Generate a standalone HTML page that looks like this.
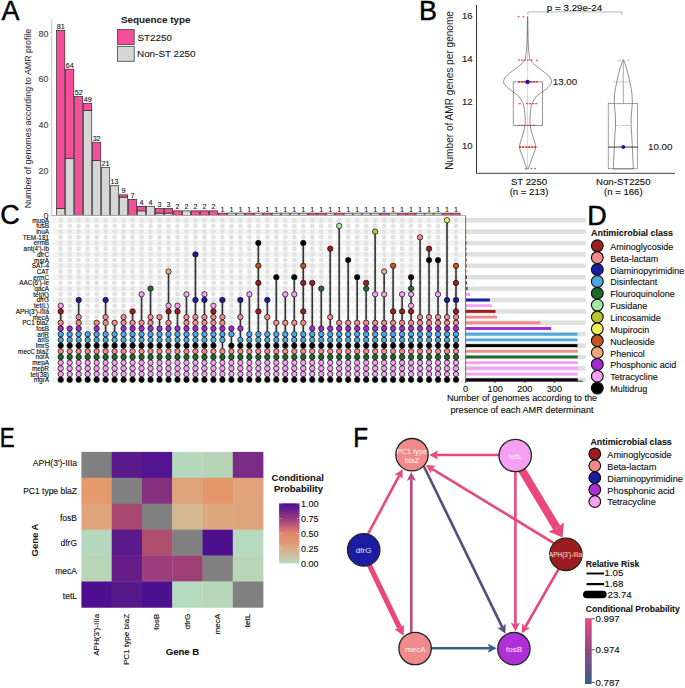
<!DOCTYPE html>
<html><head><meta charset="utf-8"><style>
html,body{margin:0;padding:0;background:#fff;width:685px;height:688px;overflow:hidden}
svg{display:block}
text{font-family:"Liberation Sans", sans-serif}
</style></head><body>
<svg width="685" height="688" viewBox="0 0 685 688">
<rect width="685" height="688" fill="#fff"/>
<line x1="51.8" y1="19" x2="51.8" y2="215.5" stroke="#c8c8c8" stroke-width="1"/>
<text x="48.3" y="219.4" font-size="8.8" text-anchor="end" fill="#444"  stroke="#444" stroke-width="0.13">0</text>
<line x1="50" y1="215.4" x2="51.8" y2="215.4" stroke="#c8c8c8" stroke-width="0.8"/>
<text x="48.3" y="173.72" font-size="8.8" text-anchor="end" fill="#444"  stroke="#444" stroke-width="0.13">20</text>
<line x1="50" y1="169.72" x2="51.8" y2="169.72" stroke="#c8c8c8" stroke-width="0.8"/>
<text x="48.3" y="128.04" font-size="8.8" text-anchor="end" fill="#444"  stroke="#444" stroke-width="0.13">40</text>
<line x1="50" y1="124.04" x2="51.8" y2="124.04" stroke="#c8c8c8" stroke-width="0.8"/>
<text x="48.3" y="82.36" font-size="8.8" text-anchor="end" fill="#444"  stroke="#444" stroke-width="0.13">60</text>
<line x1="50" y1="78.36" x2="51.8" y2="78.36" stroke="#c8c8c8" stroke-width="0.8"/>
<text x="48.3" y="36.68" font-size="8.8" text-anchor="end" fill="#444"  stroke="#444" stroke-width="0.13">80</text>
<line x1="50" y1="32.68" x2="51.8" y2="32.68" stroke="#c8c8c8" stroke-width="0.8"/>
<text transform="translate(30.9,118.5) rotate(-90)" font-size="8.9" text-anchor="middle" fill="#222">Number of genomes according to AMR profile</text>
<rect x="56.6" y="208.55" width="8.2" height="6.85" fill="#d6d6d6" stroke="#2a2a2a" stroke-width="0.7"/>
<rect x="56.6" y="30.4" width="8.2" height="178.15" fill="#f54f9a" stroke="#2a2a2a" stroke-width="0.7"/>
<text x="60.7" y="29" font-size="7.2" text-anchor="middle" fill="#222"  stroke="#222" stroke-width="0.13">81</text>
<rect x="65.58" y="158.3" width="8.2" height="57.1" fill="#d6d6d6" stroke="#2a2a2a" stroke-width="0.7"/>
<rect x="65.58" y="69.22" width="8.2" height="89.08" fill="#f54f9a" stroke="#2a2a2a" stroke-width="0.7"/>
<text x="69.68" y="67.82" font-size="7.2" text-anchor="middle" fill="#222"  stroke="#222" stroke-width="0.13">64</text>
<rect x="74.57" y="96.63" width="8.2" height="118.77" fill="#f54f9a" stroke="#2a2a2a" stroke-width="0.7"/>
<text x="78.67" y="95.23" font-size="7.2" text-anchor="middle" fill="#222"  stroke="#222" stroke-width="0.13">52</text>
<rect x="83.55" y="110.34" width="8.2" height="105.06" fill="#d6d6d6" stroke="#2a2a2a" stroke-width="0.7"/>
<rect x="83.55" y="103.48" width="8.2" height="6.85" fill="#f54f9a" stroke="#2a2a2a" stroke-width="0.7"/>
<text x="87.65" y="102.08" font-size="7.2" text-anchor="middle" fill="#222"  stroke="#222" stroke-width="0.13">49</text>
<rect x="92.54" y="160.58" width="8.2" height="54.82" fill="#d6d6d6" stroke="#2a2a2a" stroke-width="0.7"/>
<rect x="92.54" y="142.31" width="8.2" height="18.27" fill="#f54f9a" stroke="#2a2a2a" stroke-width="0.7"/>
<text x="96.64" y="140.91" font-size="7.2" text-anchor="middle" fill="#222"  stroke="#222" stroke-width="0.13">32</text>
<rect x="101.52" y="167.44" width="8.2" height="47.96" fill="#d6d6d6" stroke="#2a2a2a" stroke-width="0.7"/>
<text x="105.62" y="166.04" font-size="7.2" text-anchor="middle" fill="#222"  stroke="#222" stroke-width="0.13">21</text>
<rect x="110.5" y="185.71" width="8.2" height="29.69" fill="#d6d6d6" stroke="#2a2a2a" stroke-width="0.7"/>
<text x="114.6" y="184.31" font-size="7.2" text-anchor="middle" fill="#222"  stroke="#222" stroke-width="0.13">13</text>
<rect x="119.49" y="197.13" width="8.2" height="18.27" fill="#d6d6d6" stroke="#2a2a2a" stroke-width="0.7"/>
<rect x="119.49" y="194.84" width="8.2" height="2.28" fill="#f54f9a" stroke="#2a2a2a" stroke-width="0.7"/>
<text x="123.59" y="193.44" font-size="7.2" text-anchor="middle" fill="#222"  stroke="#222" stroke-width="0.13">9</text>
<rect x="128.47" y="199.41" width="8.2" height="15.99" fill="#f54f9a" stroke="#2a2a2a" stroke-width="0.7"/>
<text x="132.57" y="198.01" font-size="7.2" text-anchor="middle" fill="#222"  stroke="#222" stroke-width="0.13">7</text>
<rect x="137.46" y="210.83" width="8.2" height="4.57" fill="#d6d6d6" stroke="#2a2a2a" stroke-width="0.7"/>
<rect x="137.46" y="206.26" width="8.2" height="4.57" fill="#f54f9a" stroke="#2a2a2a" stroke-width="0.7"/>
<text x="141.56" y="204.86" font-size="7.2" text-anchor="middle" fill="#222"  stroke="#222" stroke-width="0.13">4</text>
<rect x="146.44" y="206.26" width="8.2" height="9.14" fill="#d6d6d6" stroke="#2a2a2a" stroke-width="0.7"/>
<text x="150.54" y="204.86" font-size="7.2" text-anchor="middle" fill="#222"  stroke="#222" stroke-width="0.13">4</text>
<rect x="155.42" y="213.12" width="8.2" height="2.28" fill="#d6d6d6" stroke="#2a2a2a" stroke-width="0.7"/>
<rect x="155.42" y="208.55" width="8.2" height="4.57" fill="#f54f9a" stroke="#2a2a2a" stroke-width="0.7"/>
<text x="159.52" y="207.15" font-size="7.2" text-anchor="middle" fill="#222"  stroke="#222" stroke-width="0.13">3</text>
<rect x="164.41" y="213.12" width="8.2" height="2.28" fill="#d6d6d6" stroke="#2a2a2a" stroke-width="0.7"/>
<rect x="164.41" y="208.55" width="8.2" height="4.57" fill="#f54f9a" stroke="#2a2a2a" stroke-width="0.7"/>
<text x="168.51" y="207.15" font-size="7.2" text-anchor="middle" fill="#222"  stroke="#222" stroke-width="0.13">3</text>
<rect x="173.39" y="210.83" width="8.2" height="4.57" fill="#f54f9a" stroke="#2a2a2a" stroke-width="0.7"/>
<text x="177.49" y="209.43" font-size="7.2" text-anchor="middle" fill="#222"  stroke="#222" stroke-width="0.13">2</text>
<rect x="182.38" y="210.83" width="8.2" height="4.57" fill="#d6d6d6" stroke="#2a2a2a" stroke-width="0.7"/>
<text x="186.48" y="209.43" font-size="7.2" text-anchor="middle" fill="#222"  stroke="#222" stroke-width="0.13">2</text>
<rect x="191.36" y="210.83" width="8.2" height="4.57" fill="#f54f9a" stroke="#2a2a2a" stroke-width="0.7"/>
<text x="195.46" y="209.43" font-size="7.2" text-anchor="middle" fill="#222"  stroke="#222" stroke-width="0.13">2</text>
<rect x="200.34" y="210.83" width="8.2" height="4.57" fill="#f54f9a" stroke="#2a2a2a" stroke-width="0.7"/>
<text x="204.44" y="209.43" font-size="7.2" text-anchor="middle" fill="#222"  stroke="#222" stroke-width="0.13">2</text>
<rect x="209.33" y="210.83" width="8.2" height="4.57" fill="#f54f9a" stroke="#2a2a2a" stroke-width="0.7"/>
<text x="213.43" y="209.43" font-size="7.2" text-anchor="middle" fill="#222"  stroke="#222" stroke-width="0.13">2</text>
<rect x="218.31" y="213.12" width="8.2" height="2.28" fill="#f54f9a" stroke="#2a2a2a" stroke-width="0.7"/>
<text x="222.41" y="211.72" font-size="7.2" text-anchor="middle" fill="#222"  stroke="#222" stroke-width="0.13">1</text>
<rect x="227.3" y="213.12" width="8.2" height="2.28" fill="#d6d6d6" stroke="#2a2a2a" stroke-width="0.7"/>
<text x="231.4" y="211.72" font-size="7.2" text-anchor="middle" fill="#222"  stroke="#222" stroke-width="0.13">1</text>
<rect x="236.28" y="213.12" width="8.2" height="2.28" fill="#d6d6d6" stroke="#2a2a2a" stroke-width="0.7"/>
<text x="240.38" y="211.72" font-size="7.2" text-anchor="middle" fill="#222"  stroke="#222" stroke-width="0.13">1</text>
<rect x="245.26" y="213.12" width="8.2" height="2.28" fill="#f54f9a" stroke="#2a2a2a" stroke-width="0.7"/>
<text x="249.36" y="211.72" font-size="7.2" text-anchor="middle" fill="#222"  stroke="#222" stroke-width="0.13">1</text>
<rect x="254.25" y="213.12" width="8.2" height="2.28" fill="#d6d6d6" stroke="#2a2a2a" stroke-width="0.7"/>
<text x="258.35" y="211.72" font-size="7.2" text-anchor="middle" fill="#222"  stroke="#222" stroke-width="0.13">1</text>
<rect x="263.23" y="213.12" width="8.2" height="2.28" fill="#f54f9a" stroke="#2a2a2a" stroke-width="0.7"/>
<text x="267.33" y="211.72" font-size="7.2" text-anchor="middle" fill="#222"  stroke="#222" stroke-width="0.13">1</text>
<rect x="272.22" y="213.12" width="8.2" height="2.28" fill="#d6d6d6" stroke="#2a2a2a" stroke-width="0.7"/>
<text x="276.32" y="211.72" font-size="7.2" text-anchor="middle" fill="#222"  stroke="#222" stroke-width="0.13">1</text>
<rect x="281.2" y="213.12" width="8.2" height="2.28" fill="#d6d6d6" stroke="#2a2a2a" stroke-width="0.7"/>
<text x="285.3" y="211.72" font-size="7.2" text-anchor="middle" fill="#222"  stroke="#222" stroke-width="0.13">1</text>
<rect x="290.18" y="213.12" width="8.2" height="2.28" fill="#d6d6d6" stroke="#2a2a2a" stroke-width="0.7"/>
<text x="294.28" y="211.72" font-size="7.2" text-anchor="middle" fill="#222"  stroke="#222" stroke-width="0.13">1</text>
<rect x="299.17" y="213.12" width="8.2" height="2.28" fill="#d6d6d6" stroke="#2a2a2a" stroke-width="0.7"/>
<text x="303.27" y="211.72" font-size="7.2" text-anchor="middle" fill="#222"  stroke="#222" stroke-width="0.13">1</text>
<rect x="308.15" y="213.12" width="8.2" height="2.28" fill="#f54f9a" stroke="#2a2a2a" stroke-width="0.7"/>
<text x="312.25" y="211.72" font-size="7.2" text-anchor="middle" fill="#222"  stroke="#222" stroke-width="0.13">1</text>
<rect x="317.14" y="213.12" width="8.2" height="2.28" fill="#f54f9a" stroke="#2a2a2a" stroke-width="0.7"/>
<text x="321.24" y="211.72" font-size="7.2" text-anchor="middle" fill="#222"  stroke="#222" stroke-width="0.13">1</text>
<rect x="326.12" y="213.12" width="8.2" height="2.28" fill="#d6d6d6" stroke="#2a2a2a" stroke-width="0.7"/>
<text x="330.22" y="211.72" font-size="7.2" text-anchor="middle" fill="#222"  stroke="#222" stroke-width="0.13">1</text>
<rect x="335.1" y="213.12" width="8.2" height="2.28" fill="#f54f9a" stroke="#2a2a2a" stroke-width="0.7"/>
<text x="339.2" y="211.72" font-size="7.2" text-anchor="middle" fill="#222"  stroke="#222" stroke-width="0.13">1</text>
<rect x="344.09" y="213.12" width="8.2" height="2.28" fill="#d6d6d6" stroke="#2a2a2a" stroke-width="0.7"/>
<text x="348.19" y="211.72" font-size="7.2" text-anchor="middle" fill="#222"  stroke="#222" stroke-width="0.13">1</text>
<rect x="353.07" y="213.12" width="8.2" height="2.28" fill="#d6d6d6" stroke="#2a2a2a" stroke-width="0.7"/>
<text x="357.17" y="211.72" font-size="7.2" text-anchor="middle" fill="#222"  stroke="#222" stroke-width="0.13">1</text>
<rect x="362.06" y="213.12" width="8.2" height="2.28" fill="#d6d6d6" stroke="#2a2a2a" stroke-width="0.7"/>
<text x="366.16" y="211.72" font-size="7.2" text-anchor="middle" fill="#222"  stroke="#222" stroke-width="0.13">1</text>
<rect x="371.04" y="213.12" width="8.2" height="2.28" fill="#d6d6d6" stroke="#2a2a2a" stroke-width="0.7"/>
<text x="375.14" y="211.72" font-size="7.2" text-anchor="middle" fill="#222"  stroke="#222" stroke-width="0.13">1</text>
<rect x="380.02" y="213.12" width="8.2" height="2.28" fill="#f54f9a" stroke="#2a2a2a" stroke-width="0.7"/>
<text x="384.12" y="211.72" font-size="7.2" text-anchor="middle" fill="#222"  stroke="#222" stroke-width="0.13">1</text>
<rect x="389.01" y="213.12" width="8.2" height="2.28" fill="#d6d6d6" stroke="#2a2a2a" stroke-width="0.7"/>
<text x="393.11" y="211.72" font-size="7.2" text-anchor="middle" fill="#222"  stroke="#222" stroke-width="0.13">1</text>
<rect x="397.99" y="213.12" width="8.2" height="2.28" fill="#f54f9a" stroke="#2a2a2a" stroke-width="0.7"/>
<text x="402.09" y="211.72" font-size="7.2" text-anchor="middle" fill="#222"  stroke="#222" stroke-width="0.13">1</text>
<rect x="406.98" y="213.12" width="8.2" height="2.28" fill="#f54f9a" stroke="#2a2a2a" stroke-width="0.7"/>
<text x="411.08" y="211.72" font-size="7.2" text-anchor="middle" fill="#222"  stroke="#222" stroke-width="0.13">1</text>
<rect x="415.96" y="213.12" width="8.2" height="2.28" fill="#d6d6d6" stroke="#2a2a2a" stroke-width="0.7"/>
<text x="420.06" y="211.72" font-size="7.2" text-anchor="middle" fill="#222"  stroke="#222" stroke-width="0.13">1</text>
<rect x="424.94" y="213.12" width="8.2" height="2.28" fill="#d6d6d6" stroke="#2a2a2a" stroke-width="0.7"/>
<text x="429.04" y="211.72" font-size="7.2" text-anchor="middle" fill="#222"  stroke="#222" stroke-width="0.13">1</text>
<rect x="433.93" y="213.12" width="8.2" height="2.28" fill="#d6d6d6" stroke="#2a2a2a" stroke-width="0.7"/>
<text x="438.03" y="211.72" font-size="7.2" text-anchor="middle" fill="#222"  stroke="#222" stroke-width="0.13">1</text>
<rect x="442.91" y="213.12" width="8.2" height="2.28" fill="#f54f9a" stroke="#2a2a2a" stroke-width="0.7"/>
<text x="447.01" y="211.72" font-size="7.2" text-anchor="middle" fill="#222"  stroke="#222" stroke-width="0.13">1</text>
<rect x="451.9" y="213.12" width="8.2" height="2.28" fill="#f54f9a" stroke="#2a2a2a" stroke-width="0.7"/>
<text x="456" y="211.72" font-size="7.2" text-anchor="middle" fill="#222"  stroke="#222" stroke-width="0.13">1</text>
<line x1="52" y1="215.5" x2="465.6" y2="215.5" stroke="#aaa" stroke-width="0.9"/>
<text x="120.9" y="22.6" font-size="9.9" text-anchor="start" font-weight="bold" fill="#222"  stroke="#222" stroke-width="0.08">Sequence type</text>
<rect x="117.4" y="29.5" width="16.8" height="15" fill="#f54f9a" stroke="#444" stroke-width="0.8"/>
<rect x="117.4" y="46.3" width="16.8" height="15" fill="#d6d6d6" stroke="#444" stroke-width="0.8"/>
<text x="137.5" y="40.5" font-size="9.9" text-anchor="start" fill="#222"  stroke="#222" stroke-width="0.13">ST2250</text>
<text x="137" y="56.5" font-size="9.9" text-anchor="start" fill="#222"  stroke="#222" stroke-width="0.13">Non-ST 2250</text>
<text x="1.4" y="20" font-size="27" text-anchor="start" fill="#000" stroke="#000" stroke-width="0.45">A</text>
<text x="419" y="19.8" font-size="27" text-anchor="start" fill="#000" stroke="#000" stroke-width="0.45">B</text>
<line x1="476.5" y1="5" x2="476.5" y2="173.3" stroke="#333" stroke-width="1"/>
<line x1="476.5" y1="173.3" x2="675" y2="173.3" stroke="#444" stroke-width="1"/>
<text x="472.6" y="148.89" font-size="9.5" text-anchor="end" fill="#222"  stroke="#222" stroke-width="0.13">10</text>
<text x="472.6" y="105.43" font-size="9.5" text-anchor="end" fill="#222"  stroke="#222" stroke-width="0.13">12</text>
<text x="472.6" y="61.97" font-size="9.5" text-anchor="end" fill="#222"  stroke="#222" stroke-width="0.13">14</text>
<text x="472.6" y="18.51" font-size="9.5" text-anchor="end" fill="#222"  stroke="#222" stroke-width="0.13">16</text>
<text transform="translate(453.2,90.4) rotate(-90)" font-size="10.1" text-anchor="middle" fill="#222">Number of AMR genes per genome</text>
<line x1="527.6" y1="16.71" x2="527.6" y2="168.82" stroke="#bbb" stroke-width="0.6"/>
<rect x="513.2" y="81.9" width="29.5" height="43.46" fill="none" stroke="#555" stroke-width="0.6"/>
<path d="M527.8,16.71 C527.82,18.52 527.85,23.95 527.9,27.58 C527.95,31.2 527.98,34.82 528.1,38.44 C528.22,42.06 528.4,46.59 528.6,49.31 C528.8,52.02 529,52.93 529.3,54.74 C529.6,56.55 529.35,58.36 530.4,60.17 C531.45,61.98 533.52,63.79 535.6,65.6 C537.68,67.41 540.65,69.22 542.9,71.04 C545.15,72.85 547.65,74.66 549.1,76.47 C550.55,78.28 551.6,80.27 551.6,81.9 C551.6,83.53 550.43,84.72 549.1,86.25 C547.77,87.77 545.68,89.4 543.6,91.03 C541.52,92.66 538.52,93.92 536.6,96.02 C534.68,98.13 533.13,100.91 532.1,103.63 C531.07,106.35 530.72,108.7 530.4,112.32 C530.08,115.94 529.78,121.38 530.2,125.36 C530.62,129.34 532,132.6 532.9,136.23 C533.8,139.85 535.73,143.47 535.6,147.09 C535.47,150.71 533.07,155.06 532.1,157.96 C531.13,160.85 530.42,162.66 529.8,164.47 C529.18,166.28 528.63,168.1 528.4,168.82 L526.8,168.82 C526.57,168.1 526.02,166.28 525.4,164.47 C524.78,162.66 524.07,160.85 523.1,157.96 C522.13,155.06 519.73,150.71 519.6,147.09 C519.47,143.47 521.4,139.85 522.3,136.23 C523.2,132.6 524.58,129.34 525,125.36 C525.42,121.38 525.12,115.94 524.8,112.32 C524.48,108.7 524.13,106.35 523.1,103.63 C522.07,100.91 520.52,98.13 518.6,96.02 C516.68,93.92 513.68,92.66 511.6,91.03 C509.52,89.4 507.43,87.77 506.1,86.25 C504.77,84.72 503.6,83.53 503.6,81.9 C503.6,80.27 504.65,78.28 506.1,76.47 C507.55,74.66 510.05,72.85 512.3,71.04 C514.55,69.22 517.52,67.41 519.6,65.6 C521.68,63.79 523.75,61.98 524.8,60.17 C525.85,58.36 525.6,56.55 525.9,54.74 C526.2,52.93 526.4,52.02 526.6,49.31 C526.8,46.59 526.98,42.06 527.1,38.44 C527.22,34.82 527.25,31.2 527.3,27.58 C527.35,23.95 527.38,18.52 527.4,16.71Z" fill="none" stroke="#444" stroke-width="0.6" stroke-linejoin="round"/>
<rect x="517.7" y="15.9" width="1.8" height="1.3" fill="#e03838" opacity="0.85"/>
<rect x="522.5" y="16.09" width="1.8" height="1.3" fill="#e03838" opacity="0.85"/>
<line x1="518.1" y1="60.17" x2="529.1" y2="60.17" stroke="#e03838" stroke-width="1.3" opacity="0.85" stroke-dasharray="2.2,0.8"/>
<rect x="530.7" y="59.44" width="1.8" height="1.3" fill="#e03838" opacity="0.85"/>
<rect x="536.2" y="59.58" width="1.8" height="1.3" fill="#e03838" opacity="0.85"/>
<line x1="518.1" y1="81.9" x2="537.6" y2="81.9" stroke="#d83030" stroke-width="1.6" opacity="0.95" stroke-dasharray="2.2,0.8"/>
<line x1="518.6" y1="103.63" x2="521.1" y2="103.63" stroke="#e03838" stroke-width="1.3" opacity="0.85" stroke-dasharray="2.2,0.8"/>
<line x1="526.1" y1="103.63" x2="537.6" y2="103.63" stroke="#e03838" stroke-width="1.3" opacity="0.85" stroke-dasharray="2.2,0.8"/>
<line x1="518.1" y1="125.36" x2="536.1" y2="125.36" stroke="#e03838" stroke-width="1.3" opacity="0.85" stroke-dasharray="2.2,0.8"/>
<line x1="519.1" y1="147.09" x2="537.6" y2="147.09" stroke="#e03030" stroke-width="1.6" opacity="0.95" stroke-dasharray="2.2,0.8"/>
<rect x="524.7" y="168.25" width="1.8" height="1.3" fill="#e03838" opacity="0.85"/>
<rect x="530.7" y="167.91" width="1.8" height="1.3" fill="#e03838" opacity="0.85"/>
<rect x="534.2" y="167.88" width="1.8" height="1.3" fill="#e03838" opacity="0.85"/>
<circle cx="527.6" cy="81.9" r="2.2" fill="#1a1aa8"/>
<text x="552.7" y="85.4" font-size="9.8" text-anchor="start" fill="#222"  stroke="#222" stroke-width="0.13">13.00</text>
<line x1="623.3" y1="60.17" x2="623.3" y2="103.63" stroke="#555" stroke-width="0.5"/>
<rect x="608.2" y="103.63" width="29.4" height="65.19" fill="none" stroke="#666" stroke-width="0.6"/>
<path d="M623.8,60.17 C624.38,61.98 626.3,67.41 627.3,71.04 C628.3,74.66 629.05,78.28 629.8,81.9 C630.55,85.52 631.38,89.14 631.8,92.77 C632.22,96.39 632.38,100.01 632.3,103.63 C632.22,107.25 631.5,110.87 631.3,114.5 C631.1,118.12 631.02,121.74 631.1,125.36 C631.18,128.98 631.6,132.6 631.8,136.23 C632,139.85 632.13,143.47 632.3,147.09 C632.47,150.71 632.63,154.51 632.8,157.96 C632.97,161.4 633.22,165.92 633.3,167.73 C633.38,169.54 633.3,168.64 633.3,168.82 L613.3,168.82 C613.3,168.64 613.22,169.54 613.3,167.73 C613.38,165.92 613.63,161.4 613.8,157.96 C613.97,154.51 614.13,150.71 614.3,147.09 C614.47,143.47 614.6,139.85 614.8,136.23 C615,132.6 615.42,128.98 615.5,125.36 C615.58,121.74 615.5,118.12 615.3,114.5 C615.1,110.87 614.38,107.25 614.3,103.63 C614.22,100.01 614.38,96.39 614.8,92.77 C615.22,89.14 616.05,85.52 616.8,81.9 C617.55,78.28 618.3,74.66 619.3,71.04 C620.3,67.41 622.22,61.98 622.8,60.17Z" fill="none" stroke="#444" stroke-width="0.6" stroke-linejoin="round"/>
<rect x="618.4" y="59.72" width="1.8" height="1.3" fill="#a8a8a8" opacity="0.85"/>
<rect x="622.4" y="59.38" width="1.8" height="1.3" fill="#a8a8a8" opacity="0.85"/>
<rect x="627.4" y="59.36" width="1.8" height="1.3" fill="#a8a8a8" opacity="0.85"/>
<line x1="613.3" y1="81.9" x2="631.3" y2="81.9" stroke="#a8a8a8" stroke-width="1.0" opacity="0.85" stroke-dasharray="2.2,0.8"/>
<line x1="614.8" y1="103.63" x2="632.3" y2="103.63" stroke="#a8a8a8" stroke-width="1.0" opacity="0.85" stroke-dasharray="2.2,0.8"/>
<line x1="615.3" y1="125.36" x2="619.3" y2="125.36" stroke="#a8a8a8" stroke-width="1.0" opacity="0.85" stroke-dasharray="2.2,0.8"/>
<line x1="622.3" y1="125.36" x2="631.3" y2="125.36" stroke="#a8a8a8" stroke-width="1.0" opacity="0.85" stroke-dasharray="2.2,0.8"/>
<line x1="613.8" y1="168.82" x2="630.8" y2="168.82" stroke="#a8a8a8" stroke-width="1.0" opacity="0.85" stroke-dasharray="2.2,0.8"/>
<line x1="608.2" y1="147.09" x2="637.6" y2="147.09" stroke="#222" stroke-width="0.9"/>
<circle cx="623.3" cy="147.09" r="2.0" fill="#1a1aa8"/>
<text x="648" y="149.59" font-size="9.8" text-anchor="start" fill="#222"  stroke="#222" stroke-width="0.13">10.00</text>
<path d="M527.9,14.9 L527.9,11.9 L621.7,11.9 L621.7,14.9" fill="none" stroke="#999" stroke-width="0.7"/>
<text x="574.5" y="10.6" font-size="9.8" text-anchor="middle" fill="#111"  stroke="#111" stroke-width="0.13">p = 3.29e-24</text>
<text x="529" y="185.2" font-size="9.6" text-anchor="middle" fill="#111"  stroke="#111" stroke-width="0.13">ST 2250</text>
<text x="529" y="195.2" font-size="9.6" text-anchor="middle" fill="#111"  stroke="#111" stroke-width="0.13">(n = 213)</text>
<text x="623.3" y="185.2" font-size="9.6" text-anchor="middle" fill="#111"  stroke="#111" stroke-width="0.13">Non-ST2250</text>
<text x="623.3" y="195.2" font-size="9.6" text-anchor="middle" fill="#111"  stroke="#111" stroke-width="0.13">(n = 166)</text>
<text x="0.3" y="224.4" font-size="27" text-anchor="start" fill="#000" stroke="#000" stroke-width="0.45">C</text>
<rect x="52" y="217.35" width="413.6" height="5.7" fill="#f3f3f3"/>
<rect x="52" y="228.75" width="413.6" height="5.7" fill="#f3f3f3"/>
<rect x="52" y="240.15" width="413.6" height="5.7" fill="#f3f3f3"/>
<rect x="52" y="251.55" width="413.6" height="5.7" fill="#f3f3f3"/>
<rect x="52" y="262.95" width="413.6" height="5.7" fill="#f3f3f3"/>
<rect x="52" y="274.35" width="413.6" height="5.7" fill="#f3f3f3"/>
<rect x="52" y="285.75" width="413.6" height="5.7" fill="#f3f3f3"/>
<rect x="52" y="297.15" width="413.6" height="5.7" fill="#f3f3f3"/>
<rect x="52" y="308.55" width="413.6" height="5.7" fill="#f3f3f3"/>
<rect x="52" y="319.95" width="413.6" height="5.7" fill="#f3f3f3"/>
<rect x="52" y="331.35" width="413.6" height="5.7" fill="#f3f3f3"/>
<rect x="52" y="342.75" width="413.6" height="5.7" fill="#f3f3f3"/>
<rect x="52" y="354.15" width="413.6" height="5.7" fill="#f3f3f3"/>
<rect x="52" y="365.55" width="413.6" height="5.7" fill="#f3f3f3"/>
<rect x="52" y="376.95" width="413.6" height="5.7" fill="#f3f3f3"/>
<text transform="translate(49,222.6) scale(0.97,1)" font-size="6.6" text-anchor="end" fill="#000" stroke="#000" stroke-width="0.1">mupA</text>
<text transform="translate(49,228.3) scale(0.97,1)" font-size="6.6" text-anchor="end" fill="#000" stroke="#000" stroke-width="0.1">fusB</text>
<text transform="translate(49,234) scale(0.97,1)" font-size="6.6" text-anchor="end" fill="#000" stroke="#000" stroke-width="0.1">lnuA</text>
<text transform="translate(49,239.7) scale(0.97,1)" font-size="6.6" text-anchor="end" fill="#000" stroke="#000" stroke-width="0.1">TEM-181</text>
<text transform="translate(49,245.4) scale(0.97,1)" font-size="6.6" text-anchor="end" fill="#000" stroke="#000" stroke-width="0.1">ermB</text>
<text transform="translate(49,251.1) scale(0.97,1)" font-size="6.6" text-anchor="end" fill="#000" stroke="#000" stroke-width="0.1">ant(4')-Ib</text>
<text transform="translate(49,256.8) scale(0.97,1)" font-size="6.6" text-anchor="end" fill="#000" stroke="#000" stroke-width="0.1">dfrC</text>
<text transform="translate(49,262.5) scale(0.97,1)" font-size="6.6" text-anchor="end" fill="#000" stroke="#000" stroke-width="0.1">msrA</text>
<text transform="translate(49,268.2) scale(0.97,1)" font-size="6.6" text-anchor="end" fill="#000" stroke="#000" stroke-width="0.1">SAT-4</text>
<text transform="translate(49,273.9) scale(0.97,1)" font-size="6.6" text-anchor="end" fill="#000" stroke="#000" stroke-width="0.1">CAT</text>
<text transform="translate(49,279.6) scale(0.97,1)" font-size="6.6" text-anchor="end" fill="#000" stroke="#000" stroke-width="0.1">ermC</text>
<text transform="translate(49,285.3) scale(0.97,1)" font-size="6.6" text-anchor="end" fill="#000" stroke="#000" stroke-width="0.1">AAC(6')-Ie</text>
<text transform="translate(49,291) scale(0.97,1)" font-size="6.6" text-anchor="end" fill="#000" stroke="#000" stroke-width="0.1">qacA</text>
<text transform="translate(49,296.7) scale(0.97,1)" font-size="6.6" text-anchor="end" fill="#000" stroke="#000" stroke-width="0.1">tet(K)</text>
<text transform="translate(49,302.4) scale(0.97,1)" font-size="6.6" text-anchor="end" fill="#000" stroke="#000" stroke-width="0.1">dfrG</text>
<text transform="translate(49,308.1) scale(0.97,1)" font-size="6.6" text-anchor="end" fill="#000" stroke="#000" stroke-width="0.1">tet(L)</text>
<text transform="translate(49,313.8) scale(0.97,1)" font-size="6.6" text-anchor="end" fill="#000" stroke="#000" stroke-width="0.1">APH(3')-IIIa</text>
<text transform="translate(49,319.5) scale(0.97,1)" font-size="6.6" text-anchor="end" fill="#000" stroke="#000" stroke-width="0.1">mecA</text>
<text transform="translate(49,325.2) scale(0.97,1)" font-size="6.6" text-anchor="end" fill="#000" stroke="#000" stroke-width="0.1">PC1 blaZ</text>
<text transform="translate(49,330.9) scale(0.97,1)" font-size="6.6" text-anchor="end" fill="#000" stroke="#000" stroke-width="0.1">fosB</text>
<text transform="translate(49,336.6) scale(0.97,1)" font-size="6.6" text-anchor="end" fill="#000" stroke="#000" stroke-width="0.1">arlR</text>
<text transform="translate(49,342.3) scale(0.97,1)" font-size="6.6" text-anchor="end" fill="#000" stroke="#000" stroke-width="0.1">arlS</text>
<text transform="translate(49,348) scale(0.97,1)" font-size="6.6" text-anchor="end" fill="#000" stroke="#000" stroke-width="0.1">lmrS</text>
<text transform="translate(49,353.7) scale(0.97,1)" font-size="6.6" text-anchor="end" fill="#000" stroke="#000" stroke-width="0.1">mecC blaZ</text>
<text transform="translate(49,359.4) scale(0.97,1)" font-size="6.6" text-anchor="end" fill="#000" stroke="#000" stroke-width="0.1">norA</text>
<text transform="translate(49,365.1) scale(0.97,1)" font-size="6.6" text-anchor="end" fill="#000" stroke="#000" stroke-width="0.1">mepA</text>
<text transform="translate(49,370.8) scale(0.97,1)" font-size="6.6" text-anchor="end" fill="#000" stroke="#000" stroke-width="0.1">mepR</text>
<text transform="translate(49,376.5) scale(0.97,1)" font-size="6.6" text-anchor="end" fill="#000" stroke="#000" stroke-width="0.1">tet(38)</text>
<text transform="translate(49,382.2) scale(0.97,1)" font-size="6.6" text-anchor="end" fill="#000" stroke="#000" stroke-width="0.1">mgrA</text>
<path d="M58.25,220.2a2.45,2.45 0 1,0 4.9,0a2.45,2.45 0 1,0 -4.9,0M58.25,225.9a2.45,2.45 0 1,0 4.9,0a2.45,2.45 0 1,0 -4.9,0M58.25,231.6a2.45,2.45 0 1,0 4.9,0a2.45,2.45 0 1,0 -4.9,0M58.25,237.3a2.45,2.45 0 1,0 4.9,0a2.45,2.45 0 1,0 -4.9,0M58.25,243a2.45,2.45 0 1,0 4.9,0a2.45,2.45 0 1,0 -4.9,0M58.25,248.7a2.45,2.45 0 1,0 4.9,0a2.45,2.45 0 1,0 -4.9,0M58.25,254.4a2.45,2.45 0 1,0 4.9,0a2.45,2.45 0 1,0 -4.9,0M58.25,260.1a2.45,2.45 0 1,0 4.9,0a2.45,2.45 0 1,0 -4.9,0M58.25,265.8a2.45,2.45 0 1,0 4.9,0a2.45,2.45 0 1,0 -4.9,0M58.25,271.5a2.45,2.45 0 1,0 4.9,0a2.45,2.45 0 1,0 -4.9,0M58.25,277.2a2.45,2.45 0 1,0 4.9,0a2.45,2.45 0 1,0 -4.9,0M58.25,282.9a2.45,2.45 0 1,0 4.9,0a2.45,2.45 0 1,0 -4.9,0M58.25,288.6a2.45,2.45 0 1,0 4.9,0a2.45,2.45 0 1,0 -4.9,0M58.25,294.3a2.45,2.45 0 1,0 4.9,0a2.45,2.45 0 1,0 -4.9,0M58.25,300a2.45,2.45 0 1,0 4.9,0a2.45,2.45 0 1,0 -4.9,0M58.25,305.7a2.45,2.45 0 1,0 4.9,0a2.45,2.45 0 1,0 -4.9,0M58.25,311.4a2.45,2.45 0 1,0 4.9,0a2.45,2.45 0 1,0 -4.9,0M58.25,317.1a2.45,2.45 0 1,0 4.9,0a2.45,2.45 0 1,0 -4.9,0M58.25,322.8a2.45,2.45 0 1,0 4.9,0a2.45,2.45 0 1,0 -4.9,0M58.25,328.5a2.45,2.45 0 1,0 4.9,0a2.45,2.45 0 1,0 -4.9,0M58.25,334.2a2.45,2.45 0 1,0 4.9,0a2.45,2.45 0 1,0 -4.9,0M58.25,339.9a2.45,2.45 0 1,0 4.9,0a2.45,2.45 0 1,0 -4.9,0M58.25,345.6a2.45,2.45 0 1,0 4.9,0a2.45,2.45 0 1,0 -4.9,0M58.25,351.3a2.45,2.45 0 1,0 4.9,0a2.45,2.45 0 1,0 -4.9,0M58.25,357a2.45,2.45 0 1,0 4.9,0a2.45,2.45 0 1,0 -4.9,0M58.25,362.7a2.45,2.45 0 1,0 4.9,0a2.45,2.45 0 1,0 -4.9,0M58.25,368.4a2.45,2.45 0 1,0 4.9,0a2.45,2.45 0 1,0 -4.9,0M58.25,374.1a2.45,2.45 0 1,0 4.9,0a2.45,2.45 0 1,0 -4.9,0M58.25,379.8a2.45,2.45 0 1,0 4.9,0a2.45,2.45 0 1,0 -4.9,0M67.23,220.2a2.45,2.45 0 1,0 4.9,0a2.45,2.45 0 1,0 -4.9,0M67.23,225.9a2.45,2.45 0 1,0 4.9,0a2.45,2.45 0 1,0 -4.9,0M67.23,231.6a2.45,2.45 0 1,0 4.9,0a2.45,2.45 0 1,0 -4.9,0M67.23,237.3a2.45,2.45 0 1,0 4.9,0a2.45,2.45 0 1,0 -4.9,0M67.23,243a2.45,2.45 0 1,0 4.9,0a2.45,2.45 0 1,0 -4.9,0M67.23,248.7a2.45,2.45 0 1,0 4.9,0a2.45,2.45 0 1,0 -4.9,0M67.23,254.4a2.45,2.45 0 1,0 4.9,0a2.45,2.45 0 1,0 -4.9,0M67.23,260.1a2.45,2.45 0 1,0 4.9,0a2.45,2.45 0 1,0 -4.9,0M67.23,265.8a2.45,2.45 0 1,0 4.9,0a2.45,2.45 0 1,0 -4.9,0M67.23,271.5a2.45,2.45 0 1,0 4.9,0a2.45,2.45 0 1,0 -4.9,0M67.23,277.2a2.45,2.45 0 1,0 4.9,0a2.45,2.45 0 1,0 -4.9,0M67.23,282.9a2.45,2.45 0 1,0 4.9,0a2.45,2.45 0 1,0 -4.9,0M67.23,288.6a2.45,2.45 0 1,0 4.9,0a2.45,2.45 0 1,0 -4.9,0M67.23,294.3a2.45,2.45 0 1,0 4.9,0a2.45,2.45 0 1,0 -4.9,0M67.23,300a2.45,2.45 0 1,0 4.9,0a2.45,2.45 0 1,0 -4.9,0M67.23,305.7a2.45,2.45 0 1,0 4.9,0a2.45,2.45 0 1,0 -4.9,0M67.23,311.4a2.45,2.45 0 1,0 4.9,0a2.45,2.45 0 1,0 -4.9,0M67.23,317.1a2.45,2.45 0 1,0 4.9,0a2.45,2.45 0 1,0 -4.9,0M67.23,322.8a2.45,2.45 0 1,0 4.9,0a2.45,2.45 0 1,0 -4.9,0M67.23,328.5a2.45,2.45 0 1,0 4.9,0a2.45,2.45 0 1,0 -4.9,0M67.23,334.2a2.45,2.45 0 1,0 4.9,0a2.45,2.45 0 1,0 -4.9,0M67.23,339.9a2.45,2.45 0 1,0 4.9,0a2.45,2.45 0 1,0 -4.9,0M67.23,345.6a2.45,2.45 0 1,0 4.9,0a2.45,2.45 0 1,0 -4.9,0M67.23,351.3a2.45,2.45 0 1,0 4.9,0a2.45,2.45 0 1,0 -4.9,0M67.23,357a2.45,2.45 0 1,0 4.9,0a2.45,2.45 0 1,0 -4.9,0M67.23,362.7a2.45,2.45 0 1,0 4.9,0a2.45,2.45 0 1,0 -4.9,0M67.23,368.4a2.45,2.45 0 1,0 4.9,0a2.45,2.45 0 1,0 -4.9,0M67.23,374.1a2.45,2.45 0 1,0 4.9,0a2.45,2.45 0 1,0 -4.9,0M67.23,379.8a2.45,2.45 0 1,0 4.9,0a2.45,2.45 0 1,0 -4.9,0M76.22,220.2a2.45,2.45 0 1,0 4.9,0a2.45,2.45 0 1,0 -4.9,0M76.22,225.9a2.45,2.45 0 1,0 4.9,0a2.45,2.45 0 1,0 -4.9,0M76.22,231.6a2.45,2.45 0 1,0 4.9,0a2.45,2.45 0 1,0 -4.9,0M76.22,237.3a2.45,2.45 0 1,0 4.9,0a2.45,2.45 0 1,0 -4.9,0M76.22,243a2.45,2.45 0 1,0 4.9,0a2.45,2.45 0 1,0 -4.9,0M76.22,248.7a2.45,2.45 0 1,0 4.9,0a2.45,2.45 0 1,0 -4.9,0M76.22,254.4a2.45,2.45 0 1,0 4.9,0a2.45,2.45 0 1,0 -4.9,0M76.22,260.1a2.45,2.45 0 1,0 4.9,0a2.45,2.45 0 1,0 -4.9,0M76.22,265.8a2.45,2.45 0 1,0 4.9,0a2.45,2.45 0 1,0 -4.9,0M76.22,271.5a2.45,2.45 0 1,0 4.9,0a2.45,2.45 0 1,0 -4.9,0M76.22,277.2a2.45,2.45 0 1,0 4.9,0a2.45,2.45 0 1,0 -4.9,0M76.22,282.9a2.45,2.45 0 1,0 4.9,0a2.45,2.45 0 1,0 -4.9,0M76.22,288.6a2.45,2.45 0 1,0 4.9,0a2.45,2.45 0 1,0 -4.9,0M76.22,294.3a2.45,2.45 0 1,0 4.9,0a2.45,2.45 0 1,0 -4.9,0M76.22,300a2.45,2.45 0 1,0 4.9,0a2.45,2.45 0 1,0 -4.9,0M76.22,305.7a2.45,2.45 0 1,0 4.9,0a2.45,2.45 0 1,0 -4.9,0M76.22,311.4a2.45,2.45 0 1,0 4.9,0a2.45,2.45 0 1,0 -4.9,0M76.22,317.1a2.45,2.45 0 1,0 4.9,0a2.45,2.45 0 1,0 -4.9,0M76.22,322.8a2.45,2.45 0 1,0 4.9,0a2.45,2.45 0 1,0 -4.9,0M76.22,328.5a2.45,2.45 0 1,0 4.9,0a2.45,2.45 0 1,0 -4.9,0M76.22,334.2a2.45,2.45 0 1,0 4.9,0a2.45,2.45 0 1,0 -4.9,0M76.22,339.9a2.45,2.45 0 1,0 4.9,0a2.45,2.45 0 1,0 -4.9,0M76.22,345.6a2.45,2.45 0 1,0 4.9,0a2.45,2.45 0 1,0 -4.9,0M76.22,351.3a2.45,2.45 0 1,0 4.9,0a2.45,2.45 0 1,0 -4.9,0M76.22,357a2.45,2.45 0 1,0 4.9,0a2.45,2.45 0 1,0 -4.9,0M76.22,362.7a2.45,2.45 0 1,0 4.9,0a2.45,2.45 0 1,0 -4.9,0M76.22,368.4a2.45,2.45 0 1,0 4.9,0a2.45,2.45 0 1,0 -4.9,0M76.22,374.1a2.45,2.45 0 1,0 4.9,0a2.45,2.45 0 1,0 -4.9,0M76.22,379.8a2.45,2.45 0 1,0 4.9,0a2.45,2.45 0 1,0 -4.9,0M85.2,220.2a2.45,2.45 0 1,0 4.9,0a2.45,2.45 0 1,0 -4.9,0M85.2,225.9a2.45,2.45 0 1,0 4.9,0a2.45,2.45 0 1,0 -4.9,0M85.2,231.6a2.45,2.45 0 1,0 4.9,0a2.45,2.45 0 1,0 -4.9,0M85.2,237.3a2.45,2.45 0 1,0 4.9,0a2.45,2.45 0 1,0 -4.9,0M85.2,243a2.45,2.45 0 1,0 4.9,0a2.45,2.45 0 1,0 -4.9,0M85.2,248.7a2.45,2.45 0 1,0 4.9,0a2.45,2.45 0 1,0 -4.9,0M85.2,254.4a2.45,2.45 0 1,0 4.9,0a2.45,2.45 0 1,0 -4.9,0M85.2,260.1a2.45,2.45 0 1,0 4.9,0a2.45,2.45 0 1,0 -4.9,0M85.2,265.8a2.45,2.45 0 1,0 4.9,0a2.45,2.45 0 1,0 -4.9,0M85.2,271.5a2.45,2.45 0 1,0 4.9,0a2.45,2.45 0 1,0 -4.9,0M85.2,277.2a2.45,2.45 0 1,0 4.9,0a2.45,2.45 0 1,0 -4.9,0M85.2,282.9a2.45,2.45 0 1,0 4.9,0a2.45,2.45 0 1,0 -4.9,0M85.2,288.6a2.45,2.45 0 1,0 4.9,0a2.45,2.45 0 1,0 -4.9,0M85.2,294.3a2.45,2.45 0 1,0 4.9,0a2.45,2.45 0 1,0 -4.9,0M85.2,300a2.45,2.45 0 1,0 4.9,0a2.45,2.45 0 1,0 -4.9,0M85.2,305.7a2.45,2.45 0 1,0 4.9,0a2.45,2.45 0 1,0 -4.9,0M85.2,311.4a2.45,2.45 0 1,0 4.9,0a2.45,2.45 0 1,0 -4.9,0M85.2,317.1a2.45,2.45 0 1,0 4.9,0a2.45,2.45 0 1,0 -4.9,0M85.2,322.8a2.45,2.45 0 1,0 4.9,0a2.45,2.45 0 1,0 -4.9,0M85.2,328.5a2.45,2.45 0 1,0 4.9,0a2.45,2.45 0 1,0 -4.9,0M85.2,334.2a2.45,2.45 0 1,0 4.9,0a2.45,2.45 0 1,0 -4.9,0M85.2,339.9a2.45,2.45 0 1,0 4.9,0a2.45,2.45 0 1,0 -4.9,0M85.2,345.6a2.45,2.45 0 1,0 4.9,0a2.45,2.45 0 1,0 -4.9,0M85.2,351.3a2.45,2.45 0 1,0 4.9,0a2.45,2.45 0 1,0 -4.9,0M85.2,357a2.45,2.45 0 1,0 4.9,0a2.45,2.45 0 1,0 -4.9,0M85.2,362.7a2.45,2.45 0 1,0 4.9,0a2.45,2.45 0 1,0 -4.9,0M85.2,368.4a2.45,2.45 0 1,0 4.9,0a2.45,2.45 0 1,0 -4.9,0M85.2,374.1a2.45,2.45 0 1,0 4.9,0a2.45,2.45 0 1,0 -4.9,0M85.2,379.8a2.45,2.45 0 1,0 4.9,0a2.45,2.45 0 1,0 -4.9,0M94.19,220.2a2.45,2.45 0 1,0 4.9,0a2.45,2.45 0 1,0 -4.9,0M94.19,225.9a2.45,2.45 0 1,0 4.9,0a2.45,2.45 0 1,0 -4.9,0M94.19,231.6a2.45,2.45 0 1,0 4.9,0a2.45,2.45 0 1,0 -4.9,0M94.19,237.3a2.45,2.45 0 1,0 4.9,0a2.45,2.45 0 1,0 -4.9,0M94.19,243a2.45,2.45 0 1,0 4.9,0a2.45,2.45 0 1,0 -4.9,0M94.19,248.7a2.45,2.45 0 1,0 4.9,0a2.45,2.45 0 1,0 -4.9,0M94.19,254.4a2.45,2.45 0 1,0 4.9,0a2.45,2.45 0 1,0 -4.9,0M94.19,260.1a2.45,2.45 0 1,0 4.9,0a2.45,2.45 0 1,0 -4.9,0M94.19,265.8a2.45,2.45 0 1,0 4.9,0a2.45,2.45 0 1,0 -4.9,0M94.19,271.5a2.45,2.45 0 1,0 4.9,0a2.45,2.45 0 1,0 -4.9,0M94.19,277.2a2.45,2.45 0 1,0 4.9,0a2.45,2.45 0 1,0 -4.9,0M94.19,282.9a2.45,2.45 0 1,0 4.9,0a2.45,2.45 0 1,0 -4.9,0M94.19,288.6a2.45,2.45 0 1,0 4.9,0a2.45,2.45 0 1,0 -4.9,0M94.19,294.3a2.45,2.45 0 1,0 4.9,0a2.45,2.45 0 1,0 -4.9,0M94.19,300a2.45,2.45 0 1,0 4.9,0a2.45,2.45 0 1,0 -4.9,0M94.19,305.7a2.45,2.45 0 1,0 4.9,0a2.45,2.45 0 1,0 -4.9,0M94.19,311.4a2.45,2.45 0 1,0 4.9,0a2.45,2.45 0 1,0 -4.9,0M94.19,317.1a2.45,2.45 0 1,0 4.9,0a2.45,2.45 0 1,0 -4.9,0M94.19,322.8a2.45,2.45 0 1,0 4.9,0a2.45,2.45 0 1,0 -4.9,0M94.19,328.5a2.45,2.45 0 1,0 4.9,0a2.45,2.45 0 1,0 -4.9,0M94.19,334.2a2.45,2.45 0 1,0 4.9,0a2.45,2.45 0 1,0 -4.9,0M94.19,339.9a2.45,2.45 0 1,0 4.9,0a2.45,2.45 0 1,0 -4.9,0M94.19,345.6a2.45,2.45 0 1,0 4.9,0a2.45,2.45 0 1,0 -4.9,0M94.19,351.3a2.45,2.45 0 1,0 4.9,0a2.45,2.45 0 1,0 -4.9,0M94.19,357a2.45,2.45 0 1,0 4.9,0a2.45,2.45 0 1,0 -4.9,0M94.19,362.7a2.45,2.45 0 1,0 4.9,0a2.45,2.45 0 1,0 -4.9,0M94.19,368.4a2.45,2.45 0 1,0 4.9,0a2.45,2.45 0 1,0 -4.9,0M94.19,374.1a2.45,2.45 0 1,0 4.9,0a2.45,2.45 0 1,0 -4.9,0M94.19,379.8a2.45,2.45 0 1,0 4.9,0a2.45,2.45 0 1,0 -4.9,0M103.17,220.2a2.45,2.45 0 1,0 4.9,0a2.45,2.45 0 1,0 -4.9,0M103.17,225.9a2.45,2.45 0 1,0 4.9,0a2.45,2.45 0 1,0 -4.9,0M103.17,231.6a2.45,2.45 0 1,0 4.9,0a2.45,2.45 0 1,0 -4.9,0M103.17,237.3a2.45,2.45 0 1,0 4.9,0a2.45,2.45 0 1,0 -4.9,0M103.17,243a2.45,2.45 0 1,0 4.9,0a2.45,2.45 0 1,0 -4.9,0M103.17,248.7a2.45,2.45 0 1,0 4.9,0a2.45,2.45 0 1,0 -4.9,0M103.17,254.4a2.45,2.45 0 1,0 4.9,0a2.45,2.45 0 1,0 -4.9,0M103.17,260.1a2.45,2.45 0 1,0 4.9,0a2.45,2.45 0 1,0 -4.9,0M103.17,265.8a2.45,2.45 0 1,0 4.9,0a2.45,2.45 0 1,0 -4.9,0M103.17,271.5a2.45,2.45 0 1,0 4.9,0a2.45,2.45 0 1,0 -4.9,0M103.17,277.2a2.45,2.45 0 1,0 4.9,0a2.45,2.45 0 1,0 -4.9,0M103.17,282.9a2.45,2.45 0 1,0 4.9,0a2.45,2.45 0 1,0 -4.9,0M103.17,288.6a2.45,2.45 0 1,0 4.9,0a2.45,2.45 0 1,0 -4.9,0M103.17,294.3a2.45,2.45 0 1,0 4.9,0a2.45,2.45 0 1,0 -4.9,0M103.17,300a2.45,2.45 0 1,0 4.9,0a2.45,2.45 0 1,0 -4.9,0M103.17,305.7a2.45,2.45 0 1,0 4.9,0a2.45,2.45 0 1,0 -4.9,0M103.17,311.4a2.45,2.45 0 1,0 4.9,0a2.45,2.45 0 1,0 -4.9,0M103.17,317.1a2.45,2.45 0 1,0 4.9,0a2.45,2.45 0 1,0 -4.9,0M103.17,322.8a2.45,2.45 0 1,0 4.9,0a2.45,2.45 0 1,0 -4.9,0M103.17,328.5a2.45,2.45 0 1,0 4.9,0a2.45,2.45 0 1,0 -4.9,0M103.17,334.2a2.45,2.45 0 1,0 4.9,0a2.45,2.45 0 1,0 -4.9,0M103.17,339.9a2.45,2.45 0 1,0 4.9,0a2.45,2.45 0 1,0 -4.9,0M103.17,345.6a2.45,2.45 0 1,0 4.9,0a2.45,2.45 0 1,0 -4.9,0M103.17,351.3a2.45,2.45 0 1,0 4.9,0a2.45,2.45 0 1,0 -4.9,0M103.17,357a2.45,2.45 0 1,0 4.9,0a2.45,2.45 0 1,0 -4.9,0M103.17,362.7a2.45,2.45 0 1,0 4.9,0a2.45,2.45 0 1,0 -4.9,0M103.17,368.4a2.45,2.45 0 1,0 4.9,0a2.45,2.45 0 1,0 -4.9,0M103.17,374.1a2.45,2.45 0 1,0 4.9,0a2.45,2.45 0 1,0 -4.9,0M103.17,379.8a2.45,2.45 0 1,0 4.9,0a2.45,2.45 0 1,0 -4.9,0M112.15,220.2a2.45,2.45 0 1,0 4.9,0a2.45,2.45 0 1,0 -4.9,0M112.15,225.9a2.45,2.45 0 1,0 4.9,0a2.45,2.45 0 1,0 -4.9,0M112.15,231.6a2.45,2.45 0 1,0 4.9,0a2.45,2.45 0 1,0 -4.9,0M112.15,237.3a2.45,2.45 0 1,0 4.9,0a2.45,2.45 0 1,0 -4.9,0M112.15,243a2.45,2.45 0 1,0 4.9,0a2.45,2.45 0 1,0 -4.9,0M112.15,248.7a2.45,2.45 0 1,0 4.9,0a2.45,2.45 0 1,0 -4.9,0M112.15,254.4a2.45,2.45 0 1,0 4.9,0a2.45,2.45 0 1,0 -4.9,0M112.15,260.1a2.45,2.45 0 1,0 4.9,0a2.45,2.45 0 1,0 -4.9,0M112.15,265.8a2.45,2.45 0 1,0 4.9,0a2.45,2.45 0 1,0 -4.9,0M112.15,271.5a2.45,2.45 0 1,0 4.9,0a2.45,2.45 0 1,0 -4.9,0M112.15,277.2a2.45,2.45 0 1,0 4.9,0a2.45,2.45 0 1,0 -4.9,0M112.15,282.9a2.45,2.45 0 1,0 4.9,0a2.45,2.45 0 1,0 -4.9,0M112.15,288.6a2.45,2.45 0 1,0 4.9,0a2.45,2.45 0 1,0 -4.9,0M112.15,294.3a2.45,2.45 0 1,0 4.9,0a2.45,2.45 0 1,0 -4.9,0M112.15,300a2.45,2.45 0 1,0 4.9,0a2.45,2.45 0 1,0 -4.9,0M112.15,305.7a2.45,2.45 0 1,0 4.9,0a2.45,2.45 0 1,0 -4.9,0M112.15,311.4a2.45,2.45 0 1,0 4.9,0a2.45,2.45 0 1,0 -4.9,0M112.15,317.1a2.45,2.45 0 1,0 4.9,0a2.45,2.45 0 1,0 -4.9,0M112.15,322.8a2.45,2.45 0 1,0 4.9,0a2.45,2.45 0 1,0 -4.9,0M112.15,328.5a2.45,2.45 0 1,0 4.9,0a2.45,2.45 0 1,0 -4.9,0M112.15,334.2a2.45,2.45 0 1,0 4.9,0a2.45,2.45 0 1,0 -4.9,0M112.15,339.9a2.45,2.45 0 1,0 4.9,0a2.45,2.45 0 1,0 -4.9,0M112.15,345.6a2.45,2.45 0 1,0 4.9,0a2.45,2.45 0 1,0 -4.9,0M112.15,351.3a2.45,2.45 0 1,0 4.9,0a2.45,2.45 0 1,0 -4.9,0M112.15,357a2.45,2.45 0 1,0 4.9,0a2.45,2.45 0 1,0 -4.9,0M112.15,362.7a2.45,2.45 0 1,0 4.9,0a2.45,2.45 0 1,0 -4.9,0M112.15,368.4a2.45,2.45 0 1,0 4.9,0a2.45,2.45 0 1,0 -4.9,0M112.15,374.1a2.45,2.45 0 1,0 4.9,0a2.45,2.45 0 1,0 -4.9,0M112.15,379.8a2.45,2.45 0 1,0 4.9,0a2.45,2.45 0 1,0 -4.9,0M121.14,220.2a2.45,2.45 0 1,0 4.9,0a2.45,2.45 0 1,0 -4.9,0M121.14,225.9a2.45,2.45 0 1,0 4.9,0a2.45,2.45 0 1,0 -4.9,0M121.14,231.6a2.45,2.45 0 1,0 4.9,0a2.45,2.45 0 1,0 -4.9,0M121.14,237.3a2.45,2.45 0 1,0 4.9,0a2.45,2.45 0 1,0 -4.9,0M121.14,243a2.45,2.45 0 1,0 4.9,0a2.45,2.45 0 1,0 -4.9,0M121.14,248.7a2.45,2.45 0 1,0 4.9,0a2.45,2.45 0 1,0 -4.9,0M121.14,254.4a2.45,2.45 0 1,0 4.9,0a2.45,2.45 0 1,0 -4.9,0M121.14,260.1a2.45,2.45 0 1,0 4.9,0a2.45,2.45 0 1,0 -4.9,0M121.14,265.8a2.45,2.45 0 1,0 4.9,0a2.45,2.45 0 1,0 -4.9,0M121.14,271.5a2.45,2.45 0 1,0 4.9,0a2.45,2.45 0 1,0 -4.9,0M121.14,277.2a2.45,2.45 0 1,0 4.9,0a2.45,2.45 0 1,0 -4.9,0M121.14,282.9a2.45,2.45 0 1,0 4.9,0a2.45,2.45 0 1,0 -4.9,0M121.14,288.6a2.45,2.45 0 1,0 4.9,0a2.45,2.45 0 1,0 -4.9,0M121.14,294.3a2.45,2.45 0 1,0 4.9,0a2.45,2.45 0 1,0 -4.9,0M121.14,300a2.45,2.45 0 1,0 4.9,0a2.45,2.45 0 1,0 -4.9,0M121.14,305.7a2.45,2.45 0 1,0 4.9,0a2.45,2.45 0 1,0 -4.9,0M121.14,311.4a2.45,2.45 0 1,0 4.9,0a2.45,2.45 0 1,0 -4.9,0M121.14,317.1a2.45,2.45 0 1,0 4.9,0a2.45,2.45 0 1,0 -4.9,0M121.14,322.8a2.45,2.45 0 1,0 4.9,0a2.45,2.45 0 1,0 -4.9,0M121.14,328.5a2.45,2.45 0 1,0 4.9,0a2.45,2.45 0 1,0 -4.9,0M121.14,334.2a2.45,2.45 0 1,0 4.9,0a2.45,2.45 0 1,0 -4.9,0M121.14,339.9a2.45,2.45 0 1,0 4.9,0a2.45,2.45 0 1,0 -4.9,0M121.14,345.6a2.45,2.45 0 1,0 4.9,0a2.45,2.45 0 1,0 -4.9,0M121.14,351.3a2.45,2.45 0 1,0 4.9,0a2.45,2.45 0 1,0 -4.9,0M121.14,357a2.45,2.45 0 1,0 4.9,0a2.45,2.45 0 1,0 -4.9,0M121.14,362.7a2.45,2.45 0 1,0 4.9,0a2.45,2.45 0 1,0 -4.9,0M121.14,368.4a2.45,2.45 0 1,0 4.9,0a2.45,2.45 0 1,0 -4.9,0M121.14,374.1a2.45,2.45 0 1,0 4.9,0a2.45,2.45 0 1,0 -4.9,0M121.14,379.8a2.45,2.45 0 1,0 4.9,0a2.45,2.45 0 1,0 -4.9,0M130.12,220.2a2.45,2.45 0 1,0 4.9,0a2.45,2.45 0 1,0 -4.9,0M130.12,225.9a2.45,2.45 0 1,0 4.9,0a2.45,2.45 0 1,0 -4.9,0M130.12,231.6a2.45,2.45 0 1,0 4.9,0a2.45,2.45 0 1,0 -4.9,0M130.12,237.3a2.45,2.45 0 1,0 4.9,0a2.45,2.45 0 1,0 -4.9,0M130.12,243a2.45,2.45 0 1,0 4.9,0a2.45,2.45 0 1,0 -4.9,0M130.12,248.7a2.45,2.45 0 1,0 4.9,0a2.45,2.45 0 1,0 -4.9,0M130.12,254.4a2.45,2.45 0 1,0 4.9,0a2.45,2.45 0 1,0 -4.9,0M130.12,260.1a2.45,2.45 0 1,0 4.9,0a2.45,2.45 0 1,0 -4.9,0M130.12,265.8a2.45,2.45 0 1,0 4.9,0a2.45,2.45 0 1,0 -4.9,0M130.12,271.5a2.45,2.45 0 1,0 4.9,0a2.45,2.45 0 1,0 -4.9,0M130.12,277.2a2.45,2.45 0 1,0 4.9,0a2.45,2.45 0 1,0 -4.9,0M130.12,282.9a2.45,2.45 0 1,0 4.9,0a2.45,2.45 0 1,0 -4.9,0M130.12,288.6a2.45,2.45 0 1,0 4.9,0a2.45,2.45 0 1,0 -4.9,0M130.12,294.3a2.45,2.45 0 1,0 4.9,0a2.45,2.45 0 1,0 -4.9,0M130.12,300a2.45,2.45 0 1,0 4.9,0a2.45,2.45 0 1,0 -4.9,0M130.12,305.7a2.45,2.45 0 1,0 4.9,0a2.45,2.45 0 1,0 -4.9,0M130.12,311.4a2.45,2.45 0 1,0 4.9,0a2.45,2.45 0 1,0 -4.9,0M130.12,317.1a2.45,2.45 0 1,0 4.9,0a2.45,2.45 0 1,0 -4.9,0M130.12,322.8a2.45,2.45 0 1,0 4.9,0a2.45,2.45 0 1,0 -4.9,0M130.12,328.5a2.45,2.45 0 1,0 4.9,0a2.45,2.45 0 1,0 -4.9,0M130.12,334.2a2.45,2.45 0 1,0 4.9,0a2.45,2.45 0 1,0 -4.9,0M130.12,339.9a2.45,2.45 0 1,0 4.9,0a2.45,2.45 0 1,0 -4.9,0M130.12,345.6a2.45,2.45 0 1,0 4.9,0a2.45,2.45 0 1,0 -4.9,0M130.12,351.3a2.45,2.45 0 1,0 4.9,0a2.45,2.45 0 1,0 -4.9,0M130.12,357a2.45,2.45 0 1,0 4.9,0a2.45,2.45 0 1,0 -4.9,0M130.12,362.7a2.45,2.45 0 1,0 4.9,0a2.45,2.45 0 1,0 -4.9,0M130.12,368.4a2.45,2.45 0 1,0 4.9,0a2.45,2.45 0 1,0 -4.9,0M130.12,374.1a2.45,2.45 0 1,0 4.9,0a2.45,2.45 0 1,0 -4.9,0M130.12,379.8a2.45,2.45 0 1,0 4.9,0a2.45,2.45 0 1,0 -4.9,0M139.11,220.2a2.45,2.45 0 1,0 4.9,0a2.45,2.45 0 1,0 -4.9,0M139.11,225.9a2.45,2.45 0 1,0 4.9,0a2.45,2.45 0 1,0 -4.9,0M139.11,231.6a2.45,2.45 0 1,0 4.9,0a2.45,2.45 0 1,0 -4.9,0M139.11,237.3a2.45,2.45 0 1,0 4.9,0a2.45,2.45 0 1,0 -4.9,0M139.11,243a2.45,2.45 0 1,0 4.9,0a2.45,2.45 0 1,0 -4.9,0M139.11,248.7a2.45,2.45 0 1,0 4.9,0a2.45,2.45 0 1,0 -4.9,0M139.11,254.4a2.45,2.45 0 1,0 4.9,0a2.45,2.45 0 1,0 -4.9,0M139.11,260.1a2.45,2.45 0 1,0 4.9,0a2.45,2.45 0 1,0 -4.9,0M139.11,265.8a2.45,2.45 0 1,0 4.9,0a2.45,2.45 0 1,0 -4.9,0M139.11,271.5a2.45,2.45 0 1,0 4.9,0a2.45,2.45 0 1,0 -4.9,0M139.11,277.2a2.45,2.45 0 1,0 4.9,0a2.45,2.45 0 1,0 -4.9,0M139.11,282.9a2.45,2.45 0 1,0 4.9,0a2.45,2.45 0 1,0 -4.9,0M139.11,288.6a2.45,2.45 0 1,0 4.9,0a2.45,2.45 0 1,0 -4.9,0M139.11,294.3a2.45,2.45 0 1,0 4.9,0a2.45,2.45 0 1,0 -4.9,0M139.11,300a2.45,2.45 0 1,0 4.9,0a2.45,2.45 0 1,0 -4.9,0M139.11,305.7a2.45,2.45 0 1,0 4.9,0a2.45,2.45 0 1,0 -4.9,0M139.11,311.4a2.45,2.45 0 1,0 4.9,0a2.45,2.45 0 1,0 -4.9,0M139.11,317.1a2.45,2.45 0 1,0 4.9,0a2.45,2.45 0 1,0 -4.9,0M139.11,322.8a2.45,2.45 0 1,0 4.9,0a2.45,2.45 0 1,0 -4.9,0M139.11,328.5a2.45,2.45 0 1,0 4.9,0a2.45,2.45 0 1,0 -4.9,0M139.11,334.2a2.45,2.45 0 1,0 4.9,0a2.45,2.45 0 1,0 -4.9,0M139.11,339.9a2.45,2.45 0 1,0 4.9,0a2.45,2.45 0 1,0 -4.9,0M139.11,345.6a2.45,2.45 0 1,0 4.9,0a2.45,2.45 0 1,0 -4.9,0M139.11,351.3a2.45,2.45 0 1,0 4.9,0a2.45,2.45 0 1,0 -4.9,0M139.11,357a2.45,2.45 0 1,0 4.9,0a2.45,2.45 0 1,0 -4.9,0M139.11,362.7a2.45,2.45 0 1,0 4.9,0a2.45,2.45 0 1,0 -4.9,0M139.11,368.4a2.45,2.45 0 1,0 4.9,0a2.45,2.45 0 1,0 -4.9,0M139.11,374.1a2.45,2.45 0 1,0 4.9,0a2.45,2.45 0 1,0 -4.9,0M139.11,379.8a2.45,2.45 0 1,0 4.9,0a2.45,2.45 0 1,0 -4.9,0M148.09,220.2a2.45,2.45 0 1,0 4.9,0a2.45,2.45 0 1,0 -4.9,0M148.09,225.9a2.45,2.45 0 1,0 4.9,0a2.45,2.45 0 1,0 -4.9,0M148.09,231.6a2.45,2.45 0 1,0 4.9,0a2.45,2.45 0 1,0 -4.9,0M148.09,237.3a2.45,2.45 0 1,0 4.9,0a2.45,2.45 0 1,0 -4.9,0M148.09,243a2.45,2.45 0 1,0 4.9,0a2.45,2.45 0 1,0 -4.9,0M148.09,248.7a2.45,2.45 0 1,0 4.9,0a2.45,2.45 0 1,0 -4.9,0M148.09,254.4a2.45,2.45 0 1,0 4.9,0a2.45,2.45 0 1,0 -4.9,0M148.09,260.1a2.45,2.45 0 1,0 4.9,0a2.45,2.45 0 1,0 -4.9,0M148.09,265.8a2.45,2.45 0 1,0 4.9,0a2.45,2.45 0 1,0 -4.9,0M148.09,271.5a2.45,2.45 0 1,0 4.9,0a2.45,2.45 0 1,0 -4.9,0M148.09,277.2a2.45,2.45 0 1,0 4.9,0a2.45,2.45 0 1,0 -4.9,0M148.09,282.9a2.45,2.45 0 1,0 4.9,0a2.45,2.45 0 1,0 -4.9,0M148.09,288.6a2.45,2.45 0 1,0 4.9,0a2.45,2.45 0 1,0 -4.9,0M148.09,294.3a2.45,2.45 0 1,0 4.9,0a2.45,2.45 0 1,0 -4.9,0M148.09,300a2.45,2.45 0 1,0 4.9,0a2.45,2.45 0 1,0 -4.9,0M148.09,305.7a2.45,2.45 0 1,0 4.9,0a2.45,2.45 0 1,0 -4.9,0M148.09,311.4a2.45,2.45 0 1,0 4.9,0a2.45,2.45 0 1,0 -4.9,0M148.09,317.1a2.45,2.45 0 1,0 4.9,0a2.45,2.45 0 1,0 -4.9,0M148.09,322.8a2.45,2.45 0 1,0 4.9,0a2.45,2.45 0 1,0 -4.9,0M148.09,328.5a2.45,2.45 0 1,0 4.9,0a2.45,2.45 0 1,0 -4.9,0M148.09,334.2a2.45,2.45 0 1,0 4.9,0a2.45,2.45 0 1,0 -4.9,0M148.09,339.9a2.45,2.45 0 1,0 4.9,0a2.45,2.45 0 1,0 -4.9,0M148.09,345.6a2.45,2.45 0 1,0 4.9,0a2.45,2.45 0 1,0 -4.9,0M148.09,351.3a2.45,2.45 0 1,0 4.9,0a2.45,2.45 0 1,0 -4.9,0M148.09,357a2.45,2.45 0 1,0 4.9,0a2.45,2.45 0 1,0 -4.9,0M148.09,362.7a2.45,2.45 0 1,0 4.9,0a2.45,2.45 0 1,0 -4.9,0M148.09,368.4a2.45,2.45 0 1,0 4.9,0a2.45,2.45 0 1,0 -4.9,0M148.09,374.1a2.45,2.45 0 1,0 4.9,0a2.45,2.45 0 1,0 -4.9,0M148.09,379.8a2.45,2.45 0 1,0 4.9,0a2.45,2.45 0 1,0 -4.9,0M157.07,220.2a2.45,2.45 0 1,0 4.9,0a2.45,2.45 0 1,0 -4.9,0M157.07,225.9a2.45,2.45 0 1,0 4.9,0a2.45,2.45 0 1,0 -4.9,0M157.07,231.6a2.45,2.45 0 1,0 4.9,0a2.45,2.45 0 1,0 -4.9,0M157.07,237.3a2.45,2.45 0 1,0 4.9,0a2.45,2.45 0 1,0 -4.9,0M157.07,243a2.45,2.45 0 1,0 4.9,0a2.45,2.45 0 1,0 -4.9,0M157.07,248.7a2.45,2.45 0 1,0 4.9,0a2.45,2.45 0 1,0 -4.9,0M157.07,254.4a2.45,2.45 0 1,0 4.9,0a2.45,2.45 0 1,0 -4.9,0M157.07,260.1a2.45,2.45 0 1,0 4.9,0a2.45,2.45 0 1,0 -4.9,0M157.07,265.8a2.45,2.45 0 1,0 4.9,0a2.45,2.45 0 1,0 -4.9,0M157.07,271.5a2.45,2.45 0 1,0 4.9,0a2.45,2.45 0 1,0 -4.9,0M157.07,277.2a2.45,2.45 0 1,0 4.9,0a2.45,2.45 0 1,0 -4.9,0M157.07,282.9a2.45,2.45 0 1,0 4.9,0a2.45,2.45 0 1,0 -4.9,0M157.07,288.6a2.45,2.45 0 1,0 4.9,0a2.45,2.45 0 1,0 -4.9,0M157.07,294.3a2.45,2.45 0 1,0 4.9,0a2.45,2.45 0 1,0 -4.9,0M157.07,300a2.45,2.45 0 1,0 4.9,0a2.45,2.45 0 1,0 -4.9,0M157.07,305.7a2.45,2.45 0 1,0 4.9,0a2.45,2.45 0 1,0 -4.9,0M157.07,311.4a2.45,2.45 0 1,0 4.9,0a2.45,2.45 0 1,0 -4.9,0M157.07,317.1a2.45,2.45 0 1,0 4.9,0a2.45,2.45 0 1,0 -4.9,0M157.07,322.8a2.45,2.45 0 1,0 4.9,0a2.45,2.45 0 1,0 -4.9,0M157.07,328.5a2.45,2.45 0 1,0 4.9,0a2.45,2.45 0 1,0 -4.9,0M157.07,334.2a2.45,2.45 0 1,0 4.9,0a2.45,2.45 0 1,0 -4.9,0M157.07,339.9a2.45,2.45 0 1,0 4.9,0a2.45,2.45 0 1,0 -4.9,0M157.07,345.6a2.45,2.45 0 1,0 4.9,0a2.45,2.45 0 1,0 -4.9,0M157.07,351.3a2.45,2.45 0 1,0 4.9,0a2.45,2.45 0 1,0 -4.9,0M157.07,357a2.45,2.45 0 1,0 4.9,0a2.45,2.45 0 1,0 -4.9,0M157.07,362.7a2.45,2.45 0 1,0 4.9,0a2.45,2.45 0 1,0 -4.9,0M157.07,368.4a2.45,2.45 0 1,0 4.9,0a2.45,2.45 0 1,0 -4.9,0M157.07,374.1a2.45,2.45 0 1,0 4.9,0a2.45,2.45 0 1,0 -4.9,0M157.07,379.8a2.45,2.45 0 1,0 4.9,0a2.45,2.45 0 1,0 -4.9,0M166.06,220.2a2.45,2.45 0 1,0 4.9,0a2.45,2.45 0 1,0 -4.9,0M166.06,225.9a2.45,2.45 0 1,0 4.9,0a2.45,2.45 0 1,0 -4.9,0M166.06,231.6a2.45,2.45 0 1,0 4.9,0a2.45,2.45 0 1,0 -4.9,0M166.06,237.3a2.45,2.45 0 1,0 4.9,0a2.45,2.45 0 1,0 -4.9,0M166.06,243a2.45,2.45 0 1,0 4.9,0a2.45,2.45 0 1,0 -4.9,0M166.06,248.7a2.45,2.45 0 1,0 4.9,0a2.45,2.45 0 1,0 -4.9,0M166.06,254.4a2.45,2.45 0 1,0 4.9,0a2.45,2.45 0 1,0 -4.9,0M166.06,260.1a2.45,2.45 0 1,0 4.9,0a2.45,2.45 0 1,0 -4.9,0M166.06,265.8a2.45,2.45 0 1,0 4.9,0a2.45,2.45 0 1,0 -4.9,0M166.06,271.5a2.45,2.45 0 1,0 4.9,0a2.45,2.45 0 1,0 -4.9,0M166.06,277.2a2.45,2.45 0 1,0 4.9,0a2.45,2.45 0 1,0 -4.9,0M166.06,282.9a2.45,2.45 0 1,0 4.9,0a2.45,2.45 0 1,0 -4.9,0M166.06,288.6a2.45,2.45 0 1,0 4.9,0a2.45,2.45 0 1,0 -4.9,0M166.06,294.3a2.45,2.45 0 1,0 4.9,0a2.45,2.45 0 1,0 -4.9,0M166.06,300a2.45,2.45 0 1,0 4.9,0a2.45,2.45 0 1,0 -4.9,0M166.06,305.7a2.45,2.45 0 1,0 4.9,0a2.45,2.45 0 1,0 -4.9,0M166.06,311.4a2.45,2.45 0 1,0 4.9,0a2.45,2.45 0 1,0 -4.9,0M166.06,317.1a2.45,2.45 0 1,0 4.9,0a2.45,2.45 0 1,0 -4.9,0M166.06,322.8a2.45,2.45 0 1,0 4.9,0a2.45,2.45 0 1,0 -4.9,0M166.06,328.5a2.45,2.45 0 1,0 4.9,0a2.45,2.45 0 1,0 -4.9,0M166.06,334.2a2.45,2.45 0 1,0 4.9,0a2.45,2.45 0 1,0 -4.9,0M166.06,339.9a2.45,2.45 0 1,0 4.9,0a2.45,2.45 0 1,0 -4.9,0M166.06,345.6a2.45,2.45 0 1,0 4.9,0a2.45,2.45 0 1,0 -4.9,0M166.06,351.3a2.45,2.45 0 1,0 4.9,0a2.45,2.45 0 1,0 -4.9,0M166.06,357a2.45,2.45 0 1,0 4.9,0a2.45,2.45 0 1,0 -4.9,0M166.06,362.7a2.45,2.45 0 1,0 4.9,0a2.45,2.45 0 1,0 -4.9,0M166.06,368.4a2.45,2.45 0 1,0 4.9,0a2.45,2.45 0 1,0 -4.9,0M166.06,374.1a2.45,2.45 0 1,0 4.9,0a2.45,2.45 0 1,0 -4.9,0M166.06,379.8a2.45,2.45 0 1,0 4.9,0a2.45,2.45 0 1,0 -4.9,0M175.04,220.2a2.45,2.45 0 1,0 4.9,0a2.45,2.45 0 1,0 -4.9,0M175.04,225.9a2.45,2.45 0 1,0 4.9,0a2.45,2.45 0 1,0 -4.9,0M175.04,231.6a2.45,2.45 0 1,0 4.9,0a2.45,2.45 0 1,0 -4.9,0M175.04,237.3a2.45,2.45 0 1,0 4.9,0a2.45,2.45 0 1,0 -4.9,0M175.04,243a2.45,2.45 0 1,0 4.9,0a2.45,2.45 0 1,0 -4.9,0M175.04,248.7a2.45,2.45 0 1,0 4.9,0a2.45,2.45 0 1,0 -4.9,0M175.04,254.4a2.45,2.45 0 1,0 4.9,0a2.45,2.45 0 1,0 -4.9,0M175.04,260.1a2.45,2.45 0 1,0 4.9,0a2.45,2.45 0 1,0 -4.9,0M175.04,265.8a2.45,2.45 0 1,0 4.9,0a2.45,2.45 0 1,0 -4.9,0M175.04,271.5a2.45,2.45 0 1,0 4.9,0a2.45,2.45 0 1,0 -4.9,0M175.04,277.2a2.45,2.45 0 1,0 4.9,0a2.45,2.45 0 1,0 -4.9,0M175.04,282.9a2.45,2.45 0 1,0 4.9,0a2.45,2.45 0 1,0 -4.9,0M175.04,288.6a2.45,2.45 0 1,0 4.9,0a2.45,2.45 0 1,0 -4.9,0M175.04,294.3a2.45,2.45 0 1,0 4.9,0a2.45,2.45 0 1,0 -4.9,0M175.04,300a2.45,2.45 0 1,0 4.9,0a2.45,2.45 0 1,0 -4.9,0M175.04,305.7a2.45,2.45 0 1,0 4.9,0a2.45,2.45 0 1,0 -4.9,0M175.04,311.4a2.45,2.45 0 1,0 4.9,0a2.45,2.45 0 1,0 -4.9,0M175.04,317.1a2.45,2.45 0 1,0 4.9,0a2.45,2.45 0 1,0 -4.9,0M175.04,322.8a2.45,2.45 0 1,0 4.9,0a2.45,2.45 0 1,0 -4.9,0M175.04,328.5a2.45,2.45 0 1,0 4.9,0a2.45,2.45 0 1,0 -4.9,0M175.04,334.2a2.45,2.45 0 1,0 4.9,0a2.45,2.45 0 1,0 -4.9,0M175.04,339.9a2.45,2.45 0 1,0 4.9,0a2.45,2.45 0 1,0 -4.9,0M175.04,345.6a2.45,2.45 0 1,0 4.9,0a2.45,2.45 0 1,0 -4.9,0M175.04,351.3a2.45,2.45 0 1,0 4.9,0a2.45,2.45 0 1,0 -4.9,0M175.04,357a2.45,2.45 0 1,0 4.9,0a2.45,2.45 0 1,0 -4.9,0M175.04,362.7a2.45,2.45 0 1,0 4.9,0a2.45,2.45 0 1,0 -4.9,0M175.04,368.4a2.45,2.45 0 1,0 4.9,0a2.45,2.45 0 1,0 -4.9,0M175.04,374.1a2.45,2.45 0 1,0 4.9,0a2.45,2.45 0 1,0 -4.9,0M175.04,379.8a2.45,2.45 0 1,0 4.9,0a2.45,2.45 0 1,0 -4.9,0M184.03,220.2a2.45,2.45 0 1,0 4.9,0a2.45,2.45 0 1,0 -4.9,0M184.03,225.9a2.45,2.45 0 1,0 4.9,0a2.45,2.45 0 1,0 -4.9,0M184.03,231.6a2.45,2.45 0 1,0 4.9,0a2.45,2.45 0 1,0 -4.9,0M184.03,237.3a2.45,2.45 0 1,0 4.9,0a2.45,2.45 0 1,0 -4.9,0M184.03,243a2.45,2.45 0 1,0 4.9,0a2.45,2.45 0 1,0 -4.9,0M184.03,248.7a2.45,2.45 0 1,0 4.9,0a2.45,2.45 0 1,0 -4.9,0M184.03,254.4a2.45,2.45 0 1,0 4.9,0a2.45,2.45 0 1,0 -4.9,0M184.03,260.1a2.45,2.45 0 1,0 4.9,0a2.45,2.45 0 1,0 -4.9,0M184.03,265.8a2.45,2.45 0 1,0 4.9,0a2.45,2.45 0 1,0 -4.9,0M184.03,271.5a2.45,2.45 0 1,0 4.9,0a2.45,2.45 0 1,0 -4.9,0M184.03,277.2a2.45,2.45 0 1,0 4.9,0a2.45,2.45 0 1,0 -4.9,0M184.03,282.9a2.45,2.45 0 1,0 4.9,0a2.45,2.45 0 1,0 -4.9,0M184.03,288.6a2.45,2.45 0 1,0 4.9,0a2.45,2.45 0 1,0 -4.9,0M184.03,294.3a2.45,2.45 0 1,0 4.9,0a2.45,2.45 0 1,0 -4.9,0M184.03,300a2.45,2.45 0 1,0 4.9,0a2.45,2.45 0 1,0 -4.9,0M184.03,305.7a2.45,2.45 0 1,0 4.9,0a2.45,2.45 0 1,0 -4.9,0M184.03,311.4a2.45,2.45 0 1,0 4.9,0a2.45,2.45 0 1,0 -4.9,0M184.03,317.1a2.45,2.45 0 1,0 4.9,0a2.45,2.45 0 1,0 -4.9,0M184.03,322.8a2.45,2.45 0 1,0 4.9,0a2.45,2.45 0 1,0 -4.9,0M184.03,328.5a2.45,2.45 0 1,0 4.9,0a2.45,2.45 0 1,0 -4.9,0M184.03,334.2a2.45,2.45 0 1,0 4.9,0a2.45,2.45 0 1,0 -4.9,0M184.03,339.9a2.45,2.45 0 1,0 4.9,0a2.45,2.45 0 1,0 -4.9,0M184.03,345.6a2.45,2.45 0 1,0 4.9,0a2.45,2.45 0 1,0 -4.9,0M184.03,351.3a2.45,2.45 0 1,0 4.9,0a2.45,2.45 0 1,0 -4.9,0M184.03,357a2.45,2.45 0 1,0 4.9,0a2.45,2.45 0 1,0 -4.9,0M184.03,362.7a2.45,2.45 0 1,0 4.9,0a2.45,2.45 0 1,0 -4.9,0M184.03,368.4a2.45,2.45 0 1,0 4.9,0a2.45,2.45 0 1,0 -4.9,0M184.03,374.1a2.45,2.45 0 1,0 4.9,0a2.45,2.45 0 1,0 -4.9,0M184.03,379.8a2.45,2.45 0 1,0 4.9,0a2.45,2.45 0 1,0 -4.9,0M193.01,220.2a2.45,2.45 0 1,0 4.9,0a2.45,2.45 0 1,0 -4.9,0M193.01,225.9a2.45,2.45 0 1,0 4.9,0a2.45,2.45 0 1,0 -4.9,0M193.01,231.6a2.45,2.45 0 1,0 4.9,0a2.45,2.45 0 1,0 -4.9,0M193.01,237.3a2.45,2.45 0 1,0 4.9,0a2.45,2.45 0 1,0 -4.9,0M193.01,243a2.45,2.45 0 1,0 4.9,0a2.45,2.45 0 1,0 -4.9,0M193.01,248.7a2.45,2.45 0 1,0 4.9,0a2.45,2.45 0 1,0 -4.9,0M193.01,254.4a2.45,2.45 0 1,0 4.9,0a2.45,2.45 0 1,0 -4.9,0M193.01,260.1a2.45,2.45 0 1,0 4.9,0a2.45,2.45 0 1,0 -4.9,0M193.01,265.8a2.45,2.45 0 1,0 4.9,0a2.45,2.45 0 1,0 -4.9,0M193.01,271.5a2.45,2.45 0 1,0 4.9,0a2.45,2.45 0 1,0 -4.9,0M193.01,277.2a2.45,2.45 0 1,0 4.9,0a2.45,2.45 0 1,0 -4.9,0M193.01,282.9a2.45,2.45 0 1,0 4.9,0a2.45,2.45 0 1,0 -4.9,0M193.01,288.6a2.45,2.45 0 1,0 4.9,0a2.45,2.45 0 1,0 -4.9,0M193.01,294.3a2.45,2.45 0 1,0 4.9,0a2.45,2.45 0 1,0 -4.9,0M193.01,300a2.45,2.45 0 1,0 4.9,0a2.45,2.45 0 1,0 -4.9,0M193.01,305.7a2.45,2.45 0 1,0 4.9,0a2.45,2.45 0 1,0 -4.9,0M193.01,311.4a2.45,2.45 0 1,0 4.9,0a2.45,2.45 0 1,0 -4.9,0M193.01,317.1a2.45,2.45 0 1,0 4.9,0a2.45,2.45 0 1,0 -4.9,0M193.01,322.8a2.45,2.45 0 1,0 4.9,0a2.45,2.45 0 1,0 -4.9,0M193.01,328.5a2.45,2.45 0 1,0 4.9,0a2.45,2.45 0 1,0 -4.9,0M193.01,334.2a2.45,2.45 0 1,0 4.9,0a2.45,2.45 0 1,0 -4.9,0M193.01,339.9a2.45,2.45 0 1,0 4.9,0a2.45,2.45 0 1,0 -4.9,0M193.01,345.6a2.45,2.45 0 1,0 4.9,0a2.45,2.45 0 1,0 -4.9,0M193.01,351.3a2.45,2.45 0 1,0 4.9,0a2.45,2.45 0 1,0 -4.9,0M193.01,357a2.45,2.45 0 1,0 4.9,0a2.45,2.45 0 1,0 -4.9,0M193.01,362.7a2.45,2.45 0 1,0 4.9,0a2.45,2.45 0 1,0 -4.9,0M193.01,368.4a2.45,2.45 0 1,0 4.9,0a2.45,2.45 0 1,0 -4.9,0M193.01,374.1a2.45,2.45 0 1,0 4.9,0a2.45,2.45 0 1,0 -4.9,0M193.01,379.8a2.45,2.45 0 1,0 4.9,0a2.45,2.45 0 1,0 -4.9,0M201.99,220.2a2.45,2.45 0 1,0 4.9,0a2.45,2.45 0 1,0 -4.9,0M201.99,225.9a2.45,2.45 0 1,0 4.9,0a2.45,2.45 0 1,0 -4.9,0M201.99,231.6a2.45,2.45 0 1,0 4.9,0a2.45,2.45 0 1,0 -4.9,0M201.99,237.3a2.45,2.45 0 1,0 4.9,0a2.45,2.45 0 1,0 -4.9,0M201.99,243a2.45,2.45 0 1,0 4.9,0a2.45,2.45 0 1,0 -4.9,0M201.99,248.7a2.45,2.45 0 1,0 4.9,0a2.45,2.45 0 1,0 -4.9,0M201.99,254.4a2.45,2.45 0 1,0 4.9,0a2.45,2.45 0 1,0 -4.9,0M201.99,260.1a2.45,2.45 0 1,0 4.9,0a2.45,2.45 0 1,0 -4.9,0M201.99,265.8a2.45,2.45 0 1,0 4.9,0a2.45,2.45 0 1,0 -4.9,0M201.99,271.5a2.45,2.45 0 1,0 4.9,0a2.45,2.45 0 1,0 -4.9,0M201.99,277.2a2.45,2.45 0 1,0 4.9,0a2.45,2.45 0 1,0 -4.9,0M201.99,282.9a2.45,2.45 0 1,0 4.9,0a2.45,2.45 0 1,0 -4.9,0M201.99,288.6a2.45,2.45 0 1,0 4.9,0a2.45,2.45 0 1,0 -4.9,0M201.99,294.3a2.45,2.45 0 1,0 4.9,0a2.45,2.45 0 1,0 -4.9,0M201.99,300a2.45,2.45 0 1,0 4.9,0a2.45,2.45 0 1,0 -4.9,0M201.99,305.7a2.45,2.45 0 1,0 4.9,0a2.45,2.45 0 1,0 -4.9,0M201.99,311.4a2.45,2.45 0 1,0 4.9,0a2.45,2.45 0 1,0 -4.9,0M201.99,317.1a2.45,2.45 0 1,0 4.9,0a2.45,2.45 0 1,0 -4.9,0M201.99,322.8a2.45,2.45 0 1,0 4.9,0a2.45,2.45 0 1,0 -4.9,0M201.99,328.5a2.45,2.45 0 1,0 4.9,0a2.45,2.45 0 1,0 -4.9,0M201.99,334.2a2.45,2.45 0 1,0 4.9,0a2.45,2.45 0 1,0 -4.9,0M201.99,339.9a2.45,2.45 0 1,0 4.9,0a2.45,2.45 0 1,0 -4.9,0M201.99,345.6a2.45,2.45 0 1,0 4.9,0a2.45,2.45 0 1,0 -4.9,0M201.99,351.3a2.45,2.45 0 1,0 4.9,0a2.45,2.45 0 1,0 -4.9,0M201.99,357a2.45,2.45 0 1,0 4.9,0a2.45,2.45 0 1,0 -4.9,0M201.99,362.7a2.45,2.45 0 1,0 4.9,0a2.45,2.45 0 1,0 -4.9,0M201.99,368.4a2.45,2.45 0 1,0 4.9,0a2.45,2.45 0 1,0 -4.9,0M201.99,374.1a2.45,2.45 0 1,0 4.9,0a2.45,2.45 0 1,0 -4.9,0M201.99,379.8a2.45,2.45 0 1,0 4.9,0a2.45,2.45 0 1,0 -4.9,0M210.98,220.2a2.45,2.45 0 1,0 4.9,0a2.45,2.45 0 1,0 -4.9,0M210.98,225.9a2.45,2.45 0 1,0 4.9,0a2.45,2.45 0 1,0 -4.9,0M210.98,231.6a2.45,2.45 0 1,0 4.9,0a2.45,2.45 0 1,0 -4.9,0M210.98,237.3a2.45,2.45 0 1,0 4.9,0a2.45,2.45 0 1,0 -4.9,0M210.98,243a2.45,2.45 0 1,0 4.9,0a2.45,2.45 0 1,0 -4.9,0M210.98,248.7a2.45,2.45 0 1,0 4.9,0a2.45,2.45 0 1,0 -4.9,0M210.98,254.4a2.45,2.45 0 1,0 4.9,0a2.45,2.45 0 1,0 -4.9,0M210.98,260.1a2.45,2.45 0 1,0 4.9,0a2.45,2.45 0 1,0 -4.9,0M210.98,265.8a2.45,2.45 0 1,0 4.9,0a2.45,2.45 0 1,0 -4.9,0M210.98,271.5a2.45,2.45 0 1,0 4.9,0a2.45,2.45 0 1,0 -4.9,0M210.98,277.2a2.45,2.45 0 1,0 4.9,0a2.45,2.45 0 1,0 -4.9,0M210.98,282.9a2.45,2.45 0 1,0 4.9,0a2.45,2.45 0 1,0 -4.9,0M210.98,288.6a2.45,2.45 0 1,0 4.9,0a2.45,2.45 0 1,0 -4.9,0M210.98,294.3a2.45,2.45 0 1,0 4.9,0a2.45,2.45 0 1,0 -4.9,0M210.98,300a2.45,2.45 0 1,0 4.9,0a2.45,2.45 0 1,0 -4.9,0M210.98,305.7a2.45,2.45 0 1,0 4.9,0a2.45,2.45 0 1,0 -4.9,0M210.98,311.4a2.45,2.45 0 1,0 4.9,0a2.45,2.45 0 1,0 -4.9,0M210.98,317.1a2.45,2.45 0 1,0 4.9,0a2.45,2.45 0 1,0 -4.9,0M210.98,322.8a2.45,2.45 0 1,0 4.9,0a2.45,2.45 0 1,0 -4.9,0M210.98,328.5a2.45,2.45 0 1,0 4.9,0a2.45,2.45 0 1,0 -4.9,0M210.98,334.2a2.45,2.45 0 1,0 4.9,0a2.45,2.45 0 1,0 -4.9,0M210.98,339.9a2.45,2.45 0 1,0 4.9,0a2.45,2.45 0 1,0 -4.9,0M210.98,345.6a2.45,2.45 0 1,0 4.9,0a2.45,2.45 0 1,0 -4.9,0M210.98,351.3a2.45,2.45 0 1,0 4.9,0a2.45,2.45 0 1,0 -4.9,0M210.98,357a2.45,2.45 0 1,0 4.9,0a2.45,2.45 0 1,0 -4.9,0M210.98,362.7a2.45,2.45 0 1,0 4.9,0a2.45,2.45 0 1,0 -4.9,0M210.98,368.4a2.45,2.45 0 1,0 4.9,0a2.45,2.45 0 1,0 -4.9,0M210.98,374.1a2.45,2.45 0 1,0 4.9,0a2.45,2.45 0 1,0 -4.9,0M210.98,379.8a2.45,2.45 0 1,0 4.9,0a2.45,2.45 0 1,0 -4.9,0M219.96,220.2a2.45,2.45 0 1,0 4.9,0a2.45,2.45 0 1,0 -4.9,0M219.96,225.9a2.45,2.45 0 1,0 4.9,0a2.45,2.45 0 1,0 -4.9,0M219.96,231.6a2.45,2.45 0 1,0 4.9,0a2.45,2.45 0 1,0 -4.9,0M219.96,237.3a2.45,2.45 0 1,0 4.9,0a2.45,2.45 0 1,0 -4.9,0M219.96,243a2.45,2.45 0 1,0 4.9,0a2.45,2.45 0 1,0 -4.9,0M219.96,248.7a2.45,2.45 0 1,0 4.9,0a2.45,2.45 0 1,0 -4.9,0M219.96,254.4a2.45,2.45 0 1,0 4.9,0a2.45,2.45 0 1,0 -4.9,0M219.96,260.1a2.45,2.45 0 1,0 4.9,0a2.45,2.45 0 1,0 -4.9,0M219.96,265.8a2.45,2.45 0 1,0 4.9,0a2.45,2.45 0 1,0 -4.9,0M219.96,271.5a2.45,2.45 0 1,0 4.9,0a2.45,2.45 0 1,0 -4.9,0M219.96,277.2a2.45,2.45 0 1,0 4.9,0a2.45,2.45 0 1,0 -4.9,0M219.96,282.9a2.45,2.45 0 1,0 4.9,0a2.45,2.45 0 1,0 -4.9,0M219.96,288.6a2.45,2.45 0 1,0 4.9,0a2.45,2.45 0 1,0 -4.9,0M219.96,294.3a2.45,2.45 0 1,0 4.9,0a2.45,2.45 0 1,0 -4.9,0M219.96,300a2.45,2.45 0 1,0 4.9,0a2.45,2.45 0 1,0 -4.9,0M219.96,305.7a2.45,2.45 0 1,0 4.9,0a2.45,2.45 0 1,0 -4.9,0M219.96,311.4a2.45,2.45 0 1,0 4.9,0a2.45,2.45 0 1,0 -4.9,0M219.96,317.1a2.45,2.45 0 1,0 4.9,0a2.45,2.45 0 1,0 -4.9,0M219.96,322.8a2.45,2.45 0 1,0 4.9,0a2.45,2.45 0 1,0 -4.9,0M219.96,328.5a2.45,2.45 0 1,0 4.9,0a2.45,2.45 0 1,0 -4.9,0M219.96,334.2a2.45,2.45 0 1,0 4.9,0a2.45,2.45 0 1,0 -4.9,0M219.96,339.9a2.45,2.45 0 1,0 4.9,0a2.45,2.45 0 1,0 -4.9,0M219.96,345.6a2.45,2.45 0 1,0 4.9,0a2.45,2.45 0 1,0 -4.9,0M219.96,351.3a2.45,2.45 0 1,0 4.9,0a2.45,2.45 0 1,0 -4.9,0M219.96,357a2.45,2.45 0 1,0 4.9,0a2.45,2.45 0 1,0 -4.9,0M219.96,362.7a2.45,2.45 0 1,0 4.9,0a2.45,2.45 0 1,0 -4.9,0M219.96,368.4a2.45,2.45 0 1,0 4.9,0a2.45,2.45 0 1,0 -4.9,0M219.96,374.1a2.45,2.45 0 1,0 4.9,0a2.45,2.45 0 1,0 -4.9,0M219.96,379.8a2.45,2.45 0 1,0 4.9,0a2.45,2.45 0 1,0 -4.9,0M228.95,220.2a2.45,2.45 0 1,0 4.9,0a2.45,2.45 0 1,0 -4.9,0M228.95,225.9a2.45,2.45 0 1,0 4.9,0a2.45,2.45 0 1,0 -4.9,0M228.95,231.6a2.45,2.45 0 1,0 4.9,0a2.45,2.45 0 1,0 -4.9,0M228.95,237.3a2.45,2.45 0 1,0 4.9,0a2.45,2.45 0 1,0 -4.9,0M228.95,243a2.45,2.45 0 1,0 4.9,0a2.45,2.45 0 1,0 -4.9,0M228.95,248.7a2.45,2.45 0 1,0 4.9,0a2.45,2.45 0 1,0 -4.9,0M228.95,254.4a2.45,2.45 0 1,0 4.9,0a2.45,2.45 0 1,0 -4.9,0M228.95,260.1a2.45,2.45 0 1,0 4.9,0a2.45,2.45 0 1,0 -4.9,0M228.95,265.8a2.45,2.45 0 1,0 4.9,0a2.45,2.45 0 1,0 -4.9,0M228.95,271.5a2.45,2.45 0 1,0 4.9,0a2.45,2.45 0 1,0 -4.9,0M228.95,277.2a2.45,2.45 0 1,0 4.9,0a2.45,2.45 0 1,0 -4.9,0M228.95,282.9a2.45,2.45 0 1,0 4.9,0a2.45,2.45 0 1,0 -4.9,0M228.95,288.6a2.45,2.45 0 1,0 4.9,0a2.45,2.45 0 1,0 -4.9,0M228.95,294.3a2.45,2.45 0 1,0 4.9,0a2.45,2.45 0 1,0 -4.9,0M228.95,300a2.45,2.45 0 1,0 4.9,0a2.45,2.45 0 1,0 -4.9,0M228.95,305.7a2.45,2.45 0 1,0 4.9,0a2.45,2.45 0 1,0 -4.9,0M228.95,311.4a2.45,2.45 0 1,0 4.9,0a2.45,2.45 0 1,0 -4.9,0M228.95,317.1a2.45,2.45 0 1,0 4.9,0a2.45,2.45 0 1,0 -4.9,0M228.95,322.8a2.45,2.45 0 1,0 4.9,0a2.45,2.45 0 1,0 -4.9,0M228.95,328.5a2.45,2.45 0 1,0 4.9,0a2.45,2.45 0 1,0 -4.9,0M228.95,334.2a2.45,2.45 0 1,0 4.9,0a2.45,2.45 0 1,0 -4.9,0M228.95,339.9a2.45,2.45 0 1,0 4.9,0a2.45,2.45 0 1,0 -4.9,0M228.95,345.6a2.45,2.45 0 1,0 4.9,0a2.45,2.45 0 1,0 -4.9,0M228.95,351.3a2.45,2.45 0 1,0 4.9,0a2.45,2.45 0 1,0 -4.9,0M228.95,357a2.45,2.45 0 1,0 4.9,0a2.45,2.45 0 1,0 -4.9,0M228.95,362.7a2.45,2.45 0 1,0 4.9,0a2.45,2.45 0 1,0 -4.9,0M228.95,368.4a2.45,2.45 0 1,0 4.9,0a2.45,2.45 0 1,0 -4.9,0M228.95,374.1a2.45,2.45 0 1,0 4.9,0a2.45,2.45 0 1,0 -4.9,0M228.95,379.8a2.45,2.45 0 1,0 4.9,0a2.45,2.45 0 1,0 -4.9,0M237.93,220.2a2.45,2.45 0 1,0 4.9,0a2.45,2.45 0 1,0 -4.9,0M237.93,225.9a2.45,2.45 0 1,0 4.9,0a2.45,2.45 0 1,0 -4.9,0M237.93,231.6a2.45,2.45 0 1,0 4.9,0a2.45,2.45 0 1,0 -4.9,0M237.93,237.3a2.45,2.45 0 1,0 4.9,0a2.45,2.45 0 1,0 -4.9,0M237.93,243a2.45,2.45 0 1,0 4.9,0a2.45,2.45 0 1,0 -4.9,0M237.93,248.7a2.45,2.45 0 1,0 4.9,0a2.45,2.45 0 1,0 -4.9,0M237.93,254.4a2.45,2.45 0 1,0 4.9,0a2.45,2.45 0 1,0 -4.9,0M237.93,260.1a2.45,2.45 0 1,0 4.9,0a2.45,2.45 0 1,0 -4.9,0M237.93,265.8a2.45,2.45 0 1,0 4.9,0a2.45,2.45 0 1,0 -4.9,0M237.93,271.5a2.45,2.45 0 1,0 4.9,0a2.45,2.45 0 1,0 -4.9,0M237.93,277.2a2.45,2.45 0 1,0 4.9,0a2.45,2.45 0 1,0 -4.9,0M237.93,282.9a2.45,2.45 0 1,0 4.9,0a2.45,2.45 0 1,0 -4.9,0M237.93,288.6a2.45,2.45 0 1,0 4.9,0a2.45,2.45 0 1,0 -4.9,0M237.93,294.3a2.45,2.45 0 1,0 4.9,0a2.45,2.45 0 1,0 -4.9,0M237.93,300a2.45,2.45 0 1,0 4.9,0a2.45,2.45 0 1,0 -4.9,0M237.93,305.7a2.45,2.45 0 1,0 4.9,0a2.45,2.45 0 1,0 -4.9,0M237.93,311.4a2.45,2.45 0 1,0 4.9,0a2.45,2.45 0 1,0 -4.9,0M237.93,317.1a2.45,2.45 0 1,0 4.9,0a2.45,2.45 0 1,0 -4.9,0M237.93,322.8a2.45,2.45 0 1,0 4.9,0a2.45,2.45 0 1,0 -4.9,0M237.93,328.5a2.45,2.45 0 1,0 4.9,0a2.45,2.45 0 1,0 -4.9,0M237.93,334.2a2.45,2.45 0 1,0 4.9,0a2.45,2.45 0 1,0 -4.9,0M237.93,339.9a2.45,2.45 0 1,0 4.9,0a2.45,2.45 0 1,0 -4.9,0M237.93,345.6a2.45,2.45 0 1,0 4.9,0a2.45,2.45 0 1,0 -4.9,0M237.93,351.3a2.45,2.45 0 1,0 4.9,0a2.45,2.45 0 1,0 -4.9,0M237.93,357a2.45,2.45 0 1,0 4.9,0a2.45,2.45 0 1,0 -4.9,0M237.93,362.7a2.45,2.45 0 1,0 4.9,0a2.45,2.45 0 1,0 -4.9,0M237.93,368.4a2.45,2.45 0 1,0 4.9,0a2.45,2.45 0 1,0 -4.9,0M237.93,374.1a2.45,2.45 0 1,0 4.9,0a2.45,2.45 0 1,0 -4.9,0M237.93,379.8a2.45,2.45 0 1,0 4.9,0a2.45,2.45 0 1,0 -4.9,0M246.91,220.2a2.45,2.45 0 1,0 4.9,0a2.45,2.45 0 1,0 -4.9,0M246.91,225.9a2.45,2.45 0 1,0 4.9,0a2.45,2.45 0 1,0 -4.9,0M246.91,231.6a2.45,2.45 0 1,0 4.9,0a2.45,2.45 0 1,0 -4.9,0M246.91,237.3a2.45,2.45 0 1,0 4.9,0a2.45,2.45 0 1,0 -4.9,0M246.91,243a2.45,2.45 0 1,0 4.9,0a2.45,2.45 0 1,0 -4.9,0M246.91,248.7a2.45,2.45 0 1,0 4.9,0a2.45,2.45 0 1,0 -4.9,0M246.91,254.4a2.45,2.45 0 1,0 4.9,0a2.45,2.45 0 1,0 -4.9,0M246.91,260.1a2.45,2.45 0 1,0 4.9,0a2.45,2.45 0 1,0 -4.9,0M246.91,265.8a2.45,2.45 0 1,0 4.9,0a2.45,2.45 0 1,0 -4.9,0M246.91,271.5a2.45,2.45 0 1,0 4.9,0a2.45,2.45 0 1,0 -4.9,0M246.91,277.2a2.45,2.45 0 1,0 4.9,0a2.45,2.45 0 1,0 -4.9,0M246.91,282.9a2.45,2.45 0 1,0 4.9,0a2.45,2.45 0 1,0 -4.9,0M246.91,288.6a2.45,2.45 0 1,0 4.9,0a2.45,2.45 0 1,0 -4.9,0M246.91,294.3a2.45,2.45 0 1,0 4.9,0a2.45,2.45 0 1,0 -4.9,0M246.91,300a2.45,2.45 0 1,0 4.9,0a2.45,2.45 0 1,0 -4.9,0M246.91,305.7a2.45,2.45 0 1,0 4.9,0a2.45,2.45 0 1,0 -4.9,0M246.91,311.4a2.45,2.45 0 1,0 4.9,0a2.45,2.45 0 1,0 -4.9,0M246.91,317.1a2.45,2.45 0 1,0 4.9,0a2.45,2.45 0 1,0 -4.9,0M246.91,322.8a2.45,2.45 0 1,0 4.9,0a2.45,2.45 0 1,0 -4.9,0M246.91,328.5a2.45,2.45 0 1,0 4.9,0a2.45,2.45 0 1,0 -4.9,0M246.91,334.2a2.45,2.45 0 1,0 4.9,0a2.45,2.45 0 1,0 -4.9,0M246.91,339.9a2.45,2.45 0 1,0 4.9,0a2.45,2.45 0 1,0 -4.9,0M246.91,345.6a2.45,2.45 0 1,0 4.9,0a2.45,2.45 0 1,0 -4.9,0M246.91,351.3a2.45,2.45 0 1,0 4.9,0a2.45,2.45 0 1,0 -4.9,0M246.91,357a2.45,2.45 0 1,0 4.9,0a2.45,2.45 0 1,0 -4.9,0M246.91,362.7a2.45,2.45 0 1,0 4.9,0a2.45,2.45 0 1,0 -4.9,0M246.91,368.4a2.45,2.45 0 1,0 4.9,0a2.45,2.45 0 1,0 -4.9,0M246.91,374.1a2.45,2.45 0 1,0 4.9,0a2.45,2.45 0 1,0 -4.9,0M246.91,379.8a2.45,2.45 0 1,0 4.9,0a2.45,2.45 0 1,0 -4.9,0M255.9,220.2a2.45,2.45 0 1,0 4.9,0a2.45,2.45 0 1,0 -4.9,0M255.9,225.9a2.45,2.45 0 1,0 4.9,0a2.45,2.45 0 1,0 -4.9,0M255.9,231.6a2.45,2.45 0 1,0 4.9,0a2.45,2.45 0 1,0 -4.9,0M255.9,237.3a2.45,2.45 0 1,0 4.9,0a2.45,2.45 0 1,0 -4.9,0M255.9,243a2.45,2.45 0 1,0 4.9,0a2.45,2.45 0 1,0 -4.9,0M255.9,248.7a2.45,2.45 0 1,0 4.9,0a2.45,2.45 0 1,0 -4.9,0M255.9,254.4a2.45,2.45 0 1,0 4.9,0a2.45,2.45 0 1,0 -4.9,0M255.9,260.1a2.45,2.45 0 1,0 4.9,0a2.45,2.45 0 1,0 -4.9,0M255.9,265.8a2.45,2.45 0 1,0 4.9,0a2.45,2.45 0 1,0 -4.9,0M255.9,271.5a2.45,2.45 0 1,0 4.9,0a2.45,2.45 0 1,0 -4.9,0M255.9,277.2a2.45,2.45 0 1,0 4.9,0a2.45,2.45 0 1,0 -4.9,0M255.9,282.9a2.45,2.45 0 1,0 4.9,0a2.45,2.45 0 1,0 -4.9,0M255.9,288.6a2.45,2.45 0 1,0 4.9,0a2.45,2.45 0 1,0 -4.9,0M255.9,294.3a2.45,2.45 0 1,0 4.9,0a2.45,2.45 0 1,0 -4.9,0M255.9,300a2.45,2.45 0 1,0 4.9,0a2.45,2.45 0 1,0 -4.9,0M255.9,305.7a2.45,2.45 0 1,0 4.9,0a2.45,2.45 0 1,0 -4.9,0M255.9,311.4a2.45,2.45 0 1,0 4.9,0a2.45,2.45 0 1,0 -4.9,0M255.9,317.1a2.45,2.45 0 1,0 4.9,0a2.45,2.45 0 1,0 -4.9,0M255.9,322.8a2.45,2.45 0 1,0 4.9,0a2.45,2.45 0 1,0 -4.9,0M255.9,328.5a2.45,2.45 0 1,0 4.9,0a2.45,2.45 0 1,0 -4.9,0M255.9,334.2a2.45,2.45 0 1,0 4.9,0a2.45,2.45 0 1,0 -4.9,0M255.9,339.9a2.45,2.45 0 1,0 4.9,0a2.45,2.45 0 1,0 -4.9,0M255.9,345.6a2.45,2.45 0 1,0 4.9,0a2.45,2.45 0 1,0 -4.9,0M255.9,351.3a2.45,2.45 0 1,0 4.9,0a2.45,2.45 0 1,0 -4.9,0M255.9,357a2.45,2.45 0 1,0 4.9,0a2.45,2.45 0 1,0 -4.9,0M255.9,362.7a2.45,2.45 0 1,0 4.9,0a2.45,2.45 0 1,0 -4.9,0M255.9,368.4a2.45,2.45 0 1,0 4.9,0a2.45,2.45 0 1,0 -4.9,0M255.9,374.1a2.45,2.45 0 1,0 4.9,0a2.45,2.45 0 1,0 -4.9,0M255.9,379.8a2.45,2.45 0 1,0 4.9,0a2.45,2.45 0 1,0 -4.9,0M264.88,220.2a2.45,2.45 0 1,0 4.9,0a2.45,2.45 0 1,0 -4.9,0M264.88,225.9a2.45,2.45 0 1,0 4.9,0a2.45,2.45 0 1,0 -4.9,0M264.88,231.6a2.45,2.45 0 1,0 4.9,0a2.45,2.45 0 1,0 -4.9,0M264.88,237.3a2.45,2.45 0 1,0 4.9,0a2.45,2.45 0 1,0 -4.9,0M264.88,243a2.45,2.45 0 1,0 4.9,0a2.45,2.45 0 1,0 -4.9,0M264.88,248.7a2.45,2.45 0 1,0 4.9,0a2.45,2.45 0 1,0 -4.9,0M264.88,254.4a2.45,2.45 0 1,0 4.9,0a2.45,2.45 0 1,0 -4.9,0M264.88,260.1a2.45,2.45 0 1,0 4.9,0a2.45,2.45 0 1,0 -4.9,0M264.88,265.8a2.45,2.45 0 1,0 4.9,0a2.45,2.45 0 1,0 -4.9,0M264.88,271.5a2.45,2.45 0 1,0 4.9,0a2.45,2.45 0 1,0 -4.9,0M264.88,277.2a2.45,2.45 0 1,0 4.9,0a2.45,2.45 0 1,0 -4.9,0M264.88,282.9a2.45,2.45 0 1,0 4.9,0a2.45,2.45 0 1,0 -4.9,0M264.88,288.6a2.45,2.45 0 1,0 4.9,0a2.45,2.45 0 1,0 -4.9,0M264.88,294.3a2.45,2.45 0 1,0 4.9,0a2.45,2.45 0 1,0 -4.9,0M264.88,300a2.45,2.45 0 1,0 4.9,0a2.45,2.45 0 1,0 -4.9,0M264.88,305.7a2.45,2.45 0 1,0 4.9,0a2.45,2.45 0 1,0 -4.9,0M264.88,311.4a2.45,2.45 0 1,0 4.9,0a2.45,2.45 0 1,0 -4.9,0M264.88,317.1a2.45,2.45 0 1,0 4.9,0a2.45,2.45 0 1,0 -4.9,0M264.88,322.8a2.45,2.45 0 1,0 4.9,0a2.45,2.45 0 1,0 -4.9,0M264.88,328.5a2.45,2.45 0 1,0 4.9,0a2.45,2.45 0 1,0 -4.9,0M264.88,334.2a2.45,2.45 0 1,0 4.9,0a2.45,2.45 0 1,0 -4.9,0M264.88,339.9a2.45,2.45 0 1,0 4.9,0a2.45,2.45 0 1,0 -4.9,0M264.88,345.6a2.45,2.45 0 1,0 4.9,0a2.45,2.45 0 1,0 -4.9,0M264.88,351.3a2.45,2.45 0 1,0 4.9,0a2.45,2.45 0 1,0 -4.9,0M264.88,357a2.45,2.45 0 1,0 4.9,0a2.45,2.45 0 1,0 -4.9,0M264.88,362.7a2.45,2.45 0 1,0 4.9,0a2.45,2.45 0 1,0 -4.9,0M264.88,368.4a2.45,2.45 0 1,0 4.9,0a2.45,2.45 0 1,0 -4.9,0M264.88,374.1a2.45,2.45 0 1,0 4.9,0a2.45,2.45 0 1,0 -4.9,0M264.88,379.8a2.45,2.45 0 1,0 4.9,0a2.45,2.45 0 1,0 -4.9,0M273.87,220.2a2.45,2.45 0 1,0 4.9,0a2.45,2.45 0 1,0 -4.9,0M273.87,225.9a2.45,2.45 0 1,0 4.9,0a2.45,2.45 0 1,0 -4.9,0M273.87,231.6a2.45,2.45 0 1,0 4.9,0a2.45,2.45 0 1,0 -4.9,0M273.87,237.3a2.45,2.45 0 1,0 4.9,0a2.45,2.45 0 1,0 -4.9,0M273.87,243a2.45,2.45 0 1,0 4.9,0a2.45,2.45 0 1,0 -4.9,0M273.87,248.7a2.45,2.45 0 1,0 4.9,0a2.45,2.45 0 1,0 -4.9,0M273.87,254.4a2.45,2.45 0 1,0 4.9,0a2.45,2.45 0 1,0 -4.9,0M273.87,260.1a2.45,2.45 0 1,0 4.9,0a2.45,2.45 0 1,0 -4.9,0M273.87,265.8a2.45,2.45 0 1,0 4.9,0a2.45,2.45 0 1,0 -4.9,0M273.87,271.5a2.45,2.45 0 1,0 4.9,0a2.45,2.45 0 1,0 -4.9,0M273.87,277.2a2.45,2.45 0 1,0 4.9,0a2.45,2.45 0 1,0 -4.9,0M273.87,282.9a2.45,2.45 0 1,0 4.9,0a2.45,2.45 0 1,0 -4.9,0M273.87,288.6a2.45,2.45 0 1,0 4.9,0a2.45,2.45 0 1,0 -4.9,0M273.87,294.3a2.45,2.45 0 1,0 4.9,0a2.45,2.45 0 1,0 -4.9,0M273.87,300a2.45,2.45 0 1,0 4.9,0a2.45,2.45 0 1,0 -4.9,0M273.87,305.7a2.45,2.45 0 1,0 4.9,0a2.45,2.45 0 1,0 -4.9,0M273.87,311.4a2.45,2.45 0 1,0 4.9,0a2.45,2.45 0 1,0 -4.9,0M273.87,317.1a2.45,2.45 0 1,0 4.9,0a2.45,2.45 0 1,0 -4.9,0M273.87,322.8a2.45,2.45 0 1,0 4.9,0a2.45,2.45 0 1,0 -4.9,0M273.87,328.5a2.45,2.45 0 1,0 4.9,0a2.45,2.45 0 1,0 -4.9,0M273.87,334.2a2.45,2.45 0 1,0 4.9,0a2.45,2.45 0 1,0 -4.9,0M273.87,339.9a2.45,2.45 0 1,0 4.9,0a2.45,2.45 0 1,0 -4.9,0M273.87,345.6a2.45,2.45 0 1,0 4.9,0a2.45,2.45 0 1,0 -4.9,0M273.87,351.3a2.45,2.45 0 1,0 4.9,0a2.45,2.45 0 1,0 -4.9,0M273.87,357a2.45,2.45 0 1,0 4.9,0a2.45,2.45 0 1,0 -4.9,0M273.87,362.7a2.45,2.45 0 1,0 4.9,0a2.45,2.45 0 1,0 -4.9,0M273.87,368.4a2.45,2.45 0 1,0 4.9,0a2.45,2.45 0 1,0 -4.9,0M273.87,374.1a2.45,2.45 0 1,0 4.9,0a2.45,2.45 0 1,0 -4.9,0M273.87,379.8a2.45,2.45 0 1,0 4.9,0a2.45,2.45 0 1,0 -4.9,0M282.85,220.2a2.45,2.45 0 1,0 4.9,0a2.45,2.45 0 1,0 -4.9,0M282.85,225.9a2.45,2.45 0 1,0 4.9,0a2.45,2.45 0 1,0 -4.9,0M282.85,231.6a2.45,2.45 0 1,0 4.9,0a2.45,2.45 0 1,0 -4.9,0M282.85,237.3a2.45,2.45 0 1,0 4.9,0a2.45,2.45 0 1,0 -4.9,0M282.85,243a2.45,2.45 0 1,0 4.9,0a2.45,2.45 0 1,0 -4.9,0M282.85,248.7a2.45,2.45 0 1,0 4.9,0a2.45,2.45 0 1,0 -4.9,0M282.85,254.4a2.45,2.45 0 1,0 4.9,0a2.45,2.45 0 1,0 -4.9,0M282.85,260.1a2.45,2.45 0 1,0 4.9,0a2.45,2.45 0 1,0 -4.9,0M282.85,265.8a2.45,2.45 0 1,0 4.9,0a2.45,2.45 0 1,0 -4.9,0M282.85,271.5a2.45,2.45 0 1,0 4.9,0a2.45,2.45 0 1,0 -4.9,0M282.85,277.2a2.45,2.45 0 1,0 4.9,0a2.45,2.45 0 1,0 -4.9,0M282.85,282.9a2.45,2.45 0 1,0 4.9,0a2.45,2.45 0 1,0 -4.9,0M282.85,288.6a2.45,2.45 0 1,0 4.9,0a2.45,2.45 0 1,0 -4.9,0M282.85,294.3a2.45,2.45 0 1,0 4.9,0a2.45,2.45 0 1,0 -4.9,0M282.85,300a2.45,2.45 0 1,0 4.9,0a2.45,2.45 0 1,0 -4.9,0M282.85,305.7a2.45,2.45 0 1,0 4.9,0a2.45,2.45 0 1,0 -4.9,0M282.85,311.4a2.45,2.45 0 1,0 4.9,0a2.45,2.45 0 1,0 -4.9,0M282.85,317.1a2.45,2.45 0 1,0 4.9,0a2.45,2.45 0 1,0 -4.9,0M282.85,322.8a2.45,2.45 0 1,0 4.9,0a2.45,2.45 0 1,0 -4.9,0M282.85,328.5a2.45,2.45 0 1,0 4.9,0a2.45,2.45 0 1,0 -4.9,0M282.85,334.2a2.45,2.45 0 1,0 4.9,0a2.45,2.45 0 1,0 -4.9,0M282.85,339.9a2.45,2.45 0 1,0 4.9,0a2.45,2.45 0 1,0 -4.9,0M282.85,345.6a2.45,2.45 0 1,0 4.9,0a2.45,2.45 0 1,0 -4.9,0M282.85,351.3a2.45,2.45 0 1,0 4.9,0a2.45,2.45 0 1,0 -4.9,0M282.85,357a2.45,2.45 0 1,0 4.9,0a2.45,2.45 0 1,0 -4.9,0M282.85,362.7a2.45,2.45 0 1,0 4.9,0a2.45,2.45 0 1,0 -4.9,0M282.85,368.4a2.45,2.45 0 1,0 4.9,0a2.45,2.45 0 1,0 -4.9,0M282.85,374.1a2.45,2.45 0 1,0 4.9,0a2.45,2.45 0 1,0 -4.9,0M282.85,379.8a2.45,2.45 0 1,0 4.9,0a2.45,2.45 0 1,0 -4.9,0M291.83,220.2a2.45,2.45 0 1,0 4.9,0a2.45,2.45 0 1,0 -4.9,0M291.83,225.9a2.45,2.45 0 1,0 4.9,0a2.45,2.45 0 1,0 -4.9,0M291.83,231.6a2.45,2.45 0 1,0 4.9,0a2.45,2.45 0 1,0 -4.9,0M291.83,237.3a2.45,2.45 0 1,0 4.9,0a2.45,2.45 0 1,0 -4.9,0M291.83,243a2.45,2.45 0 1,0 4.9,0a2.45,2.45 0 1,0 -4.9,0M291.83,248.7a2.45,2.45 0 1,0 4.9,0a2.45,2.45 0 1,0 -4.9,0M291.83,254.4a2.45,2.45 0 1,0 4.9,0a2.45,2.45 0 1,0 -4.9,0M291.83,260.1a2.45,2.45 0 1,0 4.9,0a2.45,2.45 0 1,0 -4.9,0M291.83,265.8a2.45,2.45 0 1,0 4.9,0a2.45,2.45 0 1,0 -4.9,0M291.83,271.5a2.45,2.45 0 1,0 4.9,0a2.45,2.45 0 1,0 -4.9,0M291.83,277.2a2.45,2.45 0 1,0 4.9,0a2.45,2.45 0 1,0 -4.9,0M291.83,282.9a2.45,2.45 0 1,0 4.9,0a2.45,2.45 0 1,0 -4.9,0M291.83,288.6a2.45,2.45 0 1,0 4.9,0a2.45,2.45 0 1,0 -4.9,0M291.83,294.3a2.45,2.45 0 1,0 4.9,0a2.45,2.45 0 1,0 -4.9,0M291.83,300a2.45,2.45 0 1,0 4.9,0a2.45,2.45 0 1,0 -4.9,0M291.83,305.7a2.45,2.45 0 1,0 4.9,0a2.45,2.45 0 1,0 -4.9,0M291.83,311.4a2.45,2.45 0 1,0 4.9,0a2.45,2.45 0 1,0 -4.9,0M291.83,317.1a2.45,2.45 0 1,0 4.9,0a2.45,2.45 0 1,0 -4.9,0M291.83,322.8a2.45,2.45 0 1,0 4.9,0a2.45,2.45 0 1,0 -4.9,0M291.83,328.5a2.45,2.45 0 1,0 4.9,0a2.45,2.45 0 1,0 -4.9,0M291.83,334.2a2.45,2.45 0 1,0 4.9,0a2.45,2.45 0 1,0 -4.9,0M291.83,339.9a2.45,2.45 0 1,0 4.9,0a2.45,2.45 0 1,0 -4.9,0M291.83,345.6a2.45,2.45 0 1,0 4.9,0a2.45,2.45 0 1,0 -4.9,0M291.83,351.3a2.45,2.45 0 1,0 4.9,0a2.45,2.45 0 1,0 -4.9,0M291.83,357a2.45,2.45 0 1,0 4.9,0a2.45,2.45 0 1,0 -4.9,0M291.83,362.7a2.45,2.45 0 1,0 4.9,0a2.45,2.45 0 1,0 -4.9,0M291.83,368.4a2.45,2.45 0 1,0 4.9,0a2.45,2.45 0 1,0 -4.9,0M291.83,374.1a2.45,2.45 0 1,0 4.9,0a2.45,2.45 0 1,0 -4.9,0M291.83,379.8a2.45,2.45 0 1,0 4.9,0a2.45,2.45 0 1,0 -4.9,0M300.82,220.2a2.45,2.45 0 1,0 4.9,0a2.45,2.45 0 1,0 -4.9,0M300.82,225.9a2.45,2.45 0 1,0 4.9,0a2.45,2.45 0 1,0 -4.9,0M300.82,231.6a2.45,2.45 0 1,0 4.9,0a2.45,2.45 0 1,0 -4.9,0M300.82,237.3a2.45,2.45 0 1,0 4.9,0a2.45,2.45 0 1,0 -4.9,0M300.82,243a2.45,2.45 0 1,0 4.9,0a2.45,2.45 0 1,0 -4.9,0M300.82,248.7a2.45,2.45 0 1,0 4.9,0a2.45,2.45 0 1,0 -4.9,0M300.82,254.4a2.45,2.45 0 1,0 4.9,0a2.45,2.45 0 1,0 -4.9,0M300.82,260.1a2.45,2.45 0 1,0 4.9,0a2.45,2.45 0 1,0 -4.9,0M300.82,265.8a2.45,2.45 0 1,0 4.9,0a2.45,2.45 0 1,0 -4.9,0M300.82,271.5a2.45,2.45 0 1,0 4.9,0a2.45,2.45 0 1,0 -4.9,0M300.82,277.2a2.45,2.45 0 1,0 4.9,0a2.45,2.45 0 1,0 -4.9,0M300.82,282.9a2.45,2.45 0 1,0 4.9,0a2.45,2.45 0 1,0 -4.9,0M300.82,288.6a2.45,2.45 0 1,0 4.9,0a2.45,2.45 0 1,0 -4.9,0M300.82,294.3a2.45,2.45 0 1,0 4.9,0a2.45,2.45 0 1,0 -4.9,0M300.82,300a2.45,2.45 0 1,0 4.9,0a2.45,2.45 0 1,0 -4.9,0M300.82,305.7a2.45,2.45 0 1,0 4.9,0a2.45,2.45 0 1,0 -4.9,0M300.82,311.4a2.45,2.45 0 1,0 4.9,0a2.45,2.45 0 1,0 -4.9,0M300.82,317.1a2.45,2.45 0 1,0 4.9,0a2.45,2.45 0 1,0 -4.9,0M300.82,322.8a2.45,2.45 0 1,0 4.9,0a2.45,2.45 0 1,0 -4.9,0M300.82,328.5a2.45,2.45 0 1,0 4.9,0a2.45,2.45 0 1,0 -4.9,0M300.82,334.2a2.45,2.45 0 1,0 4.9,0a2.45,2.45 0 1,0 -4.9,0M300.82,339.9a2.45,2.45 0 1,0 4.9,0a2.45,2.45 0 1,0 -4.9,0M300.82,345.6a2.45,2.45 0 1,0 4.9,0a2.45,2.45 0 1,0 -4.9,0M300.82,351.3a2.45,2.45 0 1,0 4.9,0a2.45,2.45 0 1,0 -4.9,0M300.82,357a2.45,2.45 0 1,0 4.9,0a2.45,2.45 0 1,0 -4.9,0M300.82,362.7a2.45,2.45 0 1,0 4.9,0a2.45,2.45 0 1,0 -4.9,0M300.82,368.4a2.45,2.45 0 1,0 4.9,0a2.45,2.45 0 1,0 -4.9,0M300.82,374.1a2.45,2.45 0 1,0 4.9,0a2.45,2.45 0 1,0 -4.9,0M300.82,379.8a2.45,2.45 0 1,0 4.9,0a2.45,2.45 0 1,0 -4.9,0M309.8,220.2a2.45,2.45 0 1,0 4.9,0a2.45,2.45 0 1,0 -4.9,0M309.8,225.9a2.45,2.45 0 1,0 4.9,0a2.45,2.45 0 1,0 -4.9,0M309.8,231.6a2.45,2.45 0 1,0 4.9,0a2.45,2.45 0 1,0 -4.9,0M309.8,237.3a2.45,2.45 0 1,0 4.9,0a2.45,2.45 0 1,0 -4.9,0M309.8,243a2.45,2.45 0 1,0 4.9,0a2.45,2.45 0 1,0 -4.9,0M309.8,248.7a2.45,2.45 0 1,0 4.9,0a2.45,2.45 0 1,0 -4.9,0M309.8,254.4a2.45,2.45 0 1,0 4.9,0a2.45,2.45 0 1,0 -4.9,0M309.8,260.1a2.45,2.45 0 1,0 4.9,0a2.45,2.45 0 1,0 -4.9,0M309.8,265.8a2.45,2.45 0 1,0 4.9,0a2.45,2.45 0 1,0 -4.9,0M309.8,271.5a2.45,2.45 0 1,0 4.9,0a2.45,2.45 0 1,0 -4.9,0M309.8,277.2a2.45,2.45 0 1,0 4.9,0a2.45,2.45 0 1,0 -4.9,0M309.8,282.9a2.45,2.45 0 1,0 4.9,0a2.45,2.45 0 1,0 -4.9,0M309.8,288.6a2.45,2.45 0 1,0 4.9,0a2.45,2.45 0 1,0 -4.9,0M309.8,294.3a2.45,2.45 0 1,0 4.9,0a2.45,2.45 0 1,0 -4.9,0M309.8,300a2.45,2.45 0 1,0 4.9,0a2.45,2.45 0 1,0 -4.9,0M309.8,305.7a2.45,2.45 0 1,0 4.9,0a2.45,2.45 0 1,0 -4.9,0M309.8,311.4a2.45,2.45 0 1,0 4.9,0a2.45,2.45 0 1,0 -4.9,0M309.8,317.1a2.45,2.45 0 1,0 4.9,0a2.45,2.45 0 1,0 -4.9,0M309.8,322.8a2.45,2.45 0 1,0 4.9,0a2.45,2.45 0 1,0 -4.9,0M309.8,328.5a2.45,2.45 0 1,0 4.9,0a2.45,2.45 0 1,0 -4.9,0M309.8,334.2a2.45,2.45 0 1,0 4.9,0a2.45,2.45 0 1,0 -4.9,0M309.8,339.9a2.45,2.45 0 1,0 4.9,0a2.45,2.45 0 1,0 -4.9,0M309.8,345.6a2.45,2.45 0 1,0 4.9,0a2.45,2.45 0 1,0 -4.9,0M309.8,351.3a2.45,2.45 0 1,0 4.9,0a2.45,2.45 0 1,0 -4.9,0M309.8,357a2.45,2.45 0 1,0 4.9,0a2.45,2.45 0 1,0 -4.9,0M309.8,362.7a2.45,2.45 0 1,0 4.9,0a2.45,2.45 0 1,0 -4.9,0M309.8,368.4a2.45,2.45 0 1,0 4.9,0a2.45,2.45 0 1,0 -4.9,0M309.8,374.1a2.45,2.45 0 1,0 4.9,0a2.45,2.45 0 1,0 -4.9,0M309.8,379.8a2.45,2.45 0 1,0 4.9,0a2.45,2.45 0 1,0 -4.9,0M318.79,220.2a2.45,2.45 0 1,0 4.9,0a2.45,2.45 0 1,0 -4.9,0M318.79,225.9a2.45,2.45 0 1,0 4.9,0a2.45,2.45 0 1,0 -4.9,0M318.79,231.6a2.45,2.45 0 1,0 4.9,0a2.45,2.45 0 1,0 -4.9,0M318.79,237.3a2.45,2.45 0 1,0 4.9,0a2.45,2.45 0 1,0 -4.9,0M318.79,243a2.45,2.45 0 1,0 4.9,0a2.45,2.45 0 1,0 -4.9,0M318.79,248.7a2.45,2.45 0 1,0 4.9,0a2.45,2.45 0 1,0 -4.9,0M318.79,254.4a2.45,2.45 0 1,0 4.9,0a2.45,2.45 0 1,0 -4.9,0M318.79,260.1a2.45,2.45 0 1,0 4.9,0a2.45,2.45 0 1,0 -4.9,0M318.79,265.8a2.45,2.45 0 1,0 4.9,0a2.45,2.45 0 1,0 -4.9,0M318.79,271.5a2.45,2.45 0 1,0 4.9,0a2.45,2.45 0 1,0 -4.9,0M318.79,277.2a2.45,2.45 0 1,0 4.9,0a2.45,2.45 0 1,0 -4.9,0M318.79,282.9a2.45,2.45 0 1,0 4.9,0a2.45,2.45 0 1,0 -4.9,0M318.79,288.6a2.45,2.45 0 1,0 4.9,0a2.45,2.45 0 1,0 -4.9,0M318.79,294.3a2.45,2.45 0 1,0 4.9,0a2.45,2.45 0 1,0 -4.9,0M318.79,300a2.45,2.45 0 1,0 4.9,0a2.45,2.45 0 1,0 -4.9,0M318.79,305.7a2.45,2.45 0 1,0 4.9,0a2.45,2.45 0 1,0 -4.9,0M318.79,311.4a2.45,2.45 0 1,0 4.9,0a2.45,2.45 0 1,0 -4.9,0M318.79,317.1a2.45,2.45 0 1,0 4.9,0a2.45,2.45 0 1,0 -4.9,0M318.79,322.8a2.45,2.45 0 1,0 4.9,0a2.45,2.45 0 1,0 -4.9,0M318.79,328.5a2.45,2.45 0 1,0 4.9,0a2.45,2.45 0 1,0 -4.9,0M318.79,334.2a2.45,2.45 0 1,0 4.9,0a2.45,2.45 0 1,0 -4.9,0M318.79,339.9a2.45,2.45 0 1,0 4.9,0a2.45,2.45 0 1,0 -4.9,0M318.79,345.6a2.45,2.45 0 1,0 4.9,0a2.45,2.45 0 1,0 -4.9,0M318.79,351.3a2.45,2.45 0 1,0 4.9,0a2.45,2.45 0 1,0 -4.9,0M318.79,357a2.45,2.45 0 1,0 4.9,0a2.45,2.45 0 1,0 -4.9,0M318.79,362.7a2.45,2.45 0 1,0 4.9,0a2.45,2.45 0 1,0 -4.9,0M318.79,368.4a2.45,2.45 0 1,0 4.9,0a2.45,2.45 0 1,0 -4.9,0M318.79,374.1a2.45,2.45 0 1,0 4.9,0a2.45,2.45 0 1,0 -4.9,0M318.79,379.8a2.45,2.45 0 1,0 4.9,0a2.45,2.45 0 1,0 -4.9,0M327.77,220.2a2.45,2.45 0 1,0 4.9,0a2.45,2.45 0 1,0 -4.9,0M327.77,225.9a2.45,2.45 0 1,0 4.9,0a2.45,2.45 0 1,0 -4.9,0M327.77,231.6a2.45,2.45 0 1,0 4.9,0a2.45,2.45 0 1,0 -4.9,0M327.77,237.3a2.45,2.45 0 1,0 4.9,0a2.45,2.45 0 1,0 -4.9,0M327.77,243a2.45,2.45 0 1,0 4.9,0a2.45,2.45 0 1,0 -4.9,0M327.77,248.7a2.45,2.45 0 1,0 4.9,0a2.45,2.45 0 1,0 -4.9,0M327.77,254.4a2.45,2.45 0 1,0 4.9,0a2.45,2.45 0 1,0 -4.9,0M327.77,260.1a2.45,2.45 0 1,0 4.9,0a2.45,2.45 0 1,0 -4.9,0M327.77,265.8a2.45,2.45 0 1,0 4.9,0a2.45,2.45 0 1,0 -4.9,0M327.77,271.5a2.45,2.45 0 1,0 4.9,0a2.45,2.45 0 1,0 -4.9,0M327.77,277.2a2.45,2.45 0 1,0 4.9,0a2.45,2.45 0 1,0 -4.9,0M327.77,282.9a2.45,2.45 0 1,0 4.9,0a2.45,2.45 0 1,0 -4.9,0M327.77,288.6a2.45,2.45 0 1,0 4.9,0a2.45,2.45 0 1,0 -4.9,0M327.77,294.3a2.45,2.45 0 1,0 4.9,0a2.45,2.45 0 1,0 -4.9,0M327.77,300a2.45,2.45 0 1,0 4.9,0a2.45,2.45 0 1,0 -4.9,0M327.77,305.7a2.45,2.45 0 1,0 4.9,0a2.45,2.45 0 1,0 -4.9,0M327.77,311.4a2.45,2.45 0 1,0 4.9,0a2.45,2.45 0 1,0 -4.9,0M327.77,317.1a2.45,2.45 0 1,0 4.9,0a2.45,2.45 0 1,0 -4.9,0M327.77,322.8a2.45,2.45 0 1,0 4.9,0a2.45,2.45 0 1,0 -4.9,0M327.77,328.5a2.45,2.45 0 1,0 4.9,0a2.45,2.45 0 1,0 -4.9,0M327.77,334.2a2.45,2.45 0 1,0 4.9,0a2.45,2.45 0 1,0 -4.9,0M327.77,339.9a2.45,2.45 0 1,0 4.9,0a2.45,2.45 0 1,0 -4.9,0M327.77,345.6a2.45,2.45 0 1,0 4.9,0a2.45,2.45 0 1,0 -4.9,0M327.77,351.3a2.45,2.45 0 1,0 4.9,0a2.45,2.45 0 1,0 -4.9,0M327.77,357a2.45,2.45 0 1,0 4.9,0a2.45,2.45 0 1,0 -4.9,0M327.77,362.7a2.45,2.45 0 1,0 4.9,0a2.45,2.45 0 1,0 -4.9,0M327.77,368.4a2.45,2.45 0 1,0 4.9,0a2.45,2.45 0 1,0 -4.9,0M327.77,374.1a2.45,2.45 0 1,0 4.9,0a2.45,2.45 0 1,0 -4.9,0M327.77,379.8a2.45,2.45 0 1,0 4.9,0a2.45,2.45 0 1,0 -4.9,0M336.75,220.2a2.45,2.45 0 1,0 4.9,0a2.45,2.45 0 1,0 -4.9,0M336.75,225.9a2.45,2.45 0 1,0 4.9,0a2.45,2.45 0 1,0 -4.9,0M336.75,231.6a2.45,2.45 0 1,0 4.9,0a2.45,2.45 0 1,0 -4.9,0M336.75,237.3a2.45,2.45 0 1,0 4.9,0a2.45,2.45 0 1,0 -4.9,0M336.75,243a2.45,2.45 0 1,0 4.9,0a2.45,2.45 0 1,0 -4.9,0M336.75,248.7a2.45,2.45 0 1,0 4.9,0a2.45,2.45 0 1,0 -4.9,0M336.75,254.4a2.45,2.45 0 1,0 4.9,0a2.45,2.45 0 1,0 -4.9,0M336.75,260.1a2.45,2.45 0 1,0 4.9,0a2.45,2.45 0 1,0 -4.9,0M336.75,265.8a2.45,2.45 0 1,0 4.9,0a2.45,2.45 0 1,0 -4.9,0M336.75,271.5a2.45,2.45 0 1,0 4.9,0a2.45,2.45 0 1,0 -4.9,0M336.75,277.2a2.45,2.45 0 1,0 4.9,0a2.45,2.45 0 1,0 -4.9,0M336.75,282.9a2.45,2.45 0 1,0 4.9,0a2.45,2.45 0 1,0 -4.9,0M336.75,288.6a2.45,2.45 0 1,0 4.9,0a2.45,2.45 0 1,0 -4.9,0M336.75,294.3a2.45,2.45 0 1,0 4.9,0a2.45,2.45 0 1,0 -4.9,0M336.75,300a2.45,2.45 0 1,0 4.9,0a2.45,2.45 0 1,0 -4.9,0M336.75,305.7a2.45,2.45 0 1,0 4.9,0a2.45,2.45 0 1,0 -4.9,0M336.75,311.4a2.45,2.45 0 1,0 4.9,0a2.45,2.45 0 1,0 -4.9,0M336.75,317.1a2.45,2.45 0 1,0 4.9,0a2.45,2.45 0 1,0 -4.9,0M336.75,322.8a2.45,2.45 0 1,0 4.9,0a2.45,2.45 0 1,0 -4.9,0M336.75,328.5a2.45,2.45 0 1,0 4.9,0a2.45,2.45 0 1,0 -4.9,0M336.75,334.2a2.45,2.45 0 1,0 4.9,0a2.45,2.45 0 1,0 -4.9,0M336.75,339.9a2.45,2.45 0 1,0 4.9,0a2.45,2.45 0 1,0 -4.9,0M336.75,345.6a2.45,2.45 0 1,0 4.9,0a2.45,2.45 0 1,0 -4.9,0M336.75,351.3a2.45,2.45 0 1,0 4.9,0a2.45,2.45 0 1,0 -4.9,0M336.75,357a2.45,2.45 0 1,0 4.9,0a2.45,2.45 0 1,0 -4.9,0M336.75,362.7a2.45,2.45 0 1,0 4.9,0a2.45,2.45 0 1,0 -4.9,0M336.75,368.4a2.45,2.45 0 1,0 4.9,0a2.45,2.45 0 1,0 -4.9,0M336.75,374.1a2.45,2.45 0 1,0 4.9,0a2.45,2.45 0 1,0 -4.9,0M336.75,379.8a2.45,2.45 0 1,0 4.9,0a2.45,2.45 0 1,0 -4.9,0M345.74,220.2a2.45,2.45 0 1,0 4.9,0a2.45,2.45 0 1,0 -4.9,0M345.74,225.9a2.45,2.45 0 1,0 4.9,0a2.45,2.45 0 1,0 -4.9,0M345.74,231.6a2.45,2.45 0 1,0 4.9,0a2.45,2.45 0 1,0 -4.9,0M345.74,237.3a2.45,2.45 0 1,0 4.9,0a2.45,2.45 0 1,0 -4.9,0M345.74,243a2.45,2.45 0 1,0 4.9,0a2.45,2.45 0 1,0 -4.9,0M345.74,248.7a2.45,2.45 0 1,0 4.9,0a2.45,2.45 0 1,0 -4.9,0M345.74,254.4a2.45,2.45 0 1,0 4.9,0a2.45,2.45 0 1,0 -4.9,0M345.74,260.1a2.45,2.45 0 1,0 4.9,0a2.45,2.45 0 1,0 -4.9,0M345.74,265.8a2.45,2.45 0 1,0 4.9,0a2.45,2.45 0 1,0 -4.9,0M345.74,271.5a2.45,2.45 0 1,0 4.9,0a2.45,2.45 0 1,0 -4.9,0M345.74,277.2a2.45,2.45 0 1,0 4.9,0a2.45,2.45 0 1,0 -4.9,0M345.74,282.9a2.45,2.45 0 1,0 4.9,0a2.45,2.45 0 1,0 -4.9,0M345.74,288.6a2.45,2.45 0 1,0 4.9,0a2.45,2.45 0 1,0 -4.9,0M345.74,294.3a2.45,2.45 0 1,0 4.9,0a2.45,2.45 0 1,0 -4.9,0M345.74,300a2.45,2.45 0 1,0 4.9,0a2.45,2.45 0 1,0 -4.9,0M345.74,305.7a2.45,2.45 0 1,0 4.9,0a2.45,2.45 0 1,0 -4.9,0M345.74,311.4a2.45,2.45 0 1,0 4.9,0a2.45,2.45 0 1,0 -4.9,0M345.74,317.1a2.45,2.45 0 1,0 4.9,0a2.45,2.45 0 1,0 -4.9,0M345.74,322.8a2.45,2.45 0 1,0 4.9,0a2.45,2.45 0 1,0 -4.9,0M345.74,328.5a2.45,2.45 0 1,0 4.9,0a2.45,2.45 0 1,0 -4.9,0M345.74,334.2a2.45,2.45 0 1,0 4.9,0a2.45,2.45 0 1,0 -4.9,0M345.74,339.9a2.45,2.45 0 1,0 4.9,0a2.45,2.45 0 1,0 -4.9,0M345.74,345.6a2.45,2.45 0 1,0 4.9,0a2.45,2.45 0 1,0 -4.9,0M345.74,351.3a2.45,2.45 0 1,0 4.9,0a2.45,2.45 0 1,0 -4.9,0M345.74,357a2.45,2.45 0 1,0 4.9,0a2.45,2.45 0 1,0 -4.9,0M345.74,362.7a2.45,2.45 0 1,0 4.9,0a2.45,2.45 0 1,0 -4.9,0M345.74,368.4a2.45,2.45 0 1,0 4.9,0a2.45,2.45 0 1,0 -4.9,0M345.74,374.1a2.45,2.45 0 1,0 4.9,0a2.45,2.45 0 1,0 -4.9,0M345.74,379.8a2.45,2.45 0 1,0 4.9,0a2.45,2.45 0 1,0 -4.9,0M354.72,220.2a2.45,2.45 0 1,0 4.9,0a2.45,2.45 0 1,0 -4.9,0M354.72,225.9a2.45,2.45 0 1,0 4.9,0a2.45,2.45 0 1,0 -4.9,0M354.72,231.6a2.45,2.45 0 1,0 4.9,0a2.45,2.45 0 1,0 -4.9,0M354.72,237.3a2.45,2.45 0 1,0 4.9,0a2.45,2.45 0 1,0 -4.9,0M354.72,243a2.45,2.45 0 1,0 4.9,0a2.45,2.45 0 1,0 -4.9,0M354.72,248.7a2.45,2.45 0 1,0 4.9,0a2.45,2.45 0 1,0 -4.9,0M354.72,254.4a2.45,2.45 0 1,0 4.9,0a2.45,2.45 0 1,0 -4.9,0M354.72,260.1a2.45,2.45 0 1,0 4.9,0a2.45,2.45 0 1,0 -4.9,0M354.72,265.8a2.45,2.45 0 1,0 4.9,0a2.45,2.45 0 1,0 -4.9,0M354.72,271.5a2.45,2.45 0 1,0 4.9,0a2.45,2.45 0 1,0 -4.9,0M354.72,277.2a2.45,2.45 0 1,0 4.9,0a2.45,2.45 0 1,0 -4.9,0M354.72,282.9a2.45,2.45 0 1,0 4.9,0a2.45,2.45 0 1,0 -4.9,0M354.72,288.6a2.45,2.45 0 1,0 4.9,0a2.45,2.45 0 1,0 -4.9,0M354.72,294.3a2.45,2.45 0 1,0 4.9,0a2.45,2.45 0 1,0 -4.9,0M354.72,300a2.45,2.45 0 1,0 4.9,0a2.45,2.45 0 1,0 -4.9,0M354.72,305.7a2.45,2.45 0 1,0 4.9,0a2.45,2.45 0 1,0 -4.9,0M354.72,311.4a2.45,2.45 0 1,0 4.9,0a2.45,2.45 0 1,0 -4.9,0M354.72,317.1a2.45,2.45 0 1,0 4.9,0a2.45,2.45 0 1,0 -4.9,0M354.72,322.8a2.45,2.45 0 1,0 4.9,0a2.45,2.45 0 1,0 -4.9,0M354.72,328.5a2.45,2.45 0 1,0 4.9,0a2.45,2.45 0 1,0 -4.9,0M354.72,334.2a2.45,2.45 0 1,0 4.9,0a2.45,2.45 0 1,0 -4.9,0M354.72,339.9a2.45,2.45 0 1,0 4.9,0a2.45,2.45 0 1,0 -4.9,0M354.72,345.6a2.45,2.45 0 1,0 4.9,0a2.45,2.45 0 1,0 -4.9,0M354.72,351.3a2.45,2.45 0 1,0 4.9,0a2.45,2.45 0 1,0 -4.9,0M354.72,357a2.45,2.45 0 1,0 4.9,0a2.45,2.45 0 1,0 -4.9,0M354.72,362.7a2.45,2.45 0 1,0 4.9,0a2.45,2.45 0 1,0 -4.9,0M354.72,368.4a2.45,2.45 0 1,0 4.9,0a2.45,2.45 0 1,0 -4.9,0M354.72,374.1a2.45,2.45 0 1,0 4.9,0a2.45,2.45 0 1,0 -4.9,0M354.72,379.8a2.45,2.45 0 1,0 4.9,0a2.45,2.45 0 1,0 -4.9,0M363.71,220.2a2.45,2.45 0 1,0 4.9,0a2.45,2.45 0 1,0 -4.9,0M363.71,225.9a2.45,2.45 0 1,0 4.9,0a2.45,2.45 0 1,0 -4.9,0M363.71,231.6a2.45,2.45 0 1,0 4.9,0a2.45,2.45 0 1,0 -4.9,0M363.71,237.3a2.45,2.45 0 1,0 4.9,0a2.45,2.45 0 1,0 -4.9,0M363.71,243a2.45,2.45 0 1,0 4.9,0a2.45,2.45 0 1,0 -4.9,0M363.71,248.7a2.45,2.45 0 1,0 4.9,0a2.45,2.45 0 1,0 -4.9,0M363.71,254.4a2.45,2.45 0 1,0 4.9,0a2.45,2.45 0 1,0 -4.9,0M363.71,260.1a2.45,2.45 0 1,0 4.9,0a2.45,2.45 0 1,0 -4.9,0M363.71,265.8a2.45,2.45 0 1,0 4.9,0a2.45,2.45 0 1,0 -4.9,0M363.71,271.5a2.45,2.45 0 1,0 4.9,0a2.45,2.45 0 1,0 -4.9,0M363.71,277.2a2.45,2.45 0 1,0 4.9,0a2.45,2.45 0 1,0 -4.9,0M363.71,282.9a2.45,2.45 0 1,0 4.9,0a2.45,2.45 0 1,0 -4.9,0M363.71,288.6a2.45,2.45 0 1,0 4.9,0a2.45,2.45 0 1,0 -4.9,0M363.71,294.3a2.45,2.45 0 1,0 4.9,0a2.45,2.45 0 1,0 -4.9,0M363.71,300a2.45,2.45 0 1,0 4.9,0a2.45,2.45 0 1,0 -4.9,0M363.71,305.7a2.45,2.45 0 1,0 4.9,0a2.45,2.45 0 1,0 -4.9,0M363.71,311.4a2.45,2.45 0 1,0 4.9,0a2.45,2.45 0 1,0 -4.9,0M363.71,317.1a2.45,2.45 0 1,0 4.9,0a2.45,2.45 0 1,0 -4.9,0M363.71,322.8a2.45,2.45 0 1,0 4.9,0a2.45,2.45 0 1,0 -4.9,0M363.71,328.5a2.45,2.45 0 1,0 4.9,0a2.45,2.45 0 1,0 -4.9,0M363.71,334.2a2.45,2.45 0 1,0 4.9,0a2.45,2.45 0 1,0 -4.9,0M363.71,339.9a2.45,2.45 0 1,0 4.9,0a2.45,2.45 0 1,0 -4.9,0M363.71,345.6a2.45,2.45 0 1,0 4.9,0a2.45,2.45 0 1,0 -4.9,0M363.71,351.3a2.45,2.45 0 1,0 4.9,0a2.45,2.45 0 1,0 -4.9,0M363.71,357a2.45,2.45 0 1,0 4.9,0a2.45,2.45 0 1,0 -4.9,0M363.71,362.7a2.45,2.45 0 1,0 4.9,0a2.45,2.45 0 1,0 -4.9,0M363.71,368.4a2.45,2.45 0 1,0 4.9,0a2.45,2.45 0 1,0 -4.9,0M363.71,374.1a2.45,2.45 0 1,0 4.9,0a2.45,2.45 0 1,0 -4.9,0M363.71,379.8a2.45,2.45 0 1,0 4.9,0a2.45,2.45 0 1,0 -4.9,0M372.69,220.2a2.45,2.45 0 1,0 4.9,0a2.45,2.45 0 1,0 -4.9,0M372.69,225.9a2.45,2.45 0 1,0 4.9,0a2.45,2.45 0 1,0 -4.9,0M372.69,231.6a2.45,2.45 0 1,0 4.9,0a2.45,2.45 0 1,0 -4.9,0M372.69,237.3a2.45,2.45 0 1,0 4.9,0a2.45,2.45 0 1,0 -4.9,0M372.69,243a2.45,2.45 0 1,0 4.9,0a2.45,2.45 0 1,0 -4.9,0M372.69,248.7a2.45,2.45 0 1,0 4.9,0a2.45,2.45 0 1,0 -4.9,0M372.69,254.4a2.45,2.45 0 1,0 4.9,0a2.45,2.45 0 1,0 -4.9,0M372.69,260.1a2.45,2.45 0 1,0 4.9,0a2.45,2.45 0 1,0 -4.9,0M372.69,265.8a2.45,2.45 0 1,0 4.9,0a2.45,2.45 0 1,0 -4.9,0M372.69,271.5a2.45,2.45 0 1,0 4.9,0a2.45,2.45 0 1,0 -4.9,0M372.69,277.2a2.45,2.45 0 1,0 4.9,0a2.45,2.45 0 1,0 -4.9,0M372.69,282.9a2.45,2.45 0 1,0 4.9,0a2.45,2.45 0 1,0 -4.9,0M372.69,288.6a2.45,2.45 0 1,0 4.9,0a2.45,2.45 0 1,0 -4.9,0M372.69,294.3a2.45,2.45 0 1,0 4.9,0a2.45,2.45 0 1,0 -4.9,0M372.69,300a2.45,2.45 0 1,0 4.9,0a2.45,2.45 0 1,0 -4.9,0M372.69,305.7a2.45,2.45 0 1,0 4.9,0a2.45,2.45 0 1,0 -4.9,0M372.69,311.4a2.45,2.45 0 1,0 4.9,0a2.45,2.45 0 1,0 -4.9,0M372.69,317.1a2.45,2.45 0 1,0 4.9,0a2.45,2.45 0 1,0 -4.9,0M372.69,322.8a2.45,2.45 0 1,0 4.9,0a2.45,2.45 0 1,0 -4.9,0M372.69,328.5a2.45,2.45 0 1,0 4.9,0a2.45,2.45 0 1,0 -4.9,0M372.69,334.2a2.45,2.45 0 1,0 4.9,0a2.45,2.45 0 1,0 -4.9,0M372.69,339.9a2.45,2.45 0 1,0 4.9,0a2.45,2.45 0 1,0 -4.9,0M372.69,345.6a2.45,2.45 0 1,0 4.9,0a2.45,2.45 0 1,0 -4.9,0M372.69,351.3a2.45,2.45 0 1,0 4.9,0a2.45,2.45 0 1,0 -4.9,0M372.69,357a2.45,2.45 0 1,0 4.9,0a2.45,2.45 0 1,0 -4.9,0M372.69,362.7a2.45,2.45 0 1,0 4.9,0a2.45,2.45 0 1,0 -4.9,0M372.69,368.4a2.45,2.45 0 1,0 4.9,0a2.45,2.45 0 1,0 -4.9,0M372.69,374.1a2.45,2.45 0 1,0 4.9,0a2.45,2.45 0 1,0 -4.9,0M372.69,379.8a2.45,2.45 0 1,0 4.9,0a2.45,2.45 0 1,0 -4.9,0M381.67,220.2a2.45,2.45 0 1,0 4.9,0a2.45,2.45 0 1,0 -4.9,0M381.67,225.9a2.45,2.45 0 1,0 4.9,0a2.45,2.45 0 1,0 -4.9,0M381.67,231.6a2.45,2.45 0 1,0 4.9,0a2.45,2.45 0 1,0 -4.9,0M381.67,237.3a2.45,2.45 0 1,0 4.9,0a2.45,2.45 0 1,0 -4.9,0M381.67,243a2.45,2.45 0 1,0 4.9,0a2.45,2.45 0 1,0 -4.9,0M381.67,248.7a2.45,2.45 0 1,0 4.9,0a2.45,2.45 0 1,0 -4.9,0M381.67,254.4a2.45,2.45 0 1,0 4.9,0a2.45,2.45 0 1,0 -4.9,0M381.67,260.1a2.45,2.45 0 1,0 4.9,0a2.45,2.45 0 1,0 -4.9,0M381.67,265.8a2.45,2.45 0 1,0 4.9,0a2.45,2.45 0 1,0 -4.9,0M381.67,271.5a2.45,2.45 0 1,0 4.9,0a2.45,2.45 0 1,0 -4.9,0M381.67,277.2a2.45,2.45 0 1,0 4.9,0a2.45,2.45 0 1,0 -4.9,0M381.67,282.9a2.45,2.45 0 1,0 4.9,0a2.45,2.45 0 1,0 -4.9,0M381.67,288.6a2.45,2.45 0 1,0 4.9,0a2.45,2.45 0 1,0 -4.9,0M381.67,294.3a2.45,2.45 0 1,0 4.9,0a2.45,2.45 0 1,0 -4.9,0M381.67,300a2.45,2.45 0 1,0 4.9,0a2.45,2.45 0 1,0 -4.9,0M381.67,305.7a2.45,2.45 0 1,0 4.9,0a2.45,2.45 0 1,0 -4.9,0M381.67,311.4a2.45,2.45 0 1,0 4.9,0a2.45,2.45 0 1,0 -4.9,0M381.67,317.1a2.45,2.45 0 1,0 4.9,0a2.45,2.45 0 1,0 -4.9,0M381.67,322.8a2.45,2.45 0 1,0 4.9,0a2.45,2.45 0 1,0 -4.9,0M381.67,328.5a2.45,2.45 0 1,0 4.9,0a2.45,2.45 0 1,0 -4.9,0M381.67,334.2a2.45,2.45 0 1,0 4.9,0a2.45,2.45 0 1,0 -4.9,0M381.67,339.9a2.45,2.45 0 1,0 4.9,0a2.45,2.45 0 1,0 -4.9,0M381.67,345.6a2.45,2.45 0 1,0 4.9,0a2.45,2.45 0 1,0 -4.9,0M381.67,351.3a2.45,2.45 0 1,0 4.9,0a2.45,2.45 0 1,0 -4.9,0M381.67,357a2.45,2.45 0 1,0 4.9,0a2.45,2.45 0 1,0 -4.9,0M381.67,362.7a2.45,2.45 0 1,0 4.9,0a2.45,2.45 0 1,0 -4.9,0M381.67,368.4a2.45,2.45 0 1,0 4.9,0a2.45,2.45 0 1,0 -4.9,0M381.67,374.1a2.45,2.45 0 1,0 4.9,0a2.45,2.45 0 1,0 -4.9,0M381.67,379.8a2.45,2.45 0 1,0 4.9,0a2.45,2.45 0 1,0 -4.9,0M390.66,220.2a2.45,2.45 0 1,0 4.9,0a2.45,2.45 0 1,0 -4.9,0M390.66,225.9a2.45,2.45 0 1,0 4.9,0a2.45,2.45 0 1,0 -4.9,0M390.66,231.6a2.45,2.45 0 1,0 4.9,0a2.45,2.45 0 1,0 -4.9,0M390.66,237.3a2.45,2.45 0 1,0 4.9,0a2.45,2.45 0 1,0 -4.9,0M390.66,243a2.45,2.45 0 1,0 4.9,0a2.45,2.45 0 1,0 -4.9,0M390.66,248.7a2.45,2.45 0 1,0 4.9,0a2.45,2.45 0 1,0 -4.9,0M390.66,254.4a2.45,2.45 0 1,0 4.9,0a2.45,2.45 0 1,0 -4.9,0M390.66,260.1a2.45,2.45 0 1,0 4.9,0a2.45,2.45 0 1,0 -4.9,0M390.66,265.8a2.45,2.45 0 1,0 4.9,0a2.45,2.45 0 1,0 -4.9,0M390.66,271.5a2.45,2.45 0 1,0 4.9,0a2.45,2.45 0 1,0 -4.9,0M390.66,277.2a2.45,2.45 0 1,0 4.9,0a2.45,2.45 0 1,0 -4.9,0M390.66,282.9a2.45,2.45 0 1,0 4.9,0a2.45,2.45 0 1,0 -4.9,0M390.66,288.6a2.45,2.45 0 1,0 4.9,0a2.45,2.45 0 1,0 -4.9,0M390.66,294.3a2.45,2.45 0 1,0 4.9,0a2.45,2.45 0 1,0 -4.9,0M390.66,300a2.45,2.45 0 1,0 4.9,0a2.45,2.45 0 1,0 -4.9,0M390.66,305.7a2.45,2.45 0 1,0 4.9,0a2.45,2.45 0 1,0 -4.9,0M390.66,311.4a2.45,2.45 0 1,0 4.9,0a2.45,2.45 0 1,0 -4.9,0M390.66,317.1a2.45,2.45 0 1,0 4.9,0a2.45,2.45 0 1,0 -4.9,0M390.66,322.8a2.45,2.45 0 1,0 4.9,0a2.45,2.45 0 1,0 -4.9,0M390.66,328.5a2.45,2.45 0 1,0 4.9,0a2.45,2.45 0 1,0 -4.9,0M390.66,334.2a2.45,2.45 0 1,0 4.9,0a2.45,2.45 0 1,0 -4.9,0M390.66,339.9a2.45,2.45 0 1,0 4.9,0a2.45,2.45 0 1,0 -4.9,0M390.66,345.6a2.45,2.45 0 1,0 4.9,0a2.45,2.45 0 1,0 -4.9,0M390.66,351.3a2.45,2.45 0 1,0 4.9,0a2.45,2.45 0 1,0 -4.9,0M390.66,357a2.45,2.45 0 1,0 4.9,0a2.45,2.45 0 1,0 -4.9,0M390.66,362.7a2.45,2.45 0 1,0 4.9,0a2.45,2.45 0 1,0 -4.9,0M390.66,368.4a2.45,2.45 0 1,0 4.9,0a2.45,2.45 0 1,0 -4.9,0M390.66,374.1a2.45,2.45 0 1,0 4.9,0a2.45,2.45 0 1,0 -4.9,0M390.66,379.8a2.45,2.45 0 1,0 4.9,0a2.45,2.45 0 1,0 -4.9,0M399.64,220.2a2.45,2.45 0 1,0 4.9,0a2.45,2.45 0 1,0 -4.9,0M399.64,225.9a2.45,2.45 0 1,0 4.9,0a2.45,2.45 0 1,0 -4.9,0M399.64,231.6a2.45,2.45 0 1,0 4.9,0a2.45,2.45 0 1,0 -4.9,0M399.64,237.3a2.45,2.45 0 1,0 4.9,0a2.45,2.45 0 1,0 -4.9,0M399.64,243a2.45,2.45 0 1,0 4.9,0a2.45,2.45 0 1,0 -4.9,0M399.64,248.7a2.45,2.45 0 1,0 4.9,0a2.45,2.45 0 1,0 -4.9,0M399.64,254.4a2.45,2.45 0 1,0 4.9,0a2.45,2.45 0 1,0 -4.9,0M399.64,260.1a2.45,2.45 0 1,0 4.9,0a2.45,2.45 0 1,0 -4.9,0M399.64,265.8a2.45,2.45 0 1,0 4.9,0a2.45,2.45 0 1,0 -4.9,0M399.64,271.5a2.45,2.45 0 1,0 4.9,0a2.45,2.45 0 1,0 -4.9,0M399.64,277.2a2.45,2.45 0 1,0 4.9,0a2.45,2.45 0 1,0 -4.9,0M399.64,282.9a2.45,2.45 0 1,0 4.9,0a2.45,2.45 0 1,0 -4.9,0M399.64,288.6a2.45,2.45 0 1,0 4.9,0a2.45,2.45 0 1,0 -4.9,0M399.64,294.3a2.45,2.45 0 1,0 4.9,0a2.45,2.45 0 1,0 -4.9,0M399.64,300a2.45,2.45 0 1,0 4.9,0a2.45,2.45 0 1,0 -4.9,0M399.64,305.7a2.45,2.45 0 1,0 4.9,0a2.45,2.45 0 1,0 -4.9,0M399.64,311.4a2.45,2.45 0 1,0 4.9,0a2.45,2.45 0 1,0 -4.9,0M399.64,317.1a2.45,2.45 0 1,0 4.9,0a2.45,2.45 0 1,0 -4.9,0M399.64,322.8a2.45,2.45 0 1,0 4.9,0a2.45,2.45 0 1,0 -4.9,0M399.64,328.5a2.45,2.45 0 1,0 4.9,0a2.45,2.45 0 1,0 -4.9,0M399.64,334.2a2.45,2.45 0 1,0 4.9,0a2.45,2.45 0 1,0 -4.9,0M399.64,339.9a2.45,2.45 0 1,0 4.9,0a2.45,2.45 0 1,0 -4.9,0M399.64,345.6a2.45,2.45 0 1,0 4.9,0a2.45,2.45 0 1,0 -4.9,0M399.64,351.3a2.45,2.45 0 1,0 4.9,0a2.45,2.45 0 1,0 -4.9,0M399.64,357a2.45,2.45 0 1,0 4.9,0a2.45,2.45 0 1,0 -4.9,0M399.64,362.7a2.45,2.45 0 1,0 4.9,0a2.45,2.45 0 1,0 -4.9,0M399.64,368.4a2.45,2.45 0 1,0 4.9,0a2.45,2.45 0 1,0 -4.9,0M399.64,374.1a2.45,2.45 0 1,0 4.9,0a2.45,2.45 0 1,0 -4.9,0M399.64,379.8a2.45,2.45 0 1,0 4.9,0a2.45,2.45 0 1,0 -4.9,0M408.63,220.2a2.45,2.45 0 1,0 4.9,0a2.45,2.45 0 1,0 -4.9,0M408.63,225.9a2.45,2.45 0 1,0 4.9,0a2.45,2.45 0 1,0 -4.9,0M408.63,231.6a2.45,2.45 0 1,0 4.9,0a2.45,2.45 0 1,0 -4.9,0M408.63,237.3a2.45,2.45 0 1,0 4.9,0a2.45,2.45 0 1,0 -4.9,0M408.63,243a2.45,2.45 0 1,0 4.9,0a2.45,2.45 0 1,0 -4.9,0M408.63,248.7a2.45,2.45 0 1,0 4.9,0a2.45,2.45 0 1,0 -4.9,0M408.63,254.4a2.45,2.45 0 1,0 4.9,0a2.45,2.45 0 1,0 -4.9,0M408.63,260.1a2.45,2.45 0 1,0 4.9,0a2.45,2.45 0 1,0 -4.9,0M408.63,265.8a2.45,2.45 0 1,0 4.9,0a2.45,2.45 0 1,0 -4.9,0M408.63,271.5a2.45,2.45 0 1,0 4.9,0a2.45,2.45 0 1,0 -4.9,0M408.63,277.2a2.45,2.45 0 1,0 4.9,0a2.45,2.45 0 1,0 -4.9,0M408.63,282.9a2.45,2.45 0 1,0 4.9,0a2.45,2.45 0 1,0 -4.9,0M408.63,288.6a2.45,2.45 0 1,0 4.9,0a2.45,2.45 0 1,0 -4.9,0M408.63,294.3a2.45,2.45 0 1,0 4.9,0a2.45,2.45 0 1,0 -4.9,0M408.63,300a2.45,2.45 0 1,0 4.9,0a2.45,2.45 0 1,0 -4.9,0M408.63,305.7a2.45,2.45 0 1,0 4.9,0a2.45,2.45 0 1,0 -4.9,0M408.63,311.4a2.45,2.45 0 1,0 4.9,0a2.45,2.45 0 1,0 -4.9,0M408.63,317.1a2.45,2.45 0 1,0 4.9,0a2.45,2.45 0 1,0 -4.9,0M408.63,322.8a2.45,2.45 0 1,0 4.9,0a2.45,2.45 0 1,0 -4.9,0M408.63,328.5a2.45,2.45 0 1,0 4.9,0a2.45,2.45 0 1,0 -4.9,0M408.63,334.2a2.45,2.45 0 1,0 4.9,0a2.45,2.45 0 1,0 -4.9,0M408.63,339.9a2.45,2.45 0 1,0 4.9,0a2.45,2.45 0 1,0 -4.9,0M408.63,345.6a2.45,2.45 0 1,0 4.9,0a2.45,2.45 0 1,0 -4.9,0M408.63,351.3a2.45,2.45 0 1,0 4.9,0a2.45,2.45 0 1,0 -4.9,0M408.63,357a2.45,2.45 0 1,0 4.9,0a2.45,2.45 0 1,0 -4.9,0M408.63,362.7a2.45,2.45 0 1,0 4.9,0a2.45,2.45 0 1,0 -4.9,0M408.63,368.4a2.45,2.45 0 1,0 4.9,0a2.45,2.45 0 1,0 -4.9,0M408.63,374.1a2.45,2.45 0 1,0 4.9,0a2.45,2.45 0 1,0 -4.9,0M408.63,379.8a2.45,2.45 0 1,0 4.9,0a2.45,2.45 0 1,0 -4.9,0M417.61,220.2a2.45,2.45 0 1,0 4.9,0a2.45,2.45 0 1,0 -4.9,0M417.61,225.9a2.45,2.45 0 1,0 4.9,0a2.45,2.45 0 1,0 -4.9,0M417.61,231.6a2.45,2.45 0 1,0 4.9,0a2.45,2.45 0 1,0 -4.9,0M417.61,237.3a2.45,2.45 0 1,0 4.9,0a2.45,2.45 0 1,0 -4.9,0M417.61,243a2.45,2.45 0 1,0 4.9,0a2.45,2.45 0 1,0 -4.9,0M417.61,248.7a2.45,2.45 0 1,0 4.9,0a2.45,2.45 0 1,0 -4.9,0M417.61,254.4a2.45,2.45 0 1,0 4.9,0a2.45,2.45 0 1,0 -4.9,0M417.61,260.1a2.45,2.45 0 1,0 4.9,0a2.45,2.45 0 1,0 -4.9,0M417.61,265.8a2.45,2.45 0 1,0 4.9,0a2.45,2.45 0 1,0 -4.9,0M417.61,271.5a2.45,2.45 0 1,0 4.9,0a2.45,2.45 0 1,0 -4.9,0M417.61,277.2a2.45,2.45 0 1,0 4.9,0a2.45,2.45 0 1,0 -4.9,0M417.61,282.9a2.45,2.45 0 1,0 4.9,0a2.45,2.45 0 1,0 -4.9,0M417.61,288.6a2.45,2.45 0 1,0 4.9,0a2.45,2.45 0 1,0 -4.9,0M417.61,294.3a2.45,2.45 0 1,0 4.9,0a2.45,2.45 0 1,0 -4.9,0M417.61,300a2.45,2.45 0 1,0 4.9,0a2.45,2.45 0 1,0 -4.9,0M417.61,305.7a2.45,2.45 0 1,0 4.9,0a2.45,2.45 0 1,0 -4.9,0M417.61,311.4a2.45,2.45 0 1,0 4.9,0a2.45,2.45 0 1,0 -4.9,0M417.61,317.1a2.45,2.45 0 1,0 4.9,0a2.45,2.45 0 1,0 -4.9,0M417.61,322.8a2.45,2.45 0 1,0 4.9,0a2.45,2.45 0 1,0 -4.9,0M417.61,328.5a2.45,2.45 0 1,0 4.9,0a2.45,2.45 0 1,0 -4.9,0M417.61,334.2a2.45,2.45 0 1,0 4.9,0a2.45,2.45 0 1,0 -4.9,0M417.61,339.9a2.45,2.45 0 1,0 4.9,0a2.45,2.45 0 1,0 -4.9,0M417.61,345.6a2.45,2.45 0 1,0 4.9,0a2.45,2.45 0 1,0 -4.9,0M417.61,351.3a2.45,2.45 0 1,0 4.9,0a2.45,2.45 0 1,0 -4.9,0M417.61,357a2.45,2.45 0 1,0 4.9,0a2.45,2.45 0 1,0 -4.9,0M417.61,362.7a2.45,2.45 0 1,0 4.9,0a2.45,2.45 0 1,0 -4.9,0M417.61,368.4a2.45,2.45 0 1,0 4.9,0a2.45,2.45 0 1,0 -4.9,0M417.61,374.1a2.45,2.45 0 1,0 4.9,0a2.45,2.45 0 1,0 -4.9,0M417.61,379.8a2.45,2.45 0 1,0 4.9,0a2.45,2.45 0 1,0 -4.9,0M426.59,220.2a2.45,2.45 0 1,0 4.9,0a2.45,2.45 0 1,0 -4.9,0M426.59,225.9a2.45,2.45 0 1,0 4.9,0a2.45,2.45 0 1,0 -4.9,0M426.59,231.6a2.45,2.45 0 1,0 4.9,0a2.45,2.45 0 1,0 -4.9,0M426.59,237.3a2.45,2.45 0 1,0 4.9,0a2.45,2.45 0 1,0 -4.9,0M426.59,243a2.45,2.45 0 1,0 4.9,0a2.45,2.45 0 1,0 -4.9,0M426.59,248.7a2.45,2.45 0 1,0 4.9,0a2.45,2.45 0 1,0 -4.9,0M426.59,254.4a2.45,2.45 0 1,0 4.9,0a2.45,2.45 0 1,0 -4.9,0M426.59,260.1a2.45,2.45 0 1,0 4.9,0a2.45,2.45 0 1,0 -4.9,0M426.59,265.8a2.45,2.45 0 1,0 4.9,0a2.45,2.45 0 1,0 -4.9,0M426.59,271.5a2.45,2.45 0 1,0 4.9,0a2.45,2.45 0 1,0 -4.9,0M426.59,277.2a2.45,2.45 0 1,0 4.9,0a2.45,2.45 0 1,0 -4.9,0M426.59,282.9a2.45,2.45 0 1,0 4.9,0a2.45,2.45 0 1,0 -4.9,0M426.59,288.6a2.45,2.45 0 1,0 4.9,0a2.45,2.45 0 1,0 -4.9,0M426.59,294.3a2.45,2.45 0 1,0 4.9,0a2.45,2.45 0 1,0 -4.9,0M426.59,300a2.45,2.45 0 1,0 4.9,0a2.45,2.45 0 1,0 -4.9,0M426.59,305.7a2.45,2.45 0 1,0 4.9,0a2.45,2.45 0 1,0 -4.9,0M426.59,311.4a2.45,2.45 0 1,0 4.9,0a2.45,2.45 0 1,0 -4.9,0M426.59,317.1a2.45,2.45 0 1,0 4.9,0a2.45,2.45 0 1,0 -4.9,0M426.59,322.8a2.45,2.45 0 1,0 4.9,0a2.45,2.45 0 1,0 -4.9,0M426.59,328.5a2.45,2.45 0 1,0 4.9,0a2.45,2.45 0 1,0 -4.9,0M426.59,334.2a2.45,2.45 0 1,0 4.9,0a2.45,2.45 0 1,0 -4.9,0M426.59,339.9a2.45,2.45 0 1,0 4.9,0a2.45,2.45 0 1,0 -4.9,0M426.59,345.6a2.45,2.45 0 1,0 4.9,0a2.45,2.45 0 1,0 -4.9,0M426.59,351.3a2.45,2.45 0 1,0 4.9,0a2.45,2.45 0 1,0 -4.9,0M426.59,357a2.45,2.45 0 1,0 4.9,0a2.45,2.45 0 1,0 -4.9,0M426.59,362.7a2.45,2.45 0 1,0 4.9,0a2.45,2.45 0 1,0 -4.9,0M426.59,368.4a2.45,2.45 0 1,0 4.9,0a2.45,2.45 0 1,0 -4.9,0M426.59,374.1a2.45,2.45 0 1,0 4.9,0a2.45,2.45 0 1,0 -4.9,0M426.59,379.8a2.45,2.45 0 1,0 4.9,0a2.45,2.45 0 1,0 -4.9,0M435.58,220.2a2.45,2.45 0 1,0 4.9,0a2.45,2.45 0 1,0 -4.9,0M435.58,225.9a2.45,2.45 0 1,0 4.9,0a2.45,2.45 0 1,0 -4.9,0M435.58,231.6a2.45,2.45 0 1,0 4.9,0a2.45,2.45 0 1,0 -4.9,0M435.58,237.3a2.45,2.45 0 1,0 4.9,0a2.45,2.45 0 1,0 -4.9,0M435.58,243a2.45,2.45 0 1,0 4.9,0a2.45,2.45 0 1,0 -4.9,0M435.58,248.7a2.45,2.45 0 1,0 4.9,0a2.45,2.45 0 1,0 -4.9,0M435.58,254.4a2.45,2.45 0 1,0 4.9,0a2.45,2.45 0 1,0 -4.9,0M435.58,260.1a2.45,2.45 0 1,0 4.9,0a2.45,2.45 0 1,0 -4.9,0M435.58,265.8a2.45,2.45 0 1,0 4.9,0a2.45,2.45 0 1,0 -4.9,0M435.58,271.5a2.45,2.45 0 1,0 4.9,0a2.45,2.45 0 1,0 -4.9,0M435.58,277.2a2.45,2.45 0 1,0 4.9,0a2.45,2.45 0 1,0 -4.9,0M435.58,282.9a2.45,2.45 0 1,0 4.9,0a2.45,2.45 0 1,0 -4.9,0M435.58,288.6a2.45,2.45 0 1,0 4.9,0a2.45,2.45 0 1,0 -4.9,0M435.58,294.3a2.45,2.45 0 1,0 4.9,0a2.45,2.45 0 1,0 -4.9,0M435.58,300a2.45,2.45 0 1,0 4.9,0a2.45,2.45 0 1,0 -4.9,0M435.58,305.7a2.45,2.45 0 1,0 4.9,0a2.45,2.45 0 1,0 -4.9,0M435.58,311.4a2.45,2.45 0 1,0 4.9,0a2.45,2.45 0 1,0 -4.9,0M435.58,317.1a2.45,2.45 0 1,0 4.9,0a2.45,2.45 0 1,0 -4.9,0M435.58,322.8a2.45,2.45 0 1,0 4.9,0a2.45,2.45 0 1,0 -4.9,0M435.58,328.5a2.45,2.45 0 1,0 4.9,0a2.45,2.45 0 1,0 -4.9,0M435.58,334.2a2.45,2.45 0 1,0 4.9,0a2.45,2.45 0 1,0 -4.9,0M435.58,339.9a2.45,2.45 0 1,0 4.9,0a2.45,2.45 0 1,0 -4.9,0M435.58,345.6a2.45,2.45 0 1,0 4.9,0a2.45,2.45 0 1,0 -4.9,0M435.58,351.3a2.45,2.45 0 1,0 4.9,0a2.45,2.45 0 1,0 -4.9,0M435.58,357a2.45,2.45 0 1,0 4.9,0a2.45,2.45 0 1,0 -4.9,0M435.58,362.7a2.45,2.45 0 1,0 4.9,0a2.45,2.45 0 1,0 -4.9,0M435.58,368.4a2.45,2.45 0 1,0 4.9,0a2.45,2.45 0 1,0 -4.9,0M435.58,374.1a2.45,2.45 0 1,0 4.9,0a2.45,2.45 0 1,0 -4.9,0M435.58,379.8a2.45,2.45 0 1,0 4.9,0a2.45,2.45 0 1,0 -4.9,0M444.56,220.2a2.45,2.45 0 1,0 4.9,0a2.45,2.45 0 1,0 -4.9,0M444.56,225.9a2.45,2.45 0 1,0 4.9,0a2.45,2.45 0 1,0 -4.9,0M444.56,231.6a2.45,2.45 0 1,0 4.9,0a2.45,2.45 0 1,0 -4.9,0M444.56,237.3a2.45,2.45 0 1,0 4.9,0a2.45,2.45 0 1,0 -4.9,0M444.56,243a2.45,2.45 0 1,0 4.9,0a2.45,2.45 0 1,0 -4.9,0M444.56,248.7a2.45,2.45 0 1,0 4.9,0a2.45,2.45 0 1,0 -4.9,0M444.56,254.4a2.45,2.45 0 1,0 4.9,0a2.45,2.45 0 1,0 -4.9,0M444.56,260.1a2.45,2.45 0 1,0 4.9,0a2.45,2.45 0 1,0 -4.9,0M444.56,265.8a2.45,2.45 0 1,0 4.9,0a2.45,2.45 0 1,0 -4.9,0M444.56,271.5a2.45,2.45 0 1,0 4.9,0a2.45,2.45 0 1,0 -4.9,0M444.56,277.2a2.45,2.45 0 1,0 4.9,0a2.45,2.45 0 1,0 -4.9,0M444.56,282.9a2.45,2.45 0 1,0 4.9,0a2.45,2.45 0 1,0 -4.9,0M444.56,288.6a2.45,2.45 0 1,0 4.9,0a2.45,2.45 0 1,0 -4.9,0M444.56,294.3a2.45,2.45 0 1,0 4.9,0a2.45,2.45 0 1,0 -4.9,0M444.56,300a2.45,2.45 0 1,0 4.9,0a2.45,2.45 0 1,0 -4.9,0M444.56,305.7a2.45,2.45 0 1,0 4.9,0a2.45,2.45 0 1,0 -4.9,0M444.56,311.4a2.45,2.45 0 1,0 4.9,0a2.45,2.45 0 1,0 -4.9,0M444.56,317.1a2.45,2.45 0 1,0 4.9,0a2.45,2.45 0 1,0 -4.9,0M444.56,322.8a2.45,2.45 0 1,0 4.9,0a2.45,2.45 0 1,0 -4.9,0M444.56,328.5a2.45,2.45 0 1,0 4.9,0a2.45,2.45 0 1,0 -4.9,0M444.56,334.2a2.45,2.45 0 1,0 4.9,0a2.45,2.45 0 1,0 -4.9,0M444.56,339.9a2.45,2.45 0 1,0 4.9,0a2.45,2.45 0 1,0 -4.9,0M444.56,345.6a2.45,2.45 0 1,0 4.9,0a2.45,2.45 0 1,0 -4.9,0M444.56,351.3a2.45,2.45 0 1,0 4.9,0a2.45,2.45 0 1,0 -4.9,0M444.56,357a2.45,2.45 0 1,0 4.9,0a2.45,2.45 0 1,0 -4.9,0M444.56,362.7a2.45,2.45 0 1,0 4.9,0a2.45,2.45 0 1,0 -4.9,0M444.56,368.4a2.45,2.45 0 1,0 4.9,0a2.45,2.45 0 1,0 -4.9,0M444.56,374.1a2.45,2.45 0 1,0 4.9,0a2.45,2.45 0 1,0 -4.9,0M444.56,379.8a2.45,2.45 0 1,0 4.9,0a2.45,2.45 0 1,0 -4.9,0M453.55,220.2a2.45,2.45 0 1,0 4.9,0a2.45,2.45 0 1,0 -4.9,0M453.55,225.9a2.45,2.45 0 1,0 4.9,0a2.45,2.45 0 1,0 -4.9,0M453.55,231.6a2.45,2.45 0 1,0 4.9,0a2.45,2.45 0 1,0 -4.9,0M453.55,237.3a2.45,2.45 0 1,0 4.9,0a2.45,2.45 0 1,0 -4.9,0M453.55,243a2.45,2.45 0 1,0 4.9,0a2.45,2.45 0 1,0 -4.9,0M453.55,248.7a2.45,2.45 0 1,0 4.9,0a2.45,2.45 0 1,0 -4.9,0M453.55,254.4a2.45,2.45 0 1,0 4.9,0a2.45,2.45 0 1,0 -4.9,0M453.55,260.1a2.45,2.45 0 1,0 4.9,0a2.45,2.45 0 1,0 -4.9,0M453.55,265.8a2.45,2.45 0 1,0 4.9,0a2.45,2.45 0 1,0 -4.9,0M453.55,271.5a2.45,2.45 0 1,0 4.9,0a2.45,2.45 0 1,0 -4.9,0M453.55,277.2a2.45,2.45 0 1,0 4.9,0a2.45,2.45 0 1,0 -4.9,0M453.55,282.9a2.45,2.45 0 1,0 4.9,0a2.45,2.45 0 1,0 -4.9,0M453.55,288.6a2.45,2.45 0 1,0 4.9,0a2.45,2.45 0 1,0 -4.9,0M453.55,294.3a2.45,2.45 0 1,0 4.9,0a2.45,2.45 0 1,0 -4.9,0M453.55,300a2.45,2.45 0 1,0 4.9,0a2.45,2.45 0 1,0 -4.9,0M453.55,305.7a2.45,2.45 0 1,0 4.9,0a2.45,2.45 0 1,0 -4.9,0M453.55,311.4a2.45,2.45 0 1,0 4.9,0a2.45,2.45 0 1,0 -4.9,0M453.55,317.1a2.45,2.45 0 1,0 4.9,0a2.45,2.45 0 1,0 -4.9,0M453.55,322.8a2.45,2.45 0 1,0 4.9,0a2.45,2.45 0 1,0 -4.9,0M453.55,328.5a2.45,2.45 0 1,0 4.9,0a2.45,2.45 0 1,0 -4.9,0M453.55,334.2a2.45,2.45 0 1,0 4.9,0a2.45,2.45 0 1,0 -4.9,0M453.55,339.9a2.45,2.45 0 1,0 4.9,0a2.45,2.45 0 1,0 -4.9,0M453.55,345.6a2.45,2.45 0 1,0 4.9,0a2.45,2.45 0 1,0 -4.9,0M453.55,351.3a2.45,2.45 0 1,0 4.9,0a2.45,2.45 0 1,0 -4.9,0M453.55,357a2.45,2.45 0 1,0 4.9,0a2.45,2.45 0 1,0 -4.9,0M453.55,362.7a2.45,2.45 0 1,0 4.9,0a2.45,2.45 0 1,0 -4.9,0M453.55,368.4a2.45,2.45 0 1,0 4.9,0a2.45,2.45 0 1,0 -4.9,0M453.55,374.1a2.45,2.45 0 1,0 4.9,0a2.45,2.45 0 1,0 -4.9,0M453.55,379.8a2.45,2.45 0 1,0 4.9,0a2.45,2.45 0 1,0 -4.9,0" fill="#e2e2e2"/>
<line x1="60.7" y1="305.7" x2="60.7" y2="379.8" stroke="#333" stroke-width="1.6"/>
<circle cx="60.7" cy="305.7" r="2.7" fill="#f6a0f4" stroke="#111" stroke-width="0.75"/>
<circle cx="60.7" cy="311.4" r="2.7" fill="#9c1c1f" stroke="#111" stroke-width="0.75"/>
<circle cx="60.7" cy="322.8" r="2.7" fill="#f08a8c" stroke="#111" stroke-width="0.75"/>
<circle cx="60.7" cy="328.5" r="2.7" fill="#a52ad4" stroke="#111" stroke-width="0.75"/>
<circle cx="60.7" cy="334.2" r="2.7" fill="#4da8e0" stroke="#111" stroke-width="0.75"/>
<circle cx="60.7" cy="339.9" r="2.7" fill="#4da8e0" stroke="#111" stroke-width="0.75"/>
<circle cx="60.7" cy="345.6" r="2.7" fill="#000000" stroke="#111" stroke-width="0.75"/>
<circle cx="60.7" cy="351.3" r="2.7" fill="#f08a8c" stroke="#111" stroke-width="0.75"/>
<circle cx="60.7" cy="357" r="2.7" fill="#1f6a2a" stroke="#111" stroke-width="0.75"/>
<circle cx="60.7" cy="362.7" r="2.7" fill="#f6a0f4" stroke="#111" stroke-width="0.75"/>
<circle cx="60.7" cy="368.4" r="2.7" fill="#f6a0f4" stroke="#111" stroke-width="0.75"/>
<circle cx="60.7" cy="374.1" r="2.7" fill="#f6a0f4" stroke="#111" stroke-width="0.75"/>
<circle cx="60.7" cy="379.8" r="2.7" fill="#000000" stroke="#111" stroke-width="0.75"/>
<line x1="69.68" y1="328.5" x2="69.68" y2="379.8" stroke="#333" stroke-width="1.6"/>
<circle cx="69.68" cy="328.5" r="2.7" fill="#a52ad4" stroke="#111" stroke-width="0.75"/>
<circle cx="69.68" cy="334.2" r="2.7" fill="#4da8e0" stroke="#111" stroke-width="0.75"/>
<circle cx="69.68" cy="339.9" r="2.7" fill="#4da8e0" stroke="#111" stroke-width="0.75"/>
<circle cx="69.68" cy="345.6" r="2.7" fill="#000000" stroke="#111" stroke-width="0.75"/>
<circle cx="69.68" cy="351.3" r="2.7" fill="#f08a8c" stroke="#111" stroke-width="0.75"/>
<circle cx="69.68" cy="357" r="2.7" fill="#1f6a2a" stroke="#111" stroke-width="0.75"/>
<circle cx="69.68" cy="362.7" r="2.7" fill="#f6a0f4" stroke="#111" stroke-width="0.75"/>
<circle cx="69.68" cy="368.4" r="2.7" fill="#f6a0f4" stroke="#111" stroke-width="0.75"/>
<circle cx="69.68" cy="374.1" r="2.7" fill="#f6a0f4" stroke="#111" stroke-width="0.75"/>
<circle cx="69.68" cy="379.8" r="2.7" fill="#000000" stroke="#111" stroke-width="0.75"/>
<line x1="78.67" y1="300" x2="78.67" y2="379.8" stroke="#333" stroke-width="1.6"/>
<circle cx="78.67" cy="300" r="2.7" fill="#1c1ca3" stroke="#111" stroke-width="0.75"/>
<circle cx="78.67" cy="317.1" r="2.7" fill="#f08a8c" stroke="#111" stroke-width="0.75"/>
<circle cx="78.67" cy="322.8" r="2.7" fill="#f08a8c" stroke="#111" stroke-width="0.75"/>
<circle cx="78.67" cy="328.5" r="2.7" fill="#a52ad4" stroke="#111" stroke-width="0.75"/>
<circle cx="78.67" cy="334.2" r="2.7" fill="#4da8e0" stroke="#111" stroke-width="0.75"/>
<circle cx="78.67" cy="339.9" r="2.7" fill="#4da8e0" stroke="#111" stroke-width="0.75"/>
<circle cx="78.67" cy="345.6" r="2.7" fill="#000000" stroke="#111" stroke-width="0.75"/>
<circle cx="78.67" cy="351.3" r="2.7" fill="#f08a8c" stroke="#111" stroke-width="0.75"/>
<circle cx="78.67" cy="357" r="2.7" fill="#1f6a2a" stroke="#111" stroke-width="0.75"/>
<circle cx="78.67" cy="362.7" r="2.7" fill="#f6a0f4" stroke="#111" stroke-width="0.75"/>
<circle cx="78.67" cy="368.4" r="2.7" fill="#f6a0f4" stroke="#111" stroke-width="0.75"/>
<circle cx="78.67" cy="374.1" r="2.7" fill="#f6a0f4" stroke="#111" stroke-width="0.75"/>
<circle cx="78.67" cy="379.8" r="2.7" fill="#000000" stroke="#111" stroke-width="0.75"/>
<line x1="87.65" y1="334.2" x2="87.65" y2="379.8" stroke="#333" stroke-width="1.6"/>
<circle cx="87.65" cy="334.2" r="2.7" fill="#4da8e0" stroke="#111" stroke-width="0.75"/>
<circle cx="87.65" cy="339.9" r="2.7" fill="#4da8e0" stroke="#111" stroke-width="0.75"/>
<circle cx="87.65" cy="345.6" r="2.7" fill="#000000" stroke="#111" stroke-width="0.75"/>
<circle cx="87.65" cy="351.3" r="2.7" fill="#f08a8c" stroke="#111" stroke-width="0.75"/>
<circle cx="87.65" cy="357" r="2.7" fill="#1f6a2a" stroke="#111" stroke-width="0.75"/>
<circle cx="87.65" cy="362.7" r="2.7" fill="#f6a0f4" stroke="#111" stroke-width="0.75"/>
<circle cx="87.65" cy="368.4" r="2.7" fill="#f6a0f4" stroke="#111" stroke-width="0.75"/>
<circle cx="87.65" cy="374.1" r="2.7" fill="#f6a0f4" stroke="#111" stroke-width="0.75"/>
<circle cx="87.65" cy="379.8" r="2.7" fill="#000000" stroke="#111" stroke-width="0.75"/>
<line x1="96.64" y1="322.8" x2="96.64" y2="379.8" stroke="#333" stroke-width="1.6"/>
<circle cx="96.64" cy="322.8" r="2.7" fill="#f08a8c" stroke="#111" stroke-width="0.75"/>
<circle cx="96.64" cy="328.5" r="2.7" fill="#a52ad4" stroke="#111" stroke-width="0.75"/>
<circle cx="96.64" cy="334.2" r="2.7" fill="#4da8e0" stroke="#111" stroke-width="0.75"/>
<circle cx="96.64" cy="339.9" r="2.7" fill="#4da8e0" stroke="#111" stroke-width="0.75"/>
<circle cx="96.64" cy="345.6" r="2.7" fill="#000000" stroke="#111" stroke-width="0.75"/>
<circle cx="96.64" cy="351.3" r="2.7" fill="#f08a8c" stroke="#111" stroke-width="0.75"/>
<circle cx="96.64" cy="357" r="2.7" fill="#1f6a2a" stroke="#111" stroke-width="0.75"/>
<circle cx="96.64" cy="362.7" r="2.7" fill="#f6a0f4" stroke="#111" stroke-width="0.75"/>
<circle cx="96.64" cy="368.4" r="2.7" fill="#f6a0f4" stroke="#111" stroke-width="0.75"/>
<circle cx="96.64" cy="374.1" r="2.7" fill="#f6a0f4" stroke="#111" stroke-width="0.75"/>
<circle cx="96.64" cy="379.8" r="2.7" fill="#000000" stroke="#111" stroke-width="0.75"/>
<line x1="105.62" y1="300" x2="105.62" y2="379.8" stroke="#333" stroke-width="1.6"/>
<circle cx="105.62" cy="300" r="2.7" fill="#1c1ca3" stroke="#111" stroke-width="0.75"/>
<circle cx="105.62" cy="317.1" r="2.7" fill="#f08a8c" stroke="#111" stroke-width="0.75"/>
<circle cx="105.62" cy="322.8" r="2.7" fill="#f08a8c" stroke="#111" stroke-width="0.75"/>
<circle cx="105.62" cy="334.2" r="2.7" fill="#4da8e0" stroke="#111" stroke-width="0.75"/>
<circle cx="105.62" cy="339.9" r="2.7" fill="#4da8e0" stroke="#111" stroke-width="0.75"/>
<circle cx="105.62" cy="345.6" r="2.7" fill="#000000" stroke="#111" stroke-width="0.75"/>
<circle cx="105.62" cy="351.3" r="2.7" fill="#f08a8c" stroke="#111" stroke-width="0.75"/>
<circle cx="105.62" cy="357" r="2.7" fill="#1f6a2a" stroke="#111" stroke-width="0.75"/>
<circle cx="105.62" cy="362.7" r="2.7" fill="#f6a0f4" stroke="#111" stroke-width="0.75"/>
<circle cx="105.62" cy="368.4" r="2.7" fill="#f6a0f4" stroke="#111" stroke-width="0.75"/>
<circle cx="105.62" cy="374.1" r="2.7" fill="#f6a0f4" stroke="#111" stroke-width="0.75"/>
<circle cx="105.62" cy="379.8" r="2.7" fill="#000000" stroke="#111" stroke-width="0.75"/>
<line x1="114.6" y1="322.8" x2="114.6" y2="379.8" stroke="#333" stroke-width="1.6"/>
<circle cx="114.6" cy="322.8" r="2.7" fill="#f08a8c" stroke="#111" stroke-width="0.75"/>
<circle cx="114.6" cy="334.2" r="2.7" fill="#4da8e0" stroke="#111" stroke-width="0.75"/>
<circle cx="114.6" cy="339.9" r="2.7" fill="#4da8e0" stroke="#111" stroke-width="0.75"/>
<circle cx="114.6" cy="345.6" r="2.7" fill="#000000" stroke="#111" stroke-width="0.75"/>
<circle cx="114.6" cy="351.3" r="2.7" fill="#f08a8c" stroke="#111" stroke-width="0.75"/>
<circle cx="114.6" cy="357" r="2.7" fill="#1f6a2a" stroke="#111" stroke-width="0.75"/>
<circle cx="114.6" cy="362.7" r="2.7" fill="#f6a0f4" stroke="#111" stroke-width="0.75"/>
<circle cx="114.6" cy="368.4" r="2.7" fill="#f6a0f4" stroke="#111" stroke-width="0.75"/>
<circle cx="114.6" cy="374.1" r="2.7" fill="#f6a0f4" stroke="#111" stroke-width="0.75"/>
<circle cx="114.6" cy="379.8" r="2.7" fill="#000000" stroke="#111" stroke-width="0.75"/>
<line x1="123.59" y1="317.1" x2="123.59" y2="379.8" stroke="#333" stroke-width="1.6"/>
<circle cx="123.59" cy="317.1" r="2.7" fill="#f08a8c" stroke="#111" stroke-width="0.75"/>
<circle cx="123.59" cy="322.8" r="2.7" fill="#f08a8c" stroke="#111" stroke-width="0.75"/>
<circle cx="123.59" cy="328.5" r="2.7" fill="#a52ad4" stroke="#111" stroke-width="0.75"/>
<circle cx="123.59" cy="334.2" r="2.7" fill="#4da8e0" stroke="#111" stroke-width="0.75"/>
<circle cx="123.59" cy="339.9" r="2.7" fill="#4da8e0" stroke="#111" stroke-width="0.75"/>
<circle cx="123.59" cy="345.6" r="2.7" fill="#000000" stroke="#111" stroke-width="0.75"/>
<circle cx="123.59" cy="351.3" r="2.7" fill="#f08a8c" stroke="#111" stroke-width="0.75"/>
<circle cx="123.59" cy="357" r="2.7" fill="#1f6a2a" stroke="#111" stroke-width="0.75"/>
<circle cx="123.59" cy="362.7" r="2.7" fill="#f6a0f4" stroke="#111" stroke-width="0.75"/>
<circle cx="123.59" cy="368.4" r="2.7" fill="#f6a0f4" stroke="#111" stroke-width="0.75"/>
<circle cx="123.59" cy="374.1" r="2.7" fill="#f6a0f4" stroke="#111" stroke-width="0.75"/>
<circle cx="123.59" cy="379.8" r="2.7" fill="#000000" stroke="#111" stroke-width="0.75"/>
<line x1="132.57" y1="311.4" x2="132.57" y2="379.8" stroke="#333" stroke-width="1.6"/>
<circle cx="132.57" cy="311.4" r="2.7" fill="#9c1c1f" stroke="#111" stroke-width="0.75"/>
<circle cx="132.57" cy="322.8" r="2.7" fill="#f08a8c" stroke="#111" stroke-width="0.75"/>
<circle cx="132.57" cy="328.5" r="2.7" fill="#a52ad4" stroke="#111" stroke-width="0.75"/>
<circle cx="132.57" cy="334.2" r="2.7" fill="#4da8e0" stroke="#111" stroke-width="0.75"/>
<circle cx="132.57" cy="339.9" r="2.7" fill="#4da8e0" stroke="#111" stroke-width="0.75"/>
<circle cx="132.57" cy="345.6" r="2.7" fill="#000000" stroke="#111" stroke-width="0.75"/>
<circle cx="132.57" cy="351.3" r="2.7" fill="#f08a8c" stroke="#111" stroke-width="0.75"/>
<circle cx="132.57" cy="357" r="2.7" fill="#1f6a2a" stroke="#111" stroke-width="0.75"/>
<circle cx="132.57" cy="362.7" r="2.7" fill="#f6a0f4" stroke="#111" stroke-width="0.75"/>
<circle cx="132.57" cy="368.4" r="2.7" fill="#f6a0f4" stroke="#111" stroke-width="0.75"/>
<circle cx="132.57" cy="374.1" r="2.7" fill="#f6a0f4" stroke="#111" stroke-width="0.75"/>
<circle cx="132.57" cy="379.8" r="2.7" fill="#000000" stroke="#111" stroke-width="0.75"/>
<line x1="141.56" y1="294.3" x2="141.56" y2="379.8" stroke="#333" stroke-width="1.6"/>
<circle cx="141.56" cy="294.3" r="2.7" fill="#f6a0f4" stroke="#111" stroke-width="0.75"/>
<circle cx="141.56" cy="322.8" r="2.7" fill="#f08a8c" stroke="#111" stroke-width="0.75"/>
<circle cx="141.56" cy="328.5" r="2.7" fill="#a52ad4" stroke="#111" stroke-width="0.75"/>
<circle cx="141.56" cy="334.2" r="2.7" fill="#4da8e0" stroke="#111" stroke-width="0.75"/>
<circle cx="141.56" cy="339.9" r="2.7" fill="#4da8e0" stroke="#111" stroke-width="0.75"/>
<circle cx="141.56" cy="345.6" r="2.7" fill="#000000" stroke="#111" stroke-width="0.75"/>
<circle cx="141.56" cy="351.3" r="2.7" fill="#f08a8c" stroke="#111" stroke-width="0.75"/>
<circle cx="141.56" cy="357" r="2.7" fill="#1f6a2a" stroke="#111" stroke-width="0.75"/>
<circle cx="141.56" cy="362.7" r="2.7" fill="#f6a0f4" stroke="#111" stroke-width="0.75"/>
<circle cx="141.56" cy="368.4" r="2.7" fill="#f6a0f4" stroke="#111" stroke-width="0.75"/>
<circle cx="141.56" cy="374.1" r="2.7" fill="#f6a0f4" stroke="#111" stroke-width="0.75"/>
<circle cx="141.56" cy="379.8" r="2.7" fill="#000000" stroke="#111" stroke-width="0.75"/>
<line x1="150.54" y1="288.6" x2="150.54" y2="379.8" stroke="#333" stroke-width="1.6"/>
<circle cx="150.54" cy="288.6" r="2.7" fill="#1f6a2a" stroke="#111" stroke-width="0.75"/>
<circle cx="150.54" cy="317.1" r="2.7" fill="#f08a8c" stroke="#111" stroke-width="0.75"/>
<circle cx="150.54" cy="322.8" r="2.7" fill="#f08a8c" stroke="#111" stroke-width="0.75"/>
<circle cx="150.54" cy="328.5" r="2.7" fill="#a52ad4" stroke="#111" stroke-width="0.75"/>
<circle cx="150.54" cy="334.2" r="2.7" fill="#4da8e0" stroke="#111" stroke-width="0.75"/>
<circle cx="150.54" cy="339.9" r="2.7" fill="#4da8e0" stroke="#111" stroke-width="0.75"/>
<circle cx="150.54" cy="345.6" r="2.7" fill="#000000" stroke="#111" stroke-width="0.75"/>
<circle cx="150.54" cy="351.3" r="2.7" fill="#f08a8c" stroke="#111" stroke-width="0.75"/>
<circle cx="150.54" cy="357" r="2.7" fill="#1f6a2a" stroke="#111" stroke-width="0.75"/>
<circle cx="150.54" cy="362.7" r="2.7" fill="#f6a0f4" stroke="#111" stroke-width="0.75"/>
<circle cx="150.54" cy="368.4" r="2.7" fill="#f6a0f4" stroke="#111" stroke-width="0.75"/>
<circle cx="150.54" cy="374.1" r="2.7" fill="#f6a0f4" stroke="#111" stroke-width="0.75"/>
<circle cx="150.54" cy="379.8" r="2.7" fill="#000000" stroke="#111" stroke-width="0.75"/>
<line x1="159.52" y1="317.1" x2="159.52" y2="379.8" stroke="#333" stroke-width="1.6"/>
<circle cx="159.52" cy="317.1" r="2.7" fill="#f08a8c" stroke="#111" stroke-width="0.75"/>
<circle cx="159.52" cy="328.5" r="2.7" fill="#a52ad4" stroke="#111" stroke-width="0.75"/>
<circle cx="159.52" cy="334.2" r="2.7" fill="#4da8e0" stroke="#111" stroke-width="0.75"/>
<circle cx="159.52" cy="339.9" r="2.7" fill="#4da8e0" stroke="#111" stroke-width="0.75"/>
<circle cx="159.52" cy="345.6" r="2.7" fill="#000000" stroke="#111" stroke-width="0.75"/>
<circle cx="159.52" cy="351.3" r="2.7" fill="#f08a8c" stroke="#111" stroke-width="0.75"/>
<circle cx="159.52" cy="357" r="2.7" fill="#1f6a2a" stroke="#111" stroke-width="0.75"/>
<circle cx="159.52" cy="362.7" r="2.7" fill="#f6a0f4" stroke="#111" stroke-width="0.75"/>
<circle cx="159.52" cy="368.4" r="2.7" fill="#f6a0f4" stroke="#111" stroke-width="0.75"/>
<circle cx="159.52" cy="374.1" r="2.7" fill="#f6a0f4" stroke="#111" stroke-width="0.75"/>
<circle cx="159.52" cy="379.8" r="2.7" fill="#000000" stroke="#111" stroke-width="0.75"/>
<line x1="168.51" y1="271.5" x2="168.51" y2="379.8" stroke="#333" stroke-width="1.6"/>
<circle cx="168.51" cy="271.5" r="2.7" fill="#eca878" stroke="#111" stroke-width="0.75"/>
<circle cx="168.51" cy="305.7" r="2.7" fill="#f6a0f4" stroke="#111" stroke-width="0.75"/>
<circle cx="168.51" cy="311.4" r="2.7" fill="#9c1c1f" stroke="#111" stroke-width="0.75"/>
<circle cx="168.51" cy="322.8" r="2.7" fill="#f08a8c" stroke="#111" stroke-width="0.75"/>
<circle cx="168.51" cy="328.5" r="2.7" fill="#a52ad4" stroke="#111" stroke-width="0.75"/>
<circle cx="168.51" cy="334.2" r="2.7" fill="#4da8e0" stroke="#111" stroke-width="0.75"/>
<circle cx="168.51" cy="339.9" r="2.7" fill="#4da8e0" stroke="#111" stroke-width="0.75"/>
<circle cx="168.51" cy="345.6" r="2.7" fill="#000000" stroke="#111" stroke-width="0.75"/>
<circle cx="168.51" cy="351.3" r="2.7" fill="#f08a8c" stroke="#111" stroke-width="0.75"/>
<circle cx="168.51" cy="357" r="2.7" fill="#1f6a2a" stroke="#111" stroke-width="0.75"/>
<circle cx="168.51" cy="362.7" r="2.7" fill="#f6a0f4" stroke="#111" stroke-width="0.75"/>
<circle cx="168.51" cy="368.4" r="2.7" fill="#f6a0f4" stroke="#111" stroke-width="0.75"/>
<circle cx="168.51" cy="374.1" r="2.7" fill="#f6a0f4" stroke="#111" stroke-width="0.75"/>
<circle cx="168.51" cy="379.8" r="2.7" fill="#000000" stroke="#111" stroke-width="0.75"/>
<line x1="177.49" y1="305.7" x2="177.49" y2="379.8" stroke="#333" stroke-width="1.6"/>
<circle cx="177.49" cy="305.7" r="2.7" fill="#f6a0f4" stroke="#111" stroke-width="0.75"/>
<circle cx="177.49" cy="311.4" r="2.7" fill="#9c1c1f" stroke="#111" stroke-width="0.75"/>
<circle cx="177.49" cy="328.5" r="2.7" fill="#a52ad4" stroke="#111" stroke-width="0.75"/>
<circle cx="177.49" cy="334.2" r="2.7" fill="#4da8e0" stroke="#111" stroke-width="0.75"/>
<circle cx="177.49" cy="339.9" r="2.7" fill="#4da8e0" stroke="#111" stroke-width="0.75"/>
<circle cx="177.49" cy="345.6" r="2.7" fill="#000000" stroke="#111" stroke-width="0.75"/>
<circle cx="177.49" cy="351.3" r="2.7" fill="#f08a8c" stroke="#111" stroke-width="0.75"/>
<circle cx="177.49" cy="357" r="2.7" fill="#1f6a2a" stroke="#111" stroke-width="0.75"/>
<circle cx="177.49" cy="362.7" r="2.7" fill="#f6a0f4" stroke="#111" stroke-width="0.75"/>
<circle cx="177.49" cy="368.4" r="2.7" fill="#f6a0f4" stroke="#111" stroke-width="0.75"/>
<circle cx="177.49" cy="374.1" r="2.7" fill="#f6a0f4" stroke="#111" stroke-width="0.75"/>
<circle cx="177.49" cy="379.8" r="2.7" fill="#000000" stroke="#111" stroke-width="0.75"/>
<line x1="186.48" y1="294.3" x2="186.48" y2="379.8" stroke="#333" stroke-width="1.6"/>
<circle cx="186.48" cy="294.3" r="2.7" fill="#f6a0f4" stroke="#111" stroke-width="0.75"/>
<circle cx="186.48" cy="317.1" r="2.7" fill="#f08a8c" stroke="#111" stroke-width="0.75"/>
<circle cx="186.48" cy="322.8" r="2.7" fill="#f08a8c" stroke="#111" stroke-width="0.75"/>
<circle cx="186.48" cy="328.5" r="2.7" fill="#a52ad4" stroke="#111" stroke-width="0.75"/>
<circle cx="186.48" cy="334.2" r="2.7" fill="#4da8e0" stroke="#111" stroke-width="0.75"/>
<circle cx="186.48" cy="339.9" r="2.7" fill="#4da8e0" stroke="#111" stroke-width="0.75"/>
<circle cx="186.48" cy="345.6" r="2.7" fill="#000000" stroke="#111" stroke-width="0.75"/>
<circle cx="186.48" cy="351.3" r="2.7" fill="#f08a8c" stroke="#111" stroke-width="0.75"/>
<circle cx="186.48" cy="357" r="2.7" fill="#1f6a2a" stroke="#111" stroke-width="0.75"/>
<circle cx="186.48" cy="362.7" r="2.7" fill="#f6a0f4" stroke="#111" stroke-width="0.75"/>
<circle cx="186.48" cy="368.4" r="2.7" fill="#f6a0f4" stroke="#111" stroke-width="0.75"/>
<circle cx="186.48" cy="374.1" r="2.7" fill="#f6a0f4" stroke="#111" stroke-width="0.75"/>
<circle cx="186.48" cy="379.8" r="2.7" fill="#000000" stroke="#111" stroke-width="0.75"/>
<line x1="195.46" y1="254.4" x2="195.46" y2="379.8" stroke="#333" stroke-width="1.6"/>
<circle cx="195.46" cy="254.4" r="2.7" fill="#1c1ca3" stroke="#111" stroke-width="0.75"/>
<circle cx="195.46" cy="300" r="2.7" fill="#1c1ca3" stroke="#111" stroke-width="0.75"/>
<circle cx="195.46" cy="317.1" r="2.7" fill="#f08a8c" stroke="#111" stroke-width="0.75"/>
<circle cx="195.46" cy="322.8" r="2.7" fill="#f08a8c" stroke="#111" stroke-width="0.75"/>
<circle cx="195.46" cy="328.5" r="2.7" fill="#a52ad4" stroke="#111" stroke-width="0.75"/>
<circle cx="195.46" cy="334.2" r="2.7" fill="#4da8e0" stroke="#111" stroke-width="0.75"/>
<circle cx="195.46" cy="339.9" r="2.7" fill="#4da8e0" stroke="#111" stroke-width="0.75"/>
<circle cx="195.46" cy="345.6" r="2.7" fill="#000000" stroke="#111" stroke-width="0.75"/>
<circle cx="195.46" cy="351.3" r="2.7" fill="#f08a8c" stroke="#111" stroke-width="0.75"/>
<circle cx="195.46" cy="357" r="2.7" fill="#1f6a2a" stroke="#111" stroke-width="0.75"/>
<circle cx="195.46" cy="362.7" r="2.7" fill="#f6a0f4" stroke="#111" stroke-width="0.75"/>
<circle cx="195.46" cy="368.4" r="2.7" fill="#f6a0f4" stroke="#111" stroke-width="0.75"/>
<circle cx="195.46" cy="374.1" r="2.7" fill="#f6a0f4" stroke="#111" stroke-width="0.75"/>
<circle cx="195.46" cy="379.8" r="2.7" fill="#000000" stroke="#111" stroke-width="0.75"/>
<line x1="204.44" y1="294.3" x2="204.44" y2="379.8" stroke="#333" stroke-width="1.6"/>
<circle cx="204.44" cy="294.3" r="2.7" fill="#f6a0f4" stroke="#111" stroke-width="0.75"/>
<circle cx="204.44" cy="300" r="2.7" fill="#1c1ca3" stroke="#111" stroke-width="0.75"/>
<circle cx="204.44" cy="317.1" r="2.7" fill="#f08a8c" stroke="#111" stroke-width="0.75"/>
<circle cx="204.44" cy="322.8" r="2.7" fill="#f08a8c" stroke="#111" stroke-width="0.75"/>
<circle cx="204.44" cy="328.5" r="2.7" fill="#a52ad4" stroke="#111" stroke-width="0.75"/>
<circle cx="204.44" cy="334.2" r="2.7" fill="#4da8e0" stroke="#111" stroke-width="0.75"/>
<circle cx="204.44" cy="339.9" r="2.7" fill="#4da8e0" stroke="#111" stroke-width="0.75"/>
<circle cx="204.44" cy="345.6" r="2.7" fill="#000000" stroke="#111" stroke-width="0.75"/>
<circle cx="204.44" cy="351.3" r="2.7" fill="#f08a8c" stroke="#111" stroke-width="0.75"/>
<circle cx="204.44" cy="357" r="2.7" fill="#1f6a2a" stroke="#111" stroke-width="0.75"/>
<circle cx="204.44" cy="362.7" r="2.7" fill="#f6a0f4" stroke="#111" stroke-width="0.75"/>
<circle cx="204.44" cy="368.4" r="2.7" fill="#f6a0f4" stroke="#111" stroke-width="0.75"/>
<circle cx="204.44" cy="374.1" r="2.7" fill="#f6a0f4" stroke="#111" stroke-width="0.75"/>
<circle cx="204.44" cy="379.8" r="2.7" fill="#000000" stroke="#111" stroke-width="0.75"/>
<line x1="213.43" y1="305.7" x2="213.43" y2="379.8" stroke="#333" stroke-width="1.6"/>
<circle cx="213.43" cy="305.7" r="2.7" fill="#f6a0f4" stroke="#111" stroke-width="0.75"/>
<circle cx="213.43" cy="311.4" r="2.7" fill="#9c1c1f" stroke="#111" stroke-width="0.75"/>
<circle cx="213.43" cy="317.1" r="2.7" fill="#f08a8c" stroke="#111" stroke-width="0.75"/>
<circle cx="213.43" cy="322.8" r="2.7" fill="#f08a8c" stroke="#111" stroke-width="0.75"/>
<circle cx="213.43" cy="328.5" r="2.7" fill="#a52ad4" stroke="#111" stroke-width="0.75"/>
<circle cx="213.43" cy="334.2" r="2.7" fill="#4da8e0" stroke="#111" stroke-width="0.75"/>
<circle cx="213.43" cy="339.9" r="2.7" fill="#4da8e0" stroke="#111" stroke-width="0.75"/>
<circle cx="213.43" cy="345.6" r="2.7" fill="#000000" stroke="#111" stroke-width="0.75"/>
<circle cx="213.43" cy="351.3" r="2.7" fill="#f08a8c" stroke="#111" stroke-width="0.75"/>
<circle cx="213.43" cy="357" r="2.7" fill="#1f6a2a" stroke="#111" stroke-width="0.75"/>
<circle cx="213.43" cy="362.7" r="2.7" fill="#f6a0f4" stroke="#111" stroke-width="0.75"/>
<circle cx="213.43" cy="368.4" r="2.7" fill="#f6a0f4" stroke="#111" stroke-width="0.75"/>
<circle cx="213.43" cy="374.1" r="2.7" fill="#f6a0f4" stroke="#111" stroke-width="0.75"/>
<circle cx="213.43" cy="379.8" r="2.7" fill="#000000" stroke="#111" stroke-width="0.75"/>
<line x1="222.41" y1="300" x2="222.41" y2="379.8" stroke="#333" stroke-width="1.6"/>
<circle cx="222.41" cy="300" r="2.7" fill="#1c1ca3" stroke="#111" stroke-width="0.75"/>
<circle cx="222.41" cy="317.1" r="2.7" fill="#f08a8c" stroke="#111" stroke-width="0.75"/>
<circle cx="222.41" cy="322.8" r="2.7" fill="#f08a8c" stroke="#111" stroke-width="0.75"/>
<circle cx="222.41" cy="328.5" r="2.7" fill="#a52ad4" stroke="#111" stroke-width="0.75"/>
<circle cx="222.41" cy="334.2" r="2.7" fill="#4da8e0" stroke="#111" stroke-width="0.75"/>
<circle cx="222.41" cy="339.9" r="2.7" fill="#4da8e0" stroke="#111" stroke-width="0.75"/>
<circle cx="222.41" cy="351.3" r="2.7" fill="#f08a8c" stroke="#111" stroke-width="0.75"/>
<circle cx="222.41" cy="357" r="2.7" fill="#1f6a2a" stroke="#111" stroke-width="0.75"/>
<circle cx="222.41" cy="362.7" r="2.7" fill="#f6a0f4" stroke="#111" stroke-width="0.75"/>
<circle cx="222.41" cy="368.4" r="2.7" fill="#f6a0f4" stroke="#111" stroke-width="0.75"/>
<circle cx="222.41" cy="374.1" r="2.7" fill="#f6a0f4" stroke="#111" stroke-width="0.75"/>
<circle cx="222.41" cy="379.8" r="2.7" fill="#000000" stroke="#111" stroke-width="0.75"/>
<line x1="231.4" y1="328.5" x2="231.4" y2="379.8" stroke="#333" stroke-width="1.6"/>
<circle cx="231.4" cy="328.5" r="2.7" fill="#a52ad4" stroke="#111" stroke-width="0.75"/>
<circle cx="231.4" cy="334.2" r="2.7" fill="#4da8e0" stroke="#111" stroke-width="0.75"/>
<circle cx="231.4" cy="345.6" r="2.7" fill="#000000" stroke="#111" stroke-width="0.75"/>
<circle cx="231.4" cy="351.3" r="2.7" fill="#f08a8c" stroke="#111" stroke-width="0.75"/>
<circle cx="231.4" cy="357" r="2.7" fill="#1f6a2a" stroke="#111" stroke-width="0.75"/>
<circle cx="231.4" cy="362.7" r="2.7" fill="#f6a0f4" stroke="#111" stroke-width="0.75"/>
<circle cx="231.4" cy="368.4" r="2.7" fill="#f6a0f4" stroke="#111" stroke-width="0.75"/>
<circle cx="231.4" cy="374.1" r="2.7" fill="#f6a0f4" stroke="#111" stroke-width="0.75"/>
<circle cx="231.4" cy="379.8" r="2.7" fill="#000000" stroke="#111" stroke-width="0.75"/>
<line x1="240.38" y1="300" x2="240.38" y2="379.8" stroke="#333" stroke-width="1.6"/>
<circle cx="240.38" cy="300" r="2.7" fill="#1c1ca3" stroke="#111" stroke-width="0.75"/>
<circle cx="240.38" cy="317.1" r="2.7" fill="#f08a8c" stroke="#111" stroke-width="0.75"/>
<circle cx="240.38" cy="328.5" r="2.7" fill="#a52ad4" stroke="#111" stroke-width="0.75"/>
<circle cx="240.38" cy="339.9" r="2.7" fill="#4da8e0" stroke="#111" stroke-width="0.75"/>
<circle cx="240.38" cy="345.6" r="2.7" fill="#000000" stroke="#111" stroke-width="0.75"/>
<circle cx="240.38" cy="351.3" r="2.7" fill="#f08a8c" stroke="#111" stroke-width="0.75"/>
<circle cx="240.38" cy="357" r="2.7" fill="#1f6a2a" stroke="#111" stroke-width="0.75"/>
<circle cx="240.38" cy="362.7" r="2.7" fill="#f6a0f4" stroke="#111" stroke-width="0.75"/>
<circle cx="240.38" cy="368.4" r="2.7" fill="#f6a0f4" stroke="#111" stroke-width="0.75"/>
<circle cx="240.38" cy="374.1" r="2.7" fill="#f6a0f4" stroke="#111" stroke-width="0.75"/>
<circle cx="240.38" cy="379.8" r="2.7" fill="#000000" stroke="#111" stroke-width="0.75"/>
<line x1="249.36" y1="294.3" x2="249.36" y2="379.8" stroke="#333" stroke-width="1.6"/>
<circle cx="249.36" cy="294.3" r="2.7" fill="#f6a0f4" stroke="#111" stroke-width="0.75"/>
<circle cx="249.36" cy="334.2" r="2.7" fill="#4da8e0" stroke="#111" stroke-width="0.75"/>
<circle cx="249.36" cy="339.9" r="2.7" fill="#4da8e0" stroke="#111" stroke-width="0.75"/>
<circle cx="249.36" cy="345.6" r="2.7" fill="#000000" stroke="#111" stroke-width="0.75"/>
<circle cx="249.36" cy="351.3" r="2.7" fill="#f08a8c" stroke="#111" stroke-width="0.75"/>
<circle cx="249.36" cy="357" r="2.7" fill="#1f6a2a" stroke="#111" stroke-width="0.75"/>
<circle cx="249.36" cy="362.7" r="2.7" fill="#f6a0f4" stroke="#111" stroke-width="0.75"/>
<circle cx="249.36" cy="368.4" r="2.7" fill="#f6a0f4" stroke="#111" stroke-width="0.75"/>
<circle cx="249.36" cy="374.1" r="2.7" fill="#f6a0f4" stroke="#111" stroke-width="0.75"/>
<circle cx="249.36" cy="379.8" r="2.7" fill="#000000" stroke="#111" stroke-width="0.75"/>
<line x1="258.35" y1="243" x2="258.35" y2="379.8" stroke="#333" stroke-width="1.6"/>
<circle cx="258.35" cy="243" r="2.7" fill="#000000" stroke="#111" stroke-width="0.75"/>
<circle cx="258.35" cy="265.8" r="2.7" fill="#c0561e" stroke="#111" stroke-width="0.75"/>
<circle cx="258.35" cy="282.9" r="2.7" fill="#9c1c1f" stroke="#111" stroke-width="0.75"/>
<circle cx="258.35" cy="311.4" r="2.7" fill="#9c1c1f" stroke="#111" stroke-width="0.75"/>
<circle cx="258.35" cy="334.2" r="2.7" fill="#4da8e0" stroke="#111" stroke-width="0.75"/>
<circle cx="258.35" cy="339.9" r="2.7" fill="#4da8e0" stroke="#111" stroke-width="0.75"/>
<circle cx="258.35" cy="345.6" r="2.7" fill="#000000" stroke="#111" stroke-width="0.75"/>
<circle cx="258.35" cy="351.3" r="2.7" fill="#f08a8c" stroke="#111" stroke-width="0.75"/>
<circle cx="258.35" cy="357" r="2.7" fill="#1f6a2a" stroke="#111" stroke-width="0.75"/>
<circle cx="258.35" cy="362.7" r="2.7" fill="#f6a0f4" stroke="#111" stroke-width="0.75"/>
<circle cx="258.35" cy="368.4" r="2.7" fill="#f6a0f4" stroke="#111" stroke-width="0.75"/>
<circle cx="258.35" cy="374.1" r="2.7" fill="#f6a0f4" stroke="#111" stroke-width="0.75"/>
<circle cx="258.35" cy="379.8" r="2.7" fill="#000000" stroke="#111" stroke-width="0.75"/>
<line x1="267.33" y1="300" x2="267.33" y2="379.8" stroke="#333" stroke-width="1.6"/>
<circle cx="267.33" cy="300" r="2.7" fill="#1c1ca3" stroke="#111" stroke-width="0.75"/>
<circle cx="267.33" cy="317.1" r="2.7" fill="#f08a8c" stroke="#111" stroke-width="0.75"/>
<circle cx="267.33" cy="334.2" r="2.7" fill="#4da8e0" stroke="#111" stroke-width="0.75"/>
<circle cx="267.33" cy="339.9" r="2.7" fill="#4da8e0" stroke="#111" stroke-width="0.75"/>
<circle cx="267.33" cy="345.6" r="2.7" fill="#000000" stroke="#111" stroke-width="0.75"/>
<circle cx="267.33" cy="351.3" r="2.7" fill="#f08a8c" stroke="#111" stroke-width="0.75"/>
<circle cx="267.33" cy="357" r="2.7" fill="#1f6a2a" stroke="#111" stroke-width="0.75"/>
<circle cx="267.33" cy="362.7" r="2.7" fill="#f6a0f4" stroke="#111" stroke-width="0.75"/>
<circle cx="267.33" cy="368.4" r="2.7" fill="#f6a0f4" stroke="#111" stroke-width="0.75"/>
<circle cx="267.33" cy="374.1" r="2.7" fill="#f6a0f4" stroke="#111" stroke-width="0.75"/>
<circle cx="267.33" cy="379.8" r="2.7" fill="#000000" stroke="#111" stroke-width="0.75"/>
<line x1="276.32" y1="277.2" x2="276.32" y2="379.8" stroke="#333" stroke-width="1.6"/>
<circle cx="276.32" cy="277.2" r="2.7" fill="#000000" stroke="#111" stroke-width="0.75"/>
<circle cx="276.32" cy="322.8" r="2.7" fill="#f08a8c" stroke="#111" stroke-width="0.75"/>
<circle cx="276.32" cy="334.2" r="2.7" fill="#4da8e0" stroke="#111" stroke-width="0.75"/>
<circle cx="276.32" cy="339.9" r="2.7" fill="#4da8e0" stroke="#111" stroke-width="0.75"/>
<circle cx="276.32" cy="345.6" r="2.7" fill="#000000" stroke="#111" stroke-width="0.75"/>
<circle cx="276.32" cy="351.3" r="2.7" fill="#f08a8c" stroke="#111" stroke-width="0.75"/>
<circle cx="276.32" cy="357" r="2.7" fill="#1f6a2a" stroke="#111" stroke-width="0.75"/>
<circle cx="276.32" cy="362.7" r="2.7" fill="#f6a0f4" stroke="#111" stroke-width="0.75"/>
<circle cx="276.32" cy="368.4" r="2.7" fill="#f6a0f4" stroke="#111" stroke-width="0.75"/>
<circle cx="276.32" cy="374.1" r="2.7" fill="#f6a0f4" stroke="#111" stroke-width="0.75"/>
<circle cx="276.32" cy="379.8" r="2.7" fill="#000000" stroke="#111" stroke-width="0.75"/>
<line x1="285.3" y1="294.3" x2="285.3" y2="379.8" stroke="#333" stroke-width="1.6"/>
<circle cx="285.3" cy="294.3" r="2.7" fill="#f6a0f4" stroke="#111" stroke-width="0.75"/>
<circle cx="285.3" cy="322.8" r="2.7" fill="#f08a8c" stroke="#111" stroke-width="0.75"/>
<circle cx="285.3" cy="334.2" r="2.7" fill="#4da8e0" stroke="#111" stroke-width="0.75"/>
<circle cx="285.3" cy="339.9" r="2.7" fill="#4da8e0" stroke="#111" stroke-width="0.75"/>
<circle cx="285.3" cy="345.6" r="2.7" fill="#000000" stroke="#111" stroke-width="0.75"/>
<circle cx="285.3" cy="351.3" r="2.7" fill="#f08a8c" stroke="#111" stroke-width="0.75"/>
<circle cx="285.3" cy="357" r="2.7" fill="#1f6a2a" stroke="#111" stroke-width="0.75"/>
<circle cx="285.3" cy="362.7" r="2.7" fill="#f6a0f4" stroke="#111" stroke-width="0.75"/>
<circle cx="285.3" cy="368.4" r="2.7" fill="#f6a0f4" stroke="#111" stroke-width="0.75"/>
<circle cx="285.3" cy="374.1" r="2.7" fill="#f6a0f4" stroke="#111" stroke-width="0.75"/>
<circle cx="285.3" cy="379.8" r="2.7" fill="#000000" stroke="#111" stroke-width="0.75"/>
<line x1="294.28" y1="277.2" x2="294.28" y2="379.8" stroke="#333" stroke-width="1.6"/>
<circle cx="294.28" cy="277.2" r="2.7" fill="#000000" stroke="#111" stroke-width="0.75"/>
<circle cx="294.28" cy="294.3" r="2.7" fill="#f6a0f4" stroke="#111" stroke-width="0.75"/>
<circle cx="294.28" cy="322.8" r="2.7" fill="#f08a8c" stroke="#111" stroke-width="0.75"/>
<circle cx="294.28" cy="334.2" r="2.7" fill="#4da8e0" stroke="#111" stroke-width="0.75"/>
<circle cx="294.28" cy="339.9" r="2.7" fill="#4da8e0" stroke="#111" stroke-width="0.75"/>
<circle cx="294.28" cy="345.6" r="2.7" fill="#000000" stroke="#111" stroke-width="0.75"/>
<circle cx="294.28" cy="351.3" r="2.7" fill="#f08a8c" stroke="#111" stroke-width="0.75"/>
<circle cx="294.28" cy="357" r="2.7" fill="#1f6a2a" stroke="#111" stroke-width="0.75"/>
<circle cx="294.28" cy="362.7" r="2.7" fill="#f6a0f4" stroke="#111" stroke-width="0.75"/>
<circle cx="294.28" cy="368.4" r="2.7" fill="#f6a0f4" stroke="#111" stroke-width="0.75"/>
<circle cx="294.28" cy="374.1" r="2.7" fill="#f6a0f4" stroke="#111" stroke-width="0.75"/>
<circle cx="294.28" cy="379.8" r="2.7" fill="#000000" stroke="#111" stroke-width="0.75"/>
<line x1="303.27" y1="243" x2="303.27" y2="379.8" stroke="#333" stroke-width="1.6"/>
<circle cx="303.27" cy="243" r="2.7" fill="#000000" stroke="#111" stroke-width="0.75"/>
<circle cx="303.27" cy="265.8" r="2.7" fill="#c0561e" stroke="#111" stroke-width="0.75"/>
<circle cx="303.27" cy="282.9" r="2.7" fill="#9c1c1f" stroke="#111" stroke-width="0.75"/>
<circle cx="303.27" cy="311.4" r="2.7" fill="#9c1c1f" stroke="#111" stroke-width="0.75"/>
<circle cx="303.27" cy="322.8" r="2.7" fill="#f08a8c" stroke="#111" stroke-width="0.75"/>
<circle cx="303.27" cy="334.2" r="2.7" fill="#4da8e0" stroke="#111" stroke-width="0.75"/>
<circle cx="303.27" cy="339.9" r="2.7" fill="#4da8e0" stroke="#111" stroke-width="0.75"/>
<circle cx="303.27" cy="345.6" r="2.7" fill="#000000" stroke="#111" stroke-width="0.75"/>
<circle cx="303.27" cy="351.3" r="2.7" fill="#f08a8c" stroke="#111" stroke-width="0.75"/>
<circle cx="303.27" cy="357" r="2.7" fill="#1f6a2a" stroke="#111" stroke-width="0.75"/>
<circle cx="303.27" cy="362.7" r="2.7" fill="#f6a0f4" stroke="#111" stroke-width="0.75"/>
<circle cx="303.27" cy="368.4" r="2.7" fill="#f6a0f4" stroke="#111" stroke-width="0.75"/>
<circle cx="303.27" cy="374.1" r="2.7" fill="#f6a0f4" stroke="#111" stroke-width="0.75"/>
<circle cx="303.27" cy="379.8" r="2.7" fill="#000000" stroke="#111" stroke-width="0.75"/>
<line x1="312.25" y1="282.9" x2="312.25" y2="379.8" stroke="#333" stroke-width="1.6"/>
<circle cx="312.25" cy="282.9" r="2.7" fill="#9c1c1f" stroke="#111" stroke-width="0.75"/>
<circle cx="312.25" cy="328.5" r="2.7" fill="#a52ad4" stroke="#111" stroke-width="0.75"/>
<circle cx="312.25" cy="334.2" r="2.7" fill="#4da8e0" stroke="#111" stroke-width="0.75"/>
<circle cx="312.25" cy="339.9" r="2.7" fill="#4da8e0" stroke="#111" stroke-width="0.75"/>
<circle cx="312.25" cy="345.6" r="2.7" fill="#000000" stroke="#111" stroke-width="0.75"/>
<circle cx="312.25" cy="351.3" r="2.7" fill="#f08a8c" stroke="#111" stroke-width="0.75"/>
<circle cx="312.25" cy="357" r="2.7" fill="#1f6a2a" stroke="#111" stroke-width="0.75"/>
<circle cx="312.25" cy="362.7" r="2.7" fill="#f6a0f4" stroke="#111" stroke-width="0.75"/>
<circle cx="312.25" cy="368.4" r="2.7" fill="#f6a0f4" stroke="#111" stroke-width="0.75"/>
<circle cx="312.25" cy="374.1" r="2.7" fill="#f6a0f4" stroke="#111" stroke-width="0.75"/>
<circle cx="312.25" cy="379.8" r="2.7" fill="#000000" stroke="#111" stroke-width="0.75"/>
<line x1="321.24" y1="288.6" x2="321.24" y2="379.8" stroke="#333" stroke-width="1.6"/>
<circle cx="321.24" cy="288.6" r="2.7" fill="#1f6a2a" stroke="#111" stroke-width="0.75"/>
<circle cx="321.24" cy="328.5" r="2.7" fill="#a52ad4" stroke="#111" stroke-width="0.75"/>
<circle cx="321.24" cy="334.2" r="2.7" fill="#4da8e0" stroke="#111" stroke-width="0.75"/>
<circle cx="321.24" cy="339.9" r="2.7" fill="#4da8e0" stroke="#111" stroke-width="0.75"/>
<circle cx="321.24" cy="345.6" r="2.7" fill="#000000" stroke="#111" stroke-width="0.75"/>
<circle cx="321.24" cy="351.3" r="2.7" fill="#f08a8c" stroke="#111" stroke-width="0.75"/>
<circle cx="321.24" cy="357" r="2.7" fill="#1f6a2a" stroke="#111" stroke-width="0.75"/>
<circle cx="321.24" cy="362.7" r="2.7" fill="#f6a0f4" stroke="#111" stroke-width="0.75"/>
<circle cx="321.24" cy="368.4" r="2.7" fill="#f6a0f4" stroke="#111" stroke-width="0.75"/>
<circle cx="321.24" cy="374.1" r="2.7" fill="#f6a0f4" stroke="#111" stroke-width="0.75"/>
<circle cx="321.24" cy="379.8" r="2.7" fill="#000000" stroke="#111" stroke-width="0.75"/>
<line x1="330.22" y1="248.7" x2="330.22" y2="379.8" stroke="#333" stroke-width="1.6"/>
<circle cx="330.22" cy="248.7" r="2.7" fill="#9c1c1f" stroke="#111" stroke-width="0.75"/>
<circle cx="330.22" cy="317.1" r="2.7" fill="#f08a8c" stroke="#111" stroke-width="0.75"/>
<circle cx="330.22" cy="328.5" r="2.7" fill="#a52ad4" stroke="#111" stroke-width="0.75"/>
<circle cx="330.22" cy="334.2" r="2.7" fill="#4da8e0" stroke="#111" stroke-width="0.75"/>
<circle cx="330.22" cy="339.9" r="2.7" fill="#4da8e0" stroke="#111" stroke-width="0.75"/>
<circle cx="330.22" cy="345.6" r="2.7" fill="#000000" stroke="#111" stroke-width="0.75"/>
<circle cx="330.22" cy="351.3" r="2.7" fill="#f08a8c" stroke="#111" stroke-width="0.75"/>
<circle cx="330.22" cy="357" r="2.7" fill="#1f6a2a" stroke="#111" stroke-width="0.75"/>
<circle cx="330.22" cy="362.7" r="2.7" fill="#f6a0f4" stroke="#111" stroke-width="0.75"/>
<circle cx="330.22" cy="368.4" r="2.7" fill="#f6a0f4" stroke="#111" stroke-width="0.75"/>
<circle cx="330.22" cy="374.1" r="2.7" fill="#f6a0f4" stroke="#111" stroke-width="0.75"/>
<circle cx="330.22" cy="379.8" r="2.7" fill="#000000" stroke="#111" stroke-width="0.75"/>
<line x1="339.2" y1="225.9" x2="339.2" y2="379.8" stroke="#333" stroke-width="1.6"/>
<circle cx="339.2" cy="225.9" r="2.7" fill="#a2eaa0" stroke="#111" stroke-width="0.75"/>
<circle cx="339.2" cy="322.8" r="2.7" fill="#f08a8c" stroke="#111" stroke-width="0.75"/>
<circle cx="339.2" cy="328.5" r="2.7" fill="#a52ad4" stroke="#111" stroke-width="0.75"/>
<circle cx="339.2" cy="334.2" r="2.7" fill="#4da8e0" stroke="#111" stroke-width="0.75"/>
<circle cx="339.2" cy="339.9" r="2.7" fill="#4da8e0" stroke="#111" stroke-width="0.75"/>
<circle cx="339.2" cy="345.6" r="2.7" fill="#000000" stroke="#111" stroke-width="0.75"/>
<circle cx="339.2" cy="351.3" r="2.7" fill="#f08a8c" stroke="#111" stroke-width="0.75"/>
<circle cx="339.2" cy="357" r="2.7" fill="#1f6a2a" stroke="#111" stroke-width="0.75"/>
<circle cx="339.2" cy="362.7" r="2.7" fill="#f6a0f4" stroke="#111" stroke-width="0.75"/>
<circle cx="339.2" cy="368.4" r="2.7" fill="#f6a0f4" stroke="#111" stroke-width="0.75"/>
<circle cx="339.2" cy="374.1" r="2.7" fill="#f6a0f4" stroke="#111" stroke-width="0.75"/>
<circle cx="339.2" cy="379.8" r="2.7" fill="#000000" stroke="#111" stroke-width="0.75"/>
<line x1="348.19" y1="260.1" x2="348.19" y2="379.8" stroke="#333" stroke-width="1.6"/>
<circle cx="348.19" cy="260.1" r="2.7" fill="#000000" stroke="#111" stroke-width="0.75"/>
<circle cx="348.19" cy="322.8" r="2.7" fill="#f08a8c" stroke="#111" stroke-width="0.75"/>
<circle cx="348.19" cy="328.5" r="2.7" fill="#a52ad4" stroke="#111" stroke-width="0.75"/>
<circle cx="348.19" cy="334.2" r="2.7" fill="#4da8e0" stroke="#111" stroke-width="0.75"/>
<circle cx="348.19" cy="339.9" r="2.7" fill="#4da8e0" stroke="#111" stroke-width="0.75"/>
<circle cx="348.19" cy="345.6" r="2.7" fill="#000000" stroke="#111" stroke-width="0.75"/>
<circle cx="348.19" cy="351.3" r="2.7" fill="#f08a8c" stroke="#111" stroke-width="0.75"/>
<circle cx="348.19" cy="357" r="2.7" fill="#1f6a2a" stroke="#111" stroke-width="0.75"/>
<circle cx="348.19" cy="362.7" r="2.7" fill="#f6a0f4" stroke="#111" stroke-width="0.75"/>
<circle cx="348.19" cy="368.4" r="2.7" fill="#f6a0f4" stroke="#111" stroke-width="0.75"/>
<circle cx="348.19" cy="374.1" r="2.7" fill="#f6a0f4" stroke="#111" stroke-width="0.75"/>
<circle cx="348.19" cy="379.8" r="2.7" fill="#000000" stroke="#111" stroke-width="0.75"/>
<line x1="357.17" y1="277.2" x2="357.17" y2="379.8" stroke="#333" stroke-width="1.6"/>
<circle cx="357.17" cy="277.2" r="2.7" fill="#000000" stroke="#111" stroke-width="0.75"/>
<circle cx="357.17" cy="322.8" r="2.7" fill="#f08a8c" stroke="#111" stroke-width="0.75"/>
<circle cx="357.17" cy="328.5" r="2.7" fill="#a52ad4" stroke="#111" stroke-width="0.75"/>
<circle cx="357.17" cy="334.2" r="2.7" fill="#4da8e0" stroke="#111" stroke-width="0.75"/>
<circle cx="357.17" cy="339.9" r="2.7" fill="#4da8e0" stroke="#111" stroke-width="0.75"/>
<circle cx="357.17" cy="345.6" r="2.7" fill="#000000" stroke="#111" stroke-width="0.75"/>
<circle cx="357.17" cy="351.3" r="2.7" fill="#f08a8c" stroke="#111" stroke-width="0.75"/>
<circle cx="357.17" cy="357" r="2.7" fill="#1f6a2a" stroke="#111" stroke-width="0.75"/>
<circle cx="357.17" cy="362.7" r="2.7" fill="#f6a0f4" stroke="#111" stroke-width="0.75"/>
<circle cx="357.17" cy="368.4" r="2.7" fill="#f6a0f4" stroke="#111" stroke-width="0.75"/>
<circle cx="357.17" cy="374.1" r="2.7" fill="#f6a0f4" stroke="#111" stroke-width="0.75"/>
<circle cx="357.17" cy="379.8" r="2.7" fill="#000000" stroke="#111" stroke-width="0.75"/>
<line x1="366.16" y1="282.9" x2="366.16" y2="379.8" stroke="#333" stroke-width="1.6"/>
<circle cx="366.16" cy="282.9" r="2.7" fill="#9c1c1f" stroke="#111" stroke-width="0.75"/>
<circle cx="366.16" cy="288.6" r="2.7" fill="#1f6a2a" stroke="#111" stroke-width="0.75"/>
<circle cx="366.16" cy="322.8" r="2.7" fill="#f08a8c" stroke="#111" stroke-width="0.75"/>
<circle cx="366.16" cy="328.5" r="2.7" fill="#a52ad4" stroke="#111" stroke-width="0.75"/>
<circle cx="366.16" cy="334.2" r="2.7" fill="#4da8e0" stroke="#111" stroke-width="0.75"/>
<circle cx="366.16" cy="339.9" r="2.7" fill="#4da8e0" stroke="#111" stroke-width="0.75"/>
<circle cx="366.16" cy="345.6" r="2.7" fill="#000000" stroke="#111" stroke-width="0.75"/>
<circle cx="366.16" cy="351.3" r="2.7" fill="#f08a8c" stroke="#111" stroke-width="0.75"/>
<circle cx="366.16" cy="357" r="2.7" fill="#1f6a2a" stroke="#111" stroke-width="0.75"/>
<circle cx="366.16" cy="362.7" r="2.7" fill="#f6a0f4" stroke="#111" stroke-width="0.75"/>
<circle cx="366.16" cy="368.4" r="2.7" fill="#f6a0f4" stroke="#111" stroke-width="0.75"/>
<circle cx="366.16" cy="374.1" r="2.7" fill="#f6a0f4" stroke="#111" stroke-width="0.75"/>
<circle cx="366.16" cy="379.8" r="2.7" fill="#000000" stroke="#111" stroke-width="0.75"/>
<line x1="375.14" y1="231.6" x2="375.14" y2="379.8" stroke="#333" stroke-width="1.6"/>
<circle cx="375.14" cy="231.6" r="2.7" fill="#b6c62c" stroke="#111" stroke-width="0.75"/>
<circle cx="375.14" cy="294.3" r="2.7" fill="#f6a0f4" stroke="#111" stroke-width="0.75"/>
<circle cx="375.14" cy="322.8" r="2.7" fill="#f08a8c" stroke="#111" stroke-width="0.75"/>
<circle cx="375.14" cy="328.5" r="2.7" fill="#a52ad4" stroke="#111" stroke-width="0.75"/>
<circle cx="375.14" cy="334.2" r="2.7" fill="#4da8e0" stroke="#111" stroke-width="0.75"/>
<circle cx="375.14" cy="339.9" r="2.7" fill="#4da8e0" stroke="#111" stroke-width="0.75"/>
<circle cx="375.14" cy="345.6" r="2.7" fill="#000000" stroke="#111" stroke-width="0.75"/>
<circle cx="375.14" cy="351.3" r="2.7" fill="#f08a8c" stroke="#111" stroke-width="0.75"/>
<circle cx="375.14" cy="357" r="2.7" fill="#1f6a2a" stroke="#111" stroke-width="0.75"/>
<circle cx="375.14" cy="362.7" r="2.7" fill="#f6a0f4" stroke="#111" stroke-width="0.75"/>
<circle cx="375.14" cy="368.4" r="2.7" fill="#f6a0f4" stroke="#111" stroke-width="0.75"/>
<circle cx="375.14" cy="374.1" r="2.7" fill="#f6a0f4" stroke="#111" stroke-width="0.75"/>
<circle cx="375.14" cy="379.8" r="2.7" fill="#000000" stroke="#111" stroke-width="0.75"/>
<line x1="384.12" y1="271.5" x2="384.12" y2="379.8" stroke="#333" stroke-width="1.6"/>
<circle cx="384.12" cy="271.5" r="2.7" fill="#eca878" stroke="#111" stroke-width="0.75"/>
<circle cx="384.12" cy="294.3" r="2.7" fill="#f6a0f4" stroke="#111" stroke-width="0.75"/>
<circle cx="384.12" cy="322.8" r="2.7" fill="#f08a8c" stroke="#111" stroke-width="0.75"/>
<circle cx="384.12" cy="328.5" r="2.7" fill="#a52ad4" stroke="#111" stroke-width="0.75"/>
<circle cx="384.12" cy="334.2" r="2.7" fill="#4da8e0" stroke="#111" stroke-width="0.75"/>
<circle cx="384.12" cy="339.9" r="2.7" fill="#4da8e0" stroke="#111" stroke-width="0.75"/>
<circle cx="384.12" cy="345.6" r="2.7" fill="#000000" stroke="#111" stroke-width="0.75"/>
<circle cx="384.12" cy="351.3" r="2.7" fill="#f08a8c" stroke="#111" stroke-width="0.75"/>
<circle cx="384.12" cy="357" r="2.7" fill="#1f6a2a" stroke="#111" stroke-width="0.75"/>
<circle cx="384.12" cy="362.7" r="2.7" fill="#f6a0f4" stroke="#111" stroke-width="0.75"/>
<circle cx="384.12" cy="368.4" r="2.7" fill="#f6a0f4" stroke="#111" stroke-width="0.75"/>
<circle cx="384.12" cy="374.1" r="2.7" fill="#f6a0f4" stroke="#111" stroke-width="0.75"/>
<circle cx="384.12" cy="379.8" r="2.7" fill="#000000" stroke="#111" stroke-width="0.75"/>
<line x1="393.11" y1="265.8" x2="393.11" y2="379.8" stroke="#333" stroke-width="1.6"/>
<circle cx="393.11" cy="265.8" r="2.7" fill="#c0561e" stroke="#111" stroke-width="0.75"/>
<circle cx="393.11" cy="311.4" r="2.7" fill="#9c1c1f" stroke="#111" stroke-width="0.75"/>
<circle cx="393.11" cy="322.8" r="2.7" fill="#f08a8c" stroke="#111" stroke-width="0.75"/>
<circle cx="393.11" cy="328.5" r="2.7" fill="#a52ad4" stroke="#111" stroke-width="0.75"/>
<circle cx="393.11" cy="334.2" r="2.7" fill="#4da8e0" stroke="#111" stroke-width="0.75"/>
<circle cx="393.11" cy="339.9" r="2.7" fill="#4da8e0" stroke="#111" stroke-width="0.75"/>
<circle cx="393.11" cy="345.6" r="2.7" fill="#000000" stroke="#111" stroke-width="0.75"/>
<circle cx="393.11" cy="351.3" r="2.7" fill="#f08a8c" stroke="#111" stroke-width="0.75"/>
<circle cx="393.11" cy="357" r="2.7" fill="#1f6a2a" stroke="#111" stroke-width="0.75"/>
<circle cx="393.11" cy="362.7" r="2.7" fill="#f6a0f4" stroke="#111" stroke-width="0.75"/>
<circle cx="393.11" cy="368.4" r="2.7" fill="#f6a0f4" stroke="#111" stroke-width="0.75"/>
<circle cx="393.11" cy="374.1" r="2.7" fill="#f6a0f4" stroke="#111" stroke-width="0.75"/>
<circle cx="393.11" cy="379.8" r="2.7" fill="#000000" stroke="#111" stroke-width="0.75"/>
<line x1="402.09" y1="294.3" x2="402.09" y2="379.8" stroke="#333" stroke-width="1.6"/>
<circle cx="402.09" cy="294.3" r="2.7" fill="#f6a0f4" stroke="#111" stroke-width="0.75"/>
<circle cx="402.09" cy="311.4" r="2.7" fill="#9c1c1f" stroke="#111" stroke-width="0.75"/>
<circle cx="402.09" cy="322.8" r="2.7" fill="#f08a8c" stroke="#111" stroke-width="0.75"/>
<circle cx="402.09" cy="328.5" r="2.7" fill="#a52ad4" stroke="#111" stroke-width="0.75"/>
<circle cx="402.09" cy="334.2" r="2.7" fill="#4da8e0" stroke="#111" stroke-width="0.75"/>
<circle cx="402.09" cy="339.9" r="2.7" fill="#4da8e0" stroke="#111" stroke-width="0.75"/>
<circle cx="402.09" cy="345.6" r="2.7" fill="#000000" stroke="#111" stroke-width="0.75"/>
<circle cx="402.09" cy="351.3" r="2.7" fill="#f08a8c" stroke="#111" stroke-width="0.75"/>
<circle cx="402.09" cy="357" r="2.7" fill="#1f6a2a" stroke="#111" stroke-width="0.75"/>
<circle cx="402.09" cy="362.7" r="2.7" fill="#f6a0f4" stroke="#111" stroke-width="0.75"/>
<circle cx="402.09" cy="368.4" r="2.7" fill="#f6a0f4" stroke="#111" stroke-width="0.75"/>
<circle cx="402.09" cy="374.1" r="2.7" fill="#f6a0f4" stroke="#111" stroke-width="0.75"/>
<circle cx="402.09" cy="379.8" r="2.7" fill="#000000" stroke="#111" stroke-width="0.75"/>
<line x1="411.08" y1="277.2" x2="411.08" y2="379.8" stroke="#333" stroke-width="1.6"/>
<circle cx="411.08" cy="277.2" r="2.7" fill="#000000" stroke="#111" stroke-width="0.75"/>
<circle cx="411.08" cy="288.6" r="2.7" fill="#1f6a2a" stroke="#111" stroke-width="0.75"/>
<circle cx="411.08" cy="294.3" r="2.7" fill="#f6a0f4" stroke="#111" stroke-width="0.75"/>
<circle cx="411.08" cy="305.7" r="2.7" fill="#f6a0f4" stroke="#111" stroke-width="0.75"/>
<circle cx="411.08" cy="311.4" r="2.7" fill="#9c1c1f" stroke="#111" stroke-width="0.75"/>
<circle cx="411.08" cy="322.8" r="2.7" fill="#f08a8c" stroke="#111" stroke-width="0.75"/>
<circle cx="411.08" cy="328.5" r="2.7" fill="#a52ad4" stroke="#111" stroke-width="0.75"/>
<circle cx="411.08" cy="334.2" r="2.7" fill="#4da8e0" stroke="#111" stroke-width="0.75"/>
<circle cx="411.08" cy="339.9" r="2.7" fill="#4da8e0" stroke="#111" stroke-width="0.75"/>
<circle cx="411.08" cy="345.6" r="2.7" fill="#000000" stroke="#111" stroke-width="0.75"/>
<circle cx="411.08" cy="351.3" r="2.7" fill="#f08a8c" stroke="#111" stroke-width="0.75"/>
<circle cx="411.08" cy="357" r="2.7" fill="#1f6a2a" stroke="#111" stroke-width="0.75"/>
<circle cx="411.08" cy="362.7" r="2.7" fill="#f6a0f4" stroke="#111" stroke-width="0.75"/>
<circle cx="411.08" cy="368.4" r="2.7" fill="#f6a0f4" stroke="#111" stroke-width="0.75"/>
<circle cx="411.08" cy="374.1" r="2.7" fill="#f6a0f4" stroke="#111" stroke-width="0.75"/>
<circle cx="411.08" cy="379.8" r="2.7" fill="#000000" stroke="#111" stroke-width="0.75"/>
<line x1="420.06" y1="237.3" x2="420.06" y2="379.8" stroke="#333" stroke-width="1.6"/>
<circle cx="420.06" cy="237.3" r="2.7" fill="#f08a8c" stroke="#111" stroke-width="0.75"/>
<circle cx="420.06" cy="317.1" r="2.7" fill="#f08a8c" stroke="#111" stroke-width="0.75"/>
<circle cx="420.06" cy="322.8" r="2.7" fill="#f08a8c" stroke="#111" stroke-width="0.75"/>
<circle cx="420.06" cy="328.5" r="2.7" fill="#a52ad4" stroke="#111" stroke-width="0.75"/>
<circle cx="420.06" cy="334.2" r="2.7" fill="#4da8e0" stroke="#111" stroke-width="0.75"/>
<circle cx="420.06" cy="339.9" r="2.7" fill="#4da8e0" stroke="#111" stroke-width="0.75"/>
<circle cx="420.06" cy="345.6" r="2.7" fill="#000000" stroke="#111" stroke-width="0.75"/>
<circle cx="420.06" cy="351.3" r="2.7" fill="#f08a8c" stroke="#111" stroke-width="0.75"/>
<circle cx="420.06" cy="357" r="2.7" fill="#1f6a2a" stroke="#111" stroke-width="0.75"/>
<circle cx="420.06" cy="362.7" r="2.7" fill="#f6a0f4" stroke="#111" stroke-width="0.75"/>
<circle cx="420.06" cy="368.4" r="2.7" fill="#f6a0f4" stroke="#111" stroke-width="0.75"/>
<circle cx="420.06" cy="374.1" r="2.7" fill="#f6a0f4" stroke="#111" stroke-width="0.75"/>
<circle cx="420.06" cy="379.8" r="2.7" fill="#000000" stroke="#111" stroke-width="0.75"/>
<line x1="429.04" y1="248.7" x2="429.04" y2="379.8" stroke="#333" stroke-width="1.6"/>
<circle cx="429.04" cy="248.7" r="2.7" fill="#9c1c1f" stroke="#111" stroke-width="0.75"/>
<circle cx="429.04" cy="260.1" r="2.7" fill="#000000" stroke="#111" stroke-width="0.75"/>
<circle cx="429.04" cy="317.1" r="2.7" fill="#f08a8c" stroke="#111" stroke-width="0.75"/>
<circle cx="429.04" cy="322.8" r="2.7" fill="#f08a8c" stroke="#111" stroke-width="0.75"/>
<circle cx="429.04" cy="328.5" r="2.7" fill="#a52ad4" stroke="#111" stroke-width="0.75"/>
<circle cx="429.04" cy="334.2" r="2.7" fill="#4da8e0" stroke="#111" stroke-width="0.75"/>
<circle cx="429.04" cy="339.9" r="2.7" fill="#4da8e0" stroke="#111" stroke-width="0.75"/>
<circle cx="429.04" cy="345.6" r="2.7" fill="#000000" stroke="#111" stroke-width="0.75"/>
<circle cx="429.04" cy="351.3" r="2.7" fill="#f08a8c" stroke="#111" stroke-width="0.75"/>
<circle cx="429.04" cy="357" r="2.7" fill="#1f6a2a" stroke="#111" stroke-width="0.75"/>
<circle cx="429.04" cy="362.7" r="2.7" fill="#f6a0f4" stroke="#111" stroke-width="0.75"/>
<circle cx="429.04" cy="368.4" r="2.7" fill="#f6a0f4" stroke="#111" stroke-width="0.75"/>
<circle cx="429.04" cy="374.1" r="2.7" fill="#f6a0f4" stroke="#111" stroke-width="0.75"/>
<circle cx="429.04" cy="379.8" r="2.7" fill="#000000" stroke="#111" stroke-width="0.75"/>
<line x1="438.03" y1="260.1" x2="438.03" y2="379.8" stroke="#333" stroke-width="1.6"/>
<circle cx="438.03" cy="260.1" r="2.7" fill="#000000" stroke="#111" stroke-width="0.75"/>
<circle cx="438.03" cy="294.3" r="2.7" fill="#f6a0f4" stroke="#111" stroke-width="0.75"/>
<circle cx="438.03" cy="317.1" r="2.7" fill="#f08a8c" stroke="#111" stroke-width="0.75"/>
<circle cx="438.03" cy="322.8" r="2.7" fill="#f08a8c" stroke="#111" stroke-width="0.75"/>
<circle cx="438.03" cy="328.5" r="2.7" fill="#a52ad4" stroke="#111" stroke-width="0.75"/>
<circle cx="438.03" cy="334.2" r="2.7" fill="#4da8e0" stroke="#111" stroke-width="0.75"/>
<circle cx="438.03" cy="339.9" r="2.7" fill="#4da8e0" stroke="#111" stroke-width="0.75"/>
<circle cx="438.03" cy="345.6" r="2.7" fill="#000000" stroke="#111" stroke-width="0.75"/>
<circle cx="438.03" cy="351.3" r="2.7" fill="#f08a8c" stroke="#111" stroke-width="0.75"/>
<circle cx="438.03" cy="357" r="2.7" fill="#1f6a2a" stroke="#111" stroke-width="0.75"/>
<circle cx="438.03" cy="362.7" r="2.7" fill="#f6a0f4" stroke="#111" stroke-width="0.75"/>
<circle cx="438.03" cy="368.4" r="2.7" fill="#f6a0f4" stroke="#111" stroke-width="0.75"/>
<circle cx="438.03" cy="374.1" r="2.7" fill="#f6a0f4" stroke="#111" stroke-width="0.75"/>
<circle cx="438.03" cy="379.8" r="2.7" fill="#000000" stroke="#111" stroke-width="0.75"/>
<line x1="447.01" y1="220.2" x2="447.01" y2="379.8" stroke="#333" stroke-width="1.6"/>
<circle cx="447.01" cy="220.2" r="2.7" fill="#eef05a" stroke="#111" stroke-width="0.75"/>
<circle cx="447.01" cy="300" r="2.7" fill="#1c1ca3" stroke="#111" stroke-width="0.75"/>
<circle cx="447.01" cy="317.1" r="2.7" fill="#f08a8c" stroke="#111" stroke-width="0.75"/>
<circle cx="447.01" cy="322.8" r="2.7" fill="#f08a8c" stroke="#111" stroke-width="0.75"/>
<circle cx="447.01" cy="328.5" r="2.7" fill="#a52ad4" stroke="#111" stroke-width="0.75"/>
<circle cx="447.01" cy="334.2" r="2.7" fill="#4da8e0" stroke="#111" stroke-width="0.75"/>
<circle cx="447.01" cy="339.9" r="2.7" fill="#4da8e0" stroke="#111" stroke-width="0.75"/>
<circle cx="447.01" cy="345.6" r="2.7" fill="#000000" stroke="#111" stroke-width="0.75"/>
<circle cx="447.01" cy="351.3" r="2.7" fill="#f08a8c" stroke="#111" stroke-width="0.75"/>
<circle cx="447.01" cy="357" r="2.7" fill="#1f6a2a" stroke="#111" stroke-width="0.75"/>
<circle cx="447.01" cy="362.7" r="2.7" fill="#f6a0f4" stroke="#111" stroke-width="0.75"/>
<circle cx="447.01" cy="368.4" r="2.7" fill="#f6a0f4" stroke="#111" stroke-width="0.75"/>
<circle cx="447.01" cy="374.1" r="2.7" fill="#f6a0f4" stroke="#111" stroke-width="0.75"/>
<circle cx="447.01" cy="379.8" r="2.7" fill="#000000" stroke="#111" stroke-width="0.75"/>
<line x1="456" y1="265.8" x2="456" y2="379.8" stroke="#333" stroke-width="1.6"/>
<circle cx="456" cy="265.8" r="2.7" fill="#c0561e" stroke="#111" stroke-width="0.75"/>
<circle cx="456" cy="282.9" r="2.7" fill="#9c1c1f" stroke="#111" stroke-width="0.75"/>
<circle cx="456" cy="300" r="2.7" fill="#1c1ca3" stroke="#111" stroke-width="0.75"/>
<circle cx="456" cy="311.4" r="2.7" fill="#9c1c1f" stroke="#111" stroke-width="0.75"/>
<circle cx="456" cy="317.1" r="2.7" fill="#f08a8c" stroke="#111" stroke-width="0.75"/>
<circle cx="456" cy="322.8" r="2.7" fill="#f08a8c" stroke="#111" stroke-width="0.75"/>
<circle cx="456" cy="328.5" r="2.7" fill="#a52ad4" stroke="#111" stroke-width="0.75"/>
<circle cx="456" cy="334.2" r="2.7" fill="#4da8e0" stroke="#111" stroke-width="0.75"/>
<circle cx="456" cy="339.9" r="2.7" fill="#4da8e0" stroke="#111" stroke-width="0.75"/>
<circle cx="456" cy="345.6" r="2.7" fill="#000000" stroke="#111" stroke-width="0.75"/>
<circle cx="456" cy="351.3" r="2.7" fill="#f08a8c" stroke="#111" stroke-width="0.75"/>
<circle cx="456" cy="357" r="2.7" fill="#1f6a2a" stroke="#111" stroke-width="0.75"/>
<circle cx="456" cy="362.7" r="2.7" fill="#f6a0f4" stroke="#111" stroke-width="0.75"/>
<circle cx="456" cy="368.4" r="2.7" fill="#f6a0f4" stroke="#111" stroke-width="0.75"/>
<circle cx="456" cy="374.1" r="2.7" fill="#f6a0f4" stroke="#111" stroke-width="0.75"/>
<circle cx="456" cy="379.8" r="2.7" fill="#000000" stroke="#111" stroke-width="0.75"/>
<rect x="465.6" y="217.9" width="120.2" height="4.6" fill="#e0e0e0"/>
<rect x="465.6" y="229.3" width="120.2" height="4.6" fill="#e0e0e0"/>
<rect x="465.6" y="240.7" width="120.2" height="4.6" fill="#e0e0e0"/>
<rect x="465.6" y="252.1" width="120.2" height="4.6" fill="#e0e0e0"/>
<rect x="465.6" y="263.5" width="120.2" height="4.6" fill="#e0e0e0"/>
<rect x="465.6" y="274.9" width="120.2" height="4.6" fill="#e0e0e0"/>
<rect x="465.6" y="286.3" width="120.2" height="4.6" fill="#e0e0e0"/>
<rect x="465.6" y="297.7" width="120.2" height="4.6" fill="#e0e0e0"/>
<rect x="465.6" y="309.1" width="120.2" height="4.6" fill="#e0e0e0"/>
<rect x="465.6" y="320.5" width="120.2" height="4.6" fill="#e0e0e0"/>
<rect x="465.6" y="331.9" width="120.2" height="4.6" fill="#e0e0e0"/>
<rect x="465.6" y="343.3" width="120.2" height="4.6" fill="#e0e0e0"/>
<rect x="465.6" y="354.7" width="120.2" height="4.6" fill="#e0e0e0"/>
<rect x="465.6" y="366.1" width="120.2" height="4.6" fill="#e0e0e0"/>
<rect x="465.6" y="377.5" width="120.2" height="4.6" fill="#e0e0e0"/>
<rect x="465.6" y="218.75" width="0.8" height="2.9" fill="#eef05a"/>
<rect x="465.6" y="224.45" width="0.8" height="2.9" fill="#a2eaa0"/>
<rect x="465.6" y="230.15" width="0.8" height="2.9" fill="#b6c62c"/>
<rect x="465.6" y="235.85" width="0.8" height="2.9" fill="#f08a8c"/>
<rect x="465.6" y="241.55" width="0.8" height="2.9" fill="#000000"/>
<rect x="465.6" y="247.25" width="0.8" height="2.9" fill="#9c1c1f"/>
<rect x="465.6" y="252.95" width="0.8" height="2.9" fill="#1c1ca3"/>
<rect x="465.6" y="258.65" width="0.89" height="2.9" fill="#000000"/>
<rect x="465.6" y="264.35" width="1.18" height="2.9" fill="#c0561e"/>
<rect x="465.6" y="270.05" width="1.18" height="2.9" fill="#eca878"/>
<rect x="465.6" y="275.75" width="1.18" height="2.9" fill="#000000"/>
<rect x="465.6" y="281.45" width="1.48" height="2.9" fill="#9c1c1f"/>
<rect x="465.6" y="287.15" width="2.07" height="2.9" fill="#1f6a2a"/>
<rect x="465.6" y="292.85" width="4.74" height="2.9" fill="#f6a0f4"/>
<rect x="465.6" y="298.55" width="24.27" height="2.9" fill="#1c1ca3"/>
<rect x="465.6" y="304.25" width="26.34" height="2.9" fill="#f6a0f4"/>
<rect x="465.6" y="309.95" width="29.9" height="2.9" fill="#9c1c1f"/>
<rect x="465.6" y="315.65" width="31.38" height="2.9" fill="#f08a8c"/>
<rect x="465.6" y="321.35" width="74.89" height="2.9" fill="#f08a8c"/>
<rect x="465.6" y="327.05" width="85.54" height="2.9" fill="#a52ad4"/>
<rect x="465.6" y="332.75" width="111.89" height="2.9" fill="#4da8e0"/>
<rect x="465.6" y="338.45" width="111.89" height="2.9" fill="#4da8e0"/>
<rect x="465.6" y="344.15" width="111.89" height="2.9" fill="#000000"/>
<rect x="465.6" y="349.85" width="112.18" height="2.9" fill="#f08a8c"/>
<rect x="465.6" y="355.55" width="112.18" height="2.9" fill="#1f6a2a"/>
<rect x="465.6" y="361.25" width="112.18" height="2.9" fill="#f6a0f4"/>
<rect x="465.6" y="366.95" width="112.18" height="2.9" fill="#f6a0f4"/>
<rect x="465.6" y="372.65" width="112.18" height="2.9" fill="#f6a0f4"/>
<rect x="465.6" y="378.35" width="112.18" height="2.9" fill="#000000"/>
<line x1="465.6" y1="215.5" x2="465.6" y2="381.5" stroke="#666" stroke-width="0.9"/>
<line x1="465.6" y1="381.2" x2="582.7" y2="381.2" stroke="#222" stroke-width="0.9"/>
<line x1="465.6" y1="381.2" x2="465.6" y2="383" stroke="#222" stroke-width="0.8"/>
<text x="465.6" y="391.7" font-size="9.2" text-anchor="middle" fill="#111"  stroke="#111" stroke-width="0.13">0</text>
<line x1="495.2" y1="381.2" x2="495.2" y2="383" stroke="#222" stroke-width="0.8"/>
<text x="495.2" y="391.7" font-size="9.2" text-anchor="middle" fill="#111"  stroke="#111" stroke-width="0.13">100</text>
<line x1="524.8" y1="381.2" x2="524.8" y2="383" stroke="#222" stroke-width="0.8"/>
<text x="524.8" y="391.7" font-size="9.2" text-anchor="middle" fill="#111"  stroke="#111" stroke-width="0.13">200</text>
<line x1="554.4" y1="381.2" x2="554.4" y2="383" stroke="#222" stroke-width="0.8"/>
<text x="554.4" y="391.7" font-size="9.2" text-anchor="middle" fill="#111"  stroke="#111" stroke-width="0.13">300</text>
<text x="522" y="401" font-size="9.15" text-anchor="middle" fill="#111"  stroke="#111" stroke-width="0.13">Number of genomes according to the</text>
<text x="522" y="412.7" font-size="9.15" text-anchor="middle" fill="#111"  stroke="#111" stroke-width="0.13">presence of each AMR determinant</text>
<text x="587.2" y="225.2" font-size="27" text-anchor="start" fill="#000" stroke="#000" stroke-width="0.45">D</text>
<text x="591" y="236.2" font-size="8.95" text-anchor="start" font-weight="bold" fill="#111"  stroke="#111" stroke-width="0.08">Antimicrobial class</text>
<circle cx="597.3" cy="245.8" r="5.9" fill="#9c1c1f" stroke="#111" stroke-width="1.15"/>
<text x="610.2" y="249.8" font-size="9" text-anchor="start" fill="#111"  stroke="#111" stroke-width="0.13">Aminoglycoside</text>
<circle cx="597.3" cy="257.66" r="5.9" fill="#f08a8c" stroke="#111" stroke-width="1.15"/>
<text x="610.2" y="261.66" font-size="9" text-anchor="start" fill="#111"  stroke="#111" stroke-width="0.13">Beta-lactam</text>
<circle cx="597.3" cy="269.52" r="5.9" fill="#1c1ca3" stroke="#111" stroke-width="1.15"/>
<text x="610.2" y="273.52" font-size="9" text-anchor="start" fill="#111"  stroke="#111" stroke-width="0.13">Diaminopyrimidine</text>
<circle cx="597.3" cy="281.38" r="5.9" fill="#4da8e0" stroke="#111" stroke-width="1.15"/>
<text x="610.2" y="285.38" font-size="9" text-anchor="start" fill="#111"  stroke="#111" stroke-width="0.13">Disinfectant</text>
<circle cx="597.3" cy="293.24" r="5.9" fill="#1f6a2a" stroke="#111" stroke-width="1.15"/>
<text x="610.2" y="297.24" font-size="9" text-anchor="start" fill="#111"  stroke="#111" stroke-width="0.13">Flouroquinolone</text>
<circle cx="597.3" cy="305.1" r="5.9" fill="#a2eaa0" stroke="#111" stroke-width="1.15"/>
<text x="610.2" y="309.1" font-size="9" text-anchor="start" fill="#111"  stroke="#111" stroke-width="0.13">Fusidane</text>
<circle cx="597.3" cy="316.96" r="5.9" fill="#b6c62c" stroke="#111" stroke-width="1.15"/>
<text x="610.2" y="320.96" font-size="9" text-anchor="start" fill="#111"  stroke="#111" stroke-width="0.13">Lincosamide</text>
<circle cx="597.3" cy="328.82" r="5.9" fill="#eef05a" stroke="#111" stroke-width="1.15"/>
<text x="610.2" y="332.82" font-size="9" text-anchor="start" fill="#111"  stroke="#111" stroke-width="0.13">Mupirocin</text>
<circle cx="597.3" cy="340.68" r="5.9" fill="#c0561e" stroke="#111" stroke-width="1.15"/>
<text x="610.2" y="344.68" font-size="9" text-anchor="start" fill="#111"  stroke="#111" stroke-width="0.13">Nucleoside</text>
<circle cx="597.3" cy="352.54" r="5.9" fill="#eca878" stroke="#111" stroke-width="1.15"/>
<text x="610.2" y="356.54" font-size="9" text-anchor="start" fill="#111"  stroke="#111" stroke-width="0.13">Phenicol</text>
<circle cx="597.3" cy="364.4" r="5.9" fill="#a52ad4" stroke="#111" stroke-width="1.15"/>
<text x="610.2" y="368.4" font-size="9" text-anchor="start" fill="#111"  stroke="#111" stroke-width="0.13">Phosphonic acid</text>
<circle cx="597.3" cy="376.26" r="5.9" fill="#f6a0f4" stroke="#111" stroke-width="1.15"/>
<text x="610.2" y="380.26" font-size="9" text-anchor="start" fill="#111"  stroke="#111" stroke-width="0.13">Tetracycline</text>
<circle cx="597.3" cy="388.12" r="5.9" fill="#000000" stroke="#111" stroke-width="1.15"/>
<text x="610.2" y="392.12" font-size="9" text-anchor="start" fill="#111"  stroke="#111" stroke-width="0.13">Multidrug</text>
<text transform="translate(-0.3,446.8) scale(0.83,1)" font-size="27" stroke="#000" stroke-width="0.45">E</text>
<rect x="81.4" y="451.9" width="30.58" height="26.22" fill="#808080"/>
<rect x="111.68" y="451.9" width="30.58" height="26.22" fill="#5b1a8b"/>
<rect x="141.96" y="451.9" width="30.58" height="26.22" fill="#521490"/>
<rect x="172.24" y="451.9" width="30.58" height="26.22" fill="#b6d8be"/>
<rect x="202.52" y="451.9" width="30.58" height="26.22" fill="#b8d4b6"/>
<rect x="232.8" y="451.9" width="30.58" height="26.22" fill="#7a2a87"/>
<rect x="81.4" y="477.82" width="30.58" height="26.22" fill="#e49a6c"/>
<rect x="111.68" y="477.82" width="30.58" height="26.22" fill="#808080"/>
<rect x="141.96" y="477.82" width="30.58" height="26.22" fill="#84307f"/>
<rect x="172.24" y="477.82" width="30.58" height="26.22" fill="#e0a47c"/>
<rect x="202.52" y="477.82" width="30.58" height="26.22" fill="#e4976a"/>
<rect x="232.8" y="477.82" width="30.58" height="26.22" fill="#e0a37c"/>
<rect x="81.4" y="503.74" width="30.58" height="26.22" fill="#e0a47c"/>
<rect x="111.68" y="503.74" width="30.58" height="26.22" fill="#a8476f"/>
<rect x="141.96" y="503.74" width="30.58" height="26.22" fill="#808080"/>
<rect x="172.24" y="503.74" width="30.58" height="26.22" fill="#d4b892"/>
<rect x="202.52" y="503.74" width="30.58" height="26.22" fill="#dda880"/>
<rect x="232.8" y="503.74" width="30.58" height="26.22" fill="#dea47e"/>
<rect x="81.4" y="529.66" width="30.58" height="26.22" fill="#b6d8be"/>
<rect x="111.68" y="529.66" width="30.58" height="26.22" fill="#5a1a8c"/>
<rect x="141.96" y="529.66" width="30.58" height="26.22" fill="#b04e70"/>
<rect x="172.24" y="529.66" width="30.58" height="26.22" fill="#808080"/>
<rect x="202.52" y="529.66" width="30.58" height="26.22" fill="#4d108f"/>
<rect x="232.8" y="529.66" width="30.58" height="26.22" fill="#b6dabe"/>
<rect x="81.4" y="555.58" width="30.58" height="26.22" fill="#b8d6b6"/>
<rect x="111.68" y="555.58" width="30.58" height="26.22" fill="#661d88"/>
<rect x="141.96" y="555.58" width="30.58" height="26.22" fill="#9c3d7c"/>
<rect x="172.24" y="555.58" width="30.58" height="26.22" fill="#9e3f76"/>
<rect x="202.52" y="555.58" width="30.58" height="26.22" fill="#808080"/>
<rect x="232.8" y="555.58" width="30.58" height="26.22" fill="#b8d6b6"/>
<rect x="81.4" y="581.5" width="30.58" height="26.22" fill="#4e1090"/>
<rect x="111.68" y="581.5" width="30.58" height="26.22" fill="#581a8b"/>
<rect x="141.96" y="581.5" width="30.58" height="26.22" fill="#4c1190"/>
<rect x="172.24" y="581.5" width="30.58" height="26.22" fill="#b6dabf"/>
<rect x="202.52" y="581.5" width="30.58" height="26.22" fill="#b8d6b8"/>
<rect x="232.8" y="581.5" width="30.58" height="26.22" fill="#808080"/>
<text x="77" y="465.66" font-size="8.5" text-anchor="end" fill="#111"  stroke="#111" stroke-width="0.13">APH(3')-IIIa</text>
<text x="77" y="494.38" font-size="8.5" text-anchor="end" fill="#111"  stroke="#111" stroke-width="0.13">PC1 type blaZ</text>
<text x="77" y="520.8" font-size="8.5" text-anchor="end" fill="#111"  stroke="#111" stroke-width="0.13">fosB</text>
<text x="77" y="546.32" font-size="8.5" text-anchor="end" fill="#111"  stroke="#111" stroke-width="0.13">dfrG</text>
<text x="77" y="573.64" font-size="8.5" text-anchor="end" fill="#111"  stroke="#111" stroke-width="0.13">mecA</text>
<text x="77" y="599.36" font-size="8.5" text-anchor="end" fill="#111"  stroke="#111" stroke-width="0.13">tetL</text>
<text transform="translate(98.74,613.8) rotate(-90)" font-size="8.1" text-anchor="end" fill="#111" stroke="#111" stroke-width="0.13">APH(3')-IIIa</text>
<text transform="translate(129.02,613.8) rotate(-90)" font-size="8.1" text-anchor="end" fill="#111" stroke="#111" stroke-width="0.13">PC1 type blaZ</text>
<text transform="translate(159.3,613.8) rotate(-90)" font-size="8.1" text-anchor="end" fill="#111" stroke="#111" stroke-width="0.13">fosB</text>
<text transform="translate(189.58,613.8) rotate(-90)" font-size="8.1" text-anchor="end" fill="#111" stroke="#111" stroke-width="0.13">dfrG</text>
<text transform="translate(219.86,613.8) rotate(-90)" font-size="8.1" text-anchor="end" fill="#111" stroke="#111" stroke-width="0.13">mecA</text>
<text transform="translate(250.14,613.8) rotate(-90)" font-size="8.1" text-anchor="end" fill="#111" stroke="#111" stroke-width="0.13">tetL</text>
<text transform="translate(38.2,540) rotate(-90)" font-size="9.5" text-anchor="middle" font-weight="bold" fill="#111">Gene A</text>
<text x="182.5" y="655.2" font-size="9.6" text-anchor="middle" font-weight="bold" fill="#111"  stroke="#111" stroke-width="0.08">Gene B</text>
<text x="297.7" y="481.1" font-size="9.5" text-anchor="middle" font-weight="bold" fill="#111"  stroke="#111" stroke-width="0.08">Conditional</text>
<text x="298.5" y="492.3" font-size="9.5" text-anchor="middle" font-weight="bold" fill="#111"  stroke="#111" stroke-width="0.08">Probability</text>
<defs><linearGradient id="gE" x1="0" y1="0" x2="0" y2="1"><stop offset="0" stop-color="#4a0f92"/><stop offset="0.25" stop-color="#96387e"/><stop offset="0.5" stop-color="#e3856a"/><stop offset="0.75" stop-color="#dcaa84"/><stop offset="1" stop-color="#b6dcc2"/></linearGradient><linearGradient id="gF" x1="0" y1="0" x2="0" y2="1"><stop offset="0" stop-color="#ee4a80"/><stop offset="0.5" stop-color="#8a4a84"/><stop offset="1" stop-color="#3a5f8c"/></linearGradient></defs>
<rect x="279.1" y="503.3" width="20.4" height="60.1" fill="url(#gE)"/>
<text x="301" y="507" font-size="9" text-anchor="start" fill="#111"  stroke="#111" stroke-width="0.13">1.00</text>
<line x1="279.1" y1="503.8" x2="282" y2="503.8" stroke="#fff" stroke-width="0.6" opacity="0.6"/>
<line x1="296.6" y1="503.8" x2="299.5" y2="503.8" stroke="#fff" stroke-width="0.6" opacity="0.6"/>
<text x="301" y="521.9" font-size="9" text-anchor="start" fill="#111"  stroke="#111" stroke-width="0.13">0.75</text>
<line x1="279.1" y1="518.7" x2="282" y2="518.7" stroke="#fff" stroke-width="0.6" opacity="0.6"/>
<line x1="296.6" y1="518.7" x2="299.5" y2="518.7" stroke="#fff" stroke-width="0.6" opacity="0.6"/>
<text x="301" y="536.8" font-size="9" text-anchor="start" fill="#111"  stroke="#111" stroke-width="0.13">0.50</text>
<line x1="279.1" y1="533.6" x2="282" y2="533.6" stroke="#fff" stroke-width="0.6" opacity="0.6"/>
<line x1="296.6" y1="533.6" x2="299.5" y2="533.6" stroke="#fff" stroke-width="0.6" opacity="0.6"/>
<text x="301" y="551.7" font-size="9" text-anchor="start" fill="#111"  stroke="#111" stroke-width="0.13">0.25</text>
<line x1="279.1" y1="548.5" x2="282" y2="548.5" stroke="#fff" stroke-width="0.6" opacity="0.6"/>
<line x1="296.6" y1="548.5" x2="299.5" y2="548.5" stroke="#fff" stroke-width="0.6" opacity="0.6"/>
<text x="301" y="566.6" font-size="9" text-anchor="start" fill="#111"  stroke="#111" stroke-width="0.13">0.00</text>
<line x1="279.1" y1="563.4" x2="282" y2="563.4" stroke="#fff" stroke-width="0.6" opacity="0.6"/>
<line x1="296.6" y1="563.4" x2="299.5" y2="563.4" stroke="#fff" stroke-width="0.6" opacity="0.6"/>
<text transform="translate(353.2,446.7) scale(0.9,1)" font-size="27" stroke="#000" stroke-width="0.45">F</text>
<line x1="499.21" y1="455" x2="436.5" y2="455" stroke="#e8487c" stroke-width="2.6"/>
<path d="M429.2,455 L438,450.5 L436.4,455 L438,459.5Z" fill="#e8487c"/>
<line x1="554.27" y1="543.31" x2="431.99" y2="468.83" stroke="#e8487c" stroke-width="2.6"/>
<path d="M425.75,465.03 L435.61,465.76 L431.9,468.77 L430.93,473.45Z" fill="#e8487c"/>
<line x1="367.83" y1="534.44" x2="399.21" y2="475.58" stroke="#e8487c" stroke-width="2.6"/>
<path d="M402.64,469.13 L402.48,479.02 L399.26,475.49 L394.53,474.78Z" fill="#e8487c"/>
<line x1="411.3" y1="632.96" x2="411.3" y2="479.19" stroke="#b44c86" stroke-width="2.6"/>
<path d="M411.3,471.89 L415.8,480.69 L411.3,479.09 L406.8,480.69Z" fill="#b44c86"/>
<line x1="423.61" y1="465.71" x2="502.21" y2="627.18" stroke="#5c4a7c" stroke-width="2.6"/>
<path d="M505.41,633.74 L497.51,627.8 L502.26,627.27 L505.6,623.86Z" fill="#5c4a7c"/>
<line x1="515.4" y1="471.5" x2="515.4" y2="624.27" stroke="#e8487c" stroke-width="2.6"/>
<path d="M515.4,631.57 L510.9,622.77 L515.4,624.37 L519.9,622.77Z" fill="#e8487c"/>
<line x1="558.86" y1="568.67" x2="525.29" y2="627.02" stroke="#e8487c" stroke-width="2.6"/>
<path d="M521.65,633.35 L522.14,623.48 L525.24,627.11 L529.94,627.96Z" fill="#e8487c"/>
<line x1="431.1" y1="648.2" x2="489.41" y2="648.2" stroke="#3c5e88" stroke-width="2.6"/>
<path d="M496.71,648.2 L487.91,652.7 L489.51,648.2 L487.91,643.7Z" fill="#3c5e88"/>
<line x1="369.27" y1="564.9" x2="399.92" y2="628.29" stroke="#e8487c" stroke-width="5.2"/>
<path d="M403.54,635.77 L394.5,629.25 L399.97,628.38 L404.04,624.64Z" fill="#e8487c"/>
<line x1="521.87" y1="470.04" x2="556.97" y2="528.18" stroke="#e8487c" stroke-width="8.0"/>
<path d="M562.55,537.43 L548.49,531.55 L557.02,528.27 L563.9,522.25Z" fill="#e8487c"/>
<circle cx="412" cy="454.7" r="16.2" fill="#f08a8c" stroke="#1e2620" stroke-width="1.3"/>
<circle cx="515.2" cy="455.5" r="16.2" fill="#f6a0f4" stroke="#1e2620" stroke-width="1.3"/>
<circle cx="363.7" cy="549.9" r="16.2" fill="#1c1ca3" stroke="#1e2620" stroke-width="1.3"/>
<circle cx="565.9" cy="554.3" r="16.2" fill="#9c1c1f" stroke="#1e2620" stroke-width="1.3"/>
<circle cx="415.1" cy="648.5" r="16.2" fill="#f08a8c" stroke="#1e2620" stroke-width="1.3"/>
<circle cx="513.9" cy="648.7" r="16.2" fill="#b030d8" stroke="#1e2620" stroke-width="1.3"/>
<text x="412" y="454" font-size="7.4" text-anchor="middle" fill="#fff" stroke="none" opacity="0.92">PC1 type</text>
<text x="412" y="462.8" font-size="7.4" text-anchor="middle" fill="#fff" stroke="none" opacity="0.92">blaZ</text>
<text x="515.2" y="458.6" font-size="8" text-anchor="middle" fill="#fff" stroke="none" opacity="0.92">tetL</text>
<text x="363.6" y="553.4" font-size="8" text-anchor="middle" fill="#fff" stroke="none" opacity="0.92">dfrG</text>
<text x="565.6" y="557.4" font-size="6.4" text-anchor="middle" fill="#fff" stroke="none" opacity="0.92">APH(3')-IIIa</text>
<text x="415.3" y="651.7" font-size="8" text-anchor="middle" fill="#fff" stroke="none" opacity="0.92">mecA</text>
<text x="514.1" y="651.7" font-size="8" text-anchor="middle" fill="#fff" stroke="none" opacity="0.92">fosB</text>
<text x="590.4" y="444.9" font-size="8.9" text-anchor="start" font-weight="bold" fill="#111"  stroke="#111" stroke-width="0.08">Antimicrobial class</text>
<circle cx="594.8" cy="453.9" r="5.85" fill="#9c1c1f" stroke="#111" stroke-width="1.2"/>
<text x="607.3" y="457.8" font-size="9.2" text-anchor="start" fill="#111"  stroke="#111" stroke-width="0.13">Aminoglycoside</text>
<circle cx="594.8" cy="465.8" r="5.85" fill="#f08a8c" stroke="#111" stroke-width="1.2"/>
<text x="607.3" y="469.7" font-size="9.2" text-anchor="start" fill="#111"  stroke="#111" stroke-width="0.13">Beta-lactam</text>
<circle cx="594.8" cy="477.7" r="5.85" fill="#1c1ca3" stroke="#111" stroke-width="1.2"/>
<text x="607.3" y="481.6" font-size="9.2" text-anchor="start" fill="#111"  stroke="#111" stroke-width="0.13">Diaminopyrimidine</text>
<circle cx="594.8" cy="489.6" r="5.85" fill="#b030d8" stroke="#111" stroke-width="1.2"/>
<text x="607.3" y="493.5" font-size="9.2" text-anchor="start" fill="#111"  stroke="#111" stroke-width="0.13">Phosphonic acid</text>
<circle cx="594.8" cy="501.5" r="5.85" fill="#f6a0f4" stroke="#111" stroke-width="1.2"/>
<text x="607.3" y="505.4" font-size="9.2" text-anchor="start" fill="#111"  stroke="#111" stroke-width="0.13">Tetracycline</text>
<text x="585.7" y="567.1" font-size="8.6" text-anchor="start" font-weight="bold" fill="#111"  stroke="#111" stroke-width="0.08">Relative Risk</text>
<line x1="586.5" y1="573.5" x2="604.1" y2="573.5" stroke="#000" stroke-width="1.9"/>
<line x1="586.5" y1="584.1" x2="604.1" y2="584.1" stroke="#000" stroke-width="2.2"/>
<line x1="586.8" y1="594.5" x2="602.9" y2="594.5" stroke="#000" stroke-width="7.6" stroke-linecap="round"/>
<text x="604.5" y="576.3" font-size="9.7" text-anchor="start" fill="#111"  stroke="#111" stroke-width="0.13">1.05</text>
<text x="604.5" y="586.9" font-size="9.7" text-anchor="start" fill="#111"  stroke="#111" stroke-width="0.13">1.68</text>
<text x="607.5" y="598" font-size="9.7" text-anchor="start" fill="#111"  stroke="#111" stroke-width="0.13">23.74</text>
<text x="585.7" y="612.3" font-size="8.6" text-anchor="start" font-weight="bold" fill="#111"  stroke="#111" stroke-width="0.08">Conditional Probability</text>
<rect x="585" y="618.2" width="6.7" height="65.8" fill="url(#gF)"/>
<line x1="591.7" y1="618.8" x2="594.5" y2="618.8" stroke="#222" stroke-width="0.8"/>
<text x="595.5" y="622.3" font-size="9.7" text-anchor="start" fill="#111"  stroke="#111" stroke-width="0.13">0.997</text>
<line x1="591.7" y1="649.7" x2="594.5" y2="649.7" stroke="#222" stroke-width="0.8"/>
<text x="595.5" y="653.2" font-size="9.7" text-anchor="start" fill="#111"  stroke="#111" stroke-width="0.13">0.974</text>
<line x1="591.7" y1="682.5" x2="594.5" y2="682.5" stroke="#222" stroke-width="0.8"/>
<text x="595.5" y="686" font-size="9.7" text-anchor="start" fill="#111"  stroke="#111" stroke-width="0.13">0.787</text>
</svg></body></html>
